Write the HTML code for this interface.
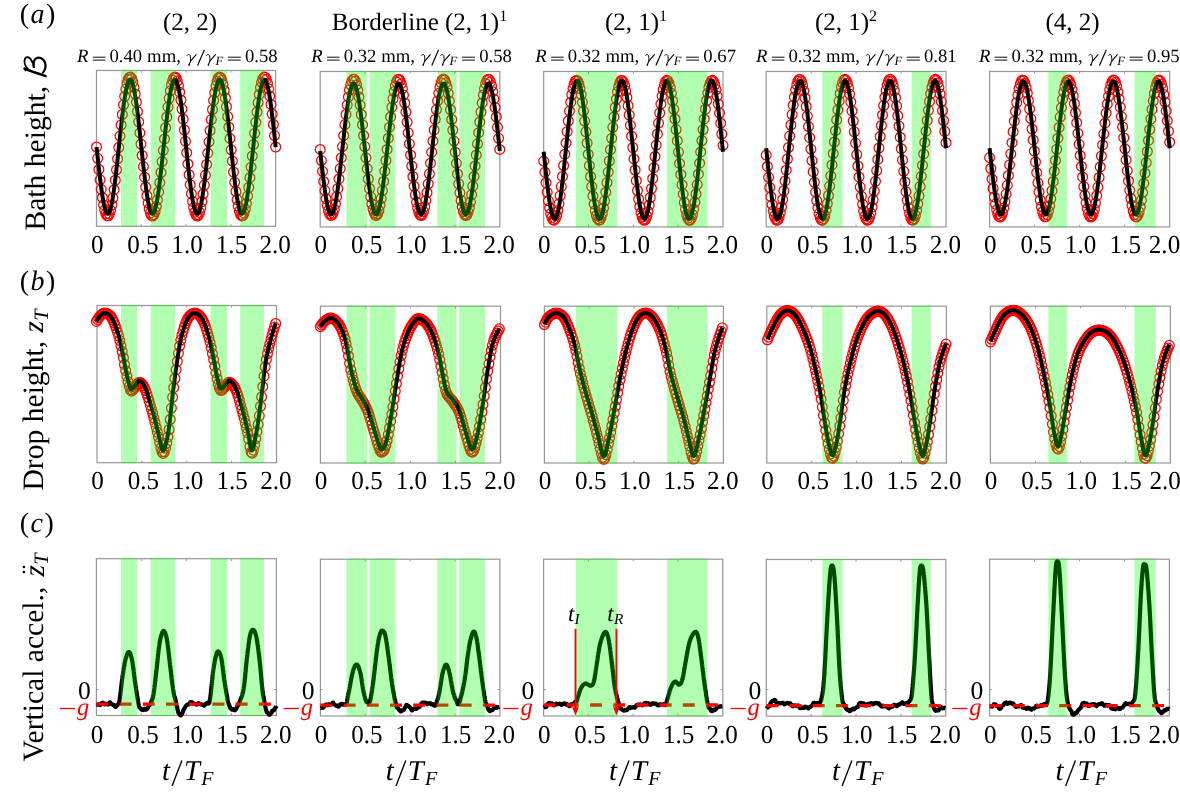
<!DOCTYPE html>
<html><head><meta charset="utf-8"><style>
html,body{margin:0;padding:0;background:#fff;width:1180px;height:793px;overflow:hidden}
svg{display:block;font-family:"Liberation Serif", serif;text-rendering:geometricPrecision;will-change:transform}
</style></head><body>
<svg width="1180" height="793" viewBox="0 0 1180 793">
<rect width="1180" height="793" fill="#fff"/>
<clipPath id="cpa0"><rect x="90.5" y="64.5" width="191.1" height="167.8"/></clipPath>
<g>
<rect x="96.5" y="70.5" width="179.1" height="155.8" fill="none" stroke="#969696" stroke-width="1.2"/>
<path d="M141.3 70.5v2.2M141.3 226.3v-2.2" stroke="#969696" stroke-width="1"/>
<path d="M186.1 70.5v2.2M186.1 226.3v-2.2" stroke="#969696" stroke-width="1"/>
<path d="M230.9 70.5v2.2M230.9 226.3v-2.2" stroke="#969696" stroke-width="1"/>
<g clip-path="url(#cpa0)">
<g fill="none" stroke="#ff0000" stroke-width="1.25"><circle cx="96.5" cy="147.0" r="4.9"/><circle cx="97.7" cy="158.3" r="4.9"/><circle cx="98.9" cy="169.4" r="4.9"/><circle cx="100.1" cy="179.8" r="4.9"/><circle cx="101.2" cy="189.3" r="4.9"/><circle cx="102.4" cy="197.7" r="4.9"/><circle cx="103.6" cy="204.7" r="4.9"/><circle cx="104.7" cy="210.1" r="4.9"/><circle cx="105.9" cy="213.8" r="4.9"/><circle cx="107.1" cy="215.7" r="4.9"/><circle cx="108.3" cy="215.8" r="4.9"/><circle cx="109.4" cy="214.0" r="4.9"/><circle cx="110.6" cy="210.3" r="4.9"/><circle cx="111.8" cy="205.0" r="4.9"/><circle cx="112.9" cy="198.0" r="4.9"/><circle cx="114.1" cy="189.7" r="4.9"/><circle cx="115.3" cy="180.2" r="4.9"/><circle cx="116.5" cy="169.8" r="4.9"/><circle cx="117.6" cy="158.8" r="4.9"/><circle cx="118.8" cy="147.5" r="4.9"/><circle cx="120.0" cy="136.1" r="4.9"/><circle cx="121.1" cy="125.0" r="4.9"/><circle cx="122.3" cy="114.5" r="4.9"/><circle cx="123.5" cy="104.8" r="4.9"/><circle cx="124.7" cy="96.3" r="4.9"/><circle cx="125.8" cy="89.1" r="4.9"/><circle cx="127.0" cy="83.5" r="4.9"/><circle cx="128.2" cy="79.5" r="4.9"/><circle cx="129.3" cy="77.4" r="4.9"/><circle cx="130.5" cy="77.1" r="4.9"/><circle cx="131.7" cy="78.7" r="4.9"/><circle cx="132.8" cy="82.1" r="4.9"/><circle cx="134.0" cy="87.3" r="4.9"/><circle cx="135.2" cy="94.0" r="4.9"/><circle cx="136.4" cy="102.2" r="4.9"/><circle cx="137.5" cy="111.5" r="4.9"/><circle cx="138.7" cy="121.8" r="4.9"/><circle cx="139.9" cy="132.8" r="4.9"/><circle cx="141.0" cy="144.1" r="4.9"/><circle cx="142.2" cy="155.5" r="4.9"/><circle cx="143.4" cy="166.6" r="4.9"/><circle cx="144.6" cy="177.2" r="4.9"/><circle cx="145.7" cy="187.0" r="4.9"/><circle cx="146.9" cy="195.7" r="4.9"/><circle cx="148.1" cy="203.1" r="4.9"/><circle cx="149.2" cy="208.9" r="4.9"/><circle cx="150.4" cy="213.1" r="4.9"/><circle cx="151.6" cy="215.4" r="4.9"/><circle cx="152.8" cy="216.0" r="4.9"/><circle cx="153.9" cy="214.6" r="4.9"/><circle cx="155.1" cy="211.4" r="4.9"/><circle cx="156.3" cy="206.5" r="4.9"/><circle cx="157.4" cy="199.9" r="4.9"/><circle cx="158.6" cy="191.9" r="4.9"/><circle cx="159.8" cy="182.7" r="4.9"/><circle cx="161.0" cy="172.5" r="4.9"/><circle cx="162.1" cy="161.6" r="4.9"/><circle cx="163.3" cy="150.3" r="4.9"/><circle cx="164.5" cy="138.9" r="4.9"/><circle cx="165.6" cy="127.7" r="4.9"/><circle cx="166.8" cy="117.0" r="4.9"/><circle cx="168.0" cy="107.1" r="4.9"/><circle cx="169.1" cy="98.3" r="4.9"/><circle cx="170.3" cy="90.8" r="4.9"/><circle cx="171.5" cy="84.7" r="4.9"/><circle cx="172.7" cy="80.3" r="4.9"/><circle cx="173.8" cy="77.8" r="4.9"/><circle cx="175.0" cy="77.0" r="4.9"/><circle cx="176.2" cy="78.1" r="4.9"/><circle cx="177.3" cy="81.1" r="4.9"/><circle cx="178.5" cy="85.8" r="4.9"/><circle cx="179.7" cy="92.2" r="4.9"/><circle cx="180.9" cy="100.0" r="4.9"/><circle cx="182.0" cy="109.1" r="4.9"/><circle cx="183.2" cy="119.2" r="4.9"/><circle cx="184.4" cy="130.0" r="4.9"/><circle cx="185.5" cy="141.3" r="4.9"/><circle cx="186.7" cy="152.7" r="4.9"/><circle cx="187.9" cy="163.9" r="4.9"/><circle cx="189.1" cy="174.7" r="4.9"/><circle cx="190.2" cy="184.7" r="4.9"/><circle cx="191.4" cy="193.7" r="4.9"/><circle cx="192.6" cy="201.4" r="4.9"/><circle cx="193.7" cy="207.6" r="4.9"/><circle cx="194.9" cy="212.2" r="4.9"/><circle cx="196.1" cy="215.0" r="4.9"/><circle cx="197.2" cy="216.0" r="4.9"/><circle cx="198.4" cy="215.1" r="4.9"/><circle cx="199.6" cy="212.4" r="4.9"/><circle cx="200.8" cy="207.9" r="4.9"/><circle cx="201.9" cy="201.7" r="4.9"/><circle cx="203.1" cy="194.0" r="4.9"/><circle cx="204.3" cy="185.1" r="4.9"/><circle cx="205.4" cy="175.1" r="4.9"/><circle cx="206.6" cy="164.4" r="4.9"/><circle cx="207.8" cy="153.2" r="4.9"/><circle cx="209.0" cy="141.8" r="4.9"/><circle cx="210.1" cy="130.5" r="4.9"/><circle cx="211.3" cy="119.6" r="4.9"/><circle cx="212.5" cy="109.5" r="4.9"/><circle cx="213.6" cy="100.4" r="4.9"/><circle cx="214.8" cy="92.5" r="4.9"/><circle cx="216.0" cy="86.1" r="4.9"/><circle cx="217.2" cy="81.3" r="4.9"/><circle cx="218.3" cy="78.2" r="4.9"/><circle cx="219.5" cy="77.0" r="4.9"/><circle cx="220.7" cy="77.7" r="4.9"/><circle cx="221.8" cy="80.2" r="4.9"/><circle cx="223.0" cy="84.5" r="4.9"/><circle cx="224.2" cy="90.5" r="4.9"/><circle cx="225.4" cy="97.9" r="4.9"/><circle cx="226.5" cy="106.7" r="4.9"/><circle cx="227.7" cy="116.6" r="4.9"/><circle cx="228.9" cy="127.2" r="4.9"/><circle cx="230.0" cy="138.4" r="4.9"/><circle cx="231.2" cy="149.8" r="4.9"/><circle cx="232.4" cy="161.1" r="4.9"/><circle cx="233.5" cy="172.0" r="4.9"/><circle cx="234.7" cy="182.3" r="4.9"/><circle cx="235.9" cy="191.5" r="4.9"/><circle cx="237.1" cy="199.6" r="4.9"/><circle cx="238.2" cy="206.2" r="4.9"/><circle cx="239.4" cy="211.2" r="4.9"/><circle cx="240.6" cy="214.5" r="4.9"/><circle cx="241.7" cy="215.9" r="4.9"/><circle cx="242.9" cy="215.5" r="4.9"/><circle cx="244.1" cy="213.2" r="4.9"/><circle cx="245.3" cy="209.1" r="4.9"/><circle cx="246.4" cy="203.4" r="4.9"/><circle cx="247.6" cy="196.1" r="4.9"/><circle cx="248.8" cy="187.4" r="4.9"/><circle cx="249.9" cy="177.7" r="4.9"/><circle cx="251.1" cy="167.1" r="4.9"/><circle cx="252.3" cy="156.0" r="4.9"/><circle cx="253.5" cy="144.6" r="4.9"/><circle cx="254.6" cy="133.3" r="4.9"/><circle cx="255.8" cy="122.3" r="4.9"/><circle cx="257.0" cy="112.0" r="4.9"/><circle cx="258.1" cy="102.6" r="4.9"/><circle cx="259.3" cy="94.4" r="4.9"/><circle cx="260.5" cy="87.5" r="4.9"/><circle cx="261.6" cy="82.3" r="4.9"/><circle cx="262.8" cy="78.8" r="4.9"/><circle cx="264.0" cy="77.1" r="4.9"/><circle cx="265.2" cy="77.3" r="4.9"/><circle cx="266.3" cy="79.4" r="4.9"/><circle cx="267.5" cy="83.3" r="4.9"/><circle cx="268.7" cy="88.8" r="4.9"/><circle cx="269.8" cy="95.9" r="4.9"/><circle cx="271.0" cy="104.4" r="4.9"/><circle cx="272.2" cy="114.0" r="4.9"/><circle cx="273.4" cy="124.5" r="4.9"/><circle cx="274.5" cy="135.6" r="4.9"/><circle cx="275.7" cy="147.0" r="4.9"/></g>
<path d="M96.5 147.1 L97.1 151.8 L97.6 156.5 L98.1 161.1 L98.6 165.7 L99.1 170.2 L99.6 174.5 L100.1 178.7 L100.6 182.8 L101.1 186.6 L101.6 190.3 L102.1 193.8 L102.6 197.0 L103.1 200.0 L103.6 202.7 L104.1 205.1 L104.6 207.3 L105.1 209.1 L105.6 210.7 L106.1 211.9 L106.6 212.8 L107.1 213.4 L107.6 213.7 L108.1 213.6 L108.6 213.2 L109.1 212.5 L109.6 211.4 L110.1 210.1 L110.6 208.4 L111.1 206.4 L111.6 204.1 L112.1 201.5 L112.6 198.7 L113.1 195.6 L113.6 192.3 L114.1 188.7 L114.6 185.0 L115.1 181.0 L115.6 176.9 L116.1 172.6 L116.6 168.2 L117.1 163.7 L117.6 159.1 L118.1 154.5 L118.6 149.8 L119.1 145.1 L119.6 140.4 L120.1 135.7 L120.6 131.1 L121.1 126.6 L121.6 122.2 L122.1 117.8 L122.6 113.7 L123.1 109.7 L123.6 105.8 L124.1 102.2 L124.6 98.8 L125.1 95.6 L125.6 92.7 L126.1 90.1 L126.6 87.7 L127.1 85.6 L127.6 83.8 L128.1 82.4 L128.6 81.2 L129.1 80.4 L129.6 79.9 L130.1 79.7 L130.6 79.9 L131.1 80.3 L131.6 81.1 L132.1 82.3 L132.6 83.7 L133.1 85.5 L133.6 87.6 L134.1 89.9 L134.6 92.5 L135.1 95.4 L135.6 98.6 L136.1 102.0 L136.6 105.6 L137.1 109.4 L137.6 113.4 L138.1 117.6 L138.6 121.9 L139.1 126.3 L139.6 130.8 L140.1 135.4 L140.6 140.1 L141.1 144.8 L141.6 149.5 L142.1 154.2 L142.6 158.8 L143.1 163.4 L143.6 167.9 L144.1 172.3 L144.6 176.6 L145.1 180.7 L145.6 184.7 L146.1 188.5 L146.6 192.1 L147.1 195.4 L147.6 198.5 L148.1 201.4 L148.6 203.9 L149.1 206.2 L149.6 208.3 L150.1 210.0 L150.6 211.4 L151.1 212.4 L151.6 213.2 L152.1 213.6 L152.6 213.7 L153.1 213.5 L153.6 212.9 L154.1 212.0 L154.6 210.8 L155.1 209.3 L155.6 207.4 L156.1 205.3 L156.6 202.9 L157.1 200.2 L157.6 197.2 L158.1 194.0 L158.6 190.5 L159.1 186.9 L159.6 183.0 L160.1 179.0 L160.6 174.8 L161.1 170.4 L161.6 166.0 L162.1 161.4 L162.6 156.8 L163.1 152.1 L163.6 147.4 L164.1 142.7 L164.6 138.1 L165.1 133.4 L165.6 128.8 L166.1 124.4 L166.6 120.0 L167.1 115.7 L167.6 111.6 L168.1 107.7 L168.6 104.0 L169.1 100.5 L169.6 97.2 L170.1 94.1 L170.6 91.4 L171.1 88.8 L171.6 86.6 L172.1 84.7 L172.6 83.1 L173.1 81.7 L173.6 80.8 L174.1 80.1 L174.6 79.7 L175.1 79.7 L175.6 80.1 L176.1 80.7 L176.6 81.7 L177.1 83.0 L177.6 84.6 L178.1 86.5 L178.6 88.7 L179.1 91.2 L179.6 94.0 L180.1 97.0 L180.6 100.3 L181.1 103.8 L181.6 107.5 L182.1 111.4 L182.6 115.5 L183.1 119.7 L183.6 124.1 L184.1 128.6 L184.6 133.1 L185.1 137.8 L185.6 142.4 L186.1 147.1 L186.6 151.8 L187.1 156.5 L187.6 161.1 L188.1 165.7 L188.6 170.2 L189.1 174.5 L189.6 178.7 L190.1 182.8 L190.6 186.6 L191.1 190.3 L191.6 193.8 L192.1 197.0 L192.6 200.0 L193.1 202.7 L193.6 205.1 L194.1 207.3 L194.6 209.1 L195.1 210.7 L195.6 211.9 L196.1 212.8 L196.6 213.4 L197.1 213.7 L197.6 213.6 L198.1 213.2 L198.6 212.5 L199.1 211.4 L199.6 210.1 L200.1 208.4 L200.6 206.4 L201.1 204.1 L201.6 201.5 L202.1 198.7 L202.6 195.6 L203.1 192.3 L203.6 188.7 L204.1 185.0 L204.6 181.0 L205.1 176.9 L205.6 172.6 L206.1 168.2 L206.6 163.7 L207.1 159.1 L207.6 154.5 L208.1 149.8 L208.6 145.1 L209.1 140.4 L209.6 135.7 L210.1 131.1 L210.6 126.6 L211.1 122.2 L211.6 117.8 L212.1 113.7 L212.6 109.7 L213.1 105.8 L213.6 102.2 L214.1 98.8 L214.6 95.6 L215.1 92.7 L215.6 90.1 L216.2 87.7 L216.7 85.6 L217.2 83.8 L217.7 82.4 L218.2 81.2 L218.7 80.4 L219.2 79.9 L219.7 79.7 L220.2 79.9 L220.7 80.3 L221.2 81.1 L221.7 82.3 L222.2 83.7 L222.7 85.5 L223.2 87.6 L223.7 89.9 L224.2 92.5 L224.7 95.4 L225.2 98.6 L225.7 102.0 L226.2 105.6 L226.7 109.4 L227.2 113.4 L227.7 117.6 L228.2 121.9 L228.7 126.3 L229.2 130.8 L229.7 135.4 L230.2 140.1 L230.7 144.8 L231.2 149.5 L231.7 154.2 L232.2 158.8 L232.7 163.4 L233.2 167.9 L233.7 172.3 L234.2 176.6 L234.7 180.7 L235.2 184.7 L235.7 188.5 L236.2 192.1 L236.7 195.4 L237.2 198.5 L237.7 201.4 L238.2 203.9 L238.7 206.2 L239.2 208.3 L239.7 210.0 L240.2 211.4 L240.7 212.4 L241.2 213.2 L241.7 213.6 L242.2 213.7 L242.7 213.5 L243.2 212.9 L243.7 212.0 L244.2 210.8 L244.7 209.3 L245.2 207.4 L245.7 205.3 L246.2 202.9 L246.7 200.2 L247.2 197.2 L247.7 194.0 L248.2 190.5 L248.7 186.9 L249.2 183.0 L249.7 179.0 L250.2 174.8 L250.7 170.4 L251.2 166.0 L251.7 161.4 L252.2 156.8 L252.7 152.1 L253.2 147.4 L253.7 142.7 L254.2 138.1 L254.7 133.4 L255.2 128.8 L255.7 124.4 L256.2 120.0 L256.7 115.7 L257.2 111.6 L257.7 107.7 L258.2 104.0 L258.7 100.5 L259.2 97.2 L259.7 94.1 L260.2 91.4 L260.7 88.8 L261.2 86.6 L261.7 84.7 L262.2 83.1 L262.7 81.7 L263.2 80.8 L263.7 80.1 L264.2 79.7 L264.7 79.7 L265.2 80.1 L265.7 80.7 L266.2 81.7 L266.7 83.0 L267.2 84.6 L267.7 86.5 L268.2 88.7 L268.7 91.2 L269.2 94.0 L269.7 97.0 L270.2 100.3 L270.7 103.8 L271.2 107.5 L271.7 111.4 L272.2 115.5 L272.7 119.7 L273.2 124.1 L273.7 128.6 L274.2 133.1 L274.7 137.8 L275.2 142.4 L275.7 147.1" fill="none" stroke="#000" stroke-width="4.0" stroke-linejoin="round" stroke-linecap="butt"/>
</g>
<rect x="121.0" y="69.9" width="16.0" height="157.0" fill="#00ff00" fill-opacity="0.3"/>
<rect x="150.6" y="69.9" width="24.6" height="157.0" fill="#00ff00" fill-opacity="0.3"/>
<rect x="210.6" y="69.9" width="16.4" height="157.0" fill="#00ff00" fill-opacity="0.3"/>
<rect x="240.2" y="69.9" width="23.8" height="157.0" fill="#00ff00" fill-opacity="0.3"/>
</g>
<clipPath id="cpa1"><rect x="314.2" y="65.5" width="191.6" height="167.4"/></clipPath>
<g>
<rect x="320.2" y="71.5" width="179.6" height="155.4" fill="none" stroke="#969696" stroke-width="1.2"/>
<path d="M365.1 71.5v2.2M365.1 226.9v-2.2" stroke="#969696" stroke-width="1"/>
<path d="M410.0 71.5v2.2M410.0 226.9v-2.2" stroke="#969696" stroke-width="1"/>
<path d="M454.9 71.5v2.2M454.9 226.9v-2.2" stroke="#969696" stroke-width="1"/>
<g clip-path="url(#cpa1)">
<g fill="none" stroke="#ff0000" stroke-width="1.25"><circle cx="320.2" cy="149.4" r="4.9"/><circle cx="321.4" cy="160.6" r="4.9"/><circle cx="322.5" cy="171.3" r="4.9"/><circle cx="323.7" cy="181.4" r="4.9"/><circle cx="324.9" cy="190.6" r="4.9"/><circle cx="326.1" cy="198.7" r="4.9"/><circle cx="327.2" cy="205.3" r="4.9"/><circle cx="328.4" cy="210.4" r="4.9"/><circle cx="329.6" cy="213.8" r="4.9"/><circle cx="330.8" cy="215.4" r="4.9"/><circle cx="331.9" cy="215.1" r="4.9"/><circle cx="333.1" cy="213.1" r="4.9"/><circle cx="334.3" cy="209.2" r="4.9"/><circle cx="335.5" cy="203.7" r="4.9"/><circle cx="336.6" cy="196.7" r="4.9"/><circle cx="337.8" cy="188.4" r="4.9"/><circle cx="339.0" cy="178.9" r="4.9"/><circle cx="340.2" cy="168.6" r="4.9"/><circle cx="341.3" cy="157.7" r="4.9"/><circle cx="342.5" cy="146.6" r="4.9"/><circle cx="343.7" cy="135.4" r="4.9"/><circle cx="344.9" cy="124.6" r="4.9"/><circle cx="346.0" cy="114.4" r="4.9"/><circle cx="347.2" cy="105.1" r="4.9"/><circle cx="348.4" cy="96.9" r="4.9"/><circle cx="349.5" cy="90.0" r="4.9"/><circle cx="350.7" cy="84.8" r="4.9"/><circle cx="351.9" cy="81.1" r="4.9"/><circle cx="353.1" cy="79.3" r="4.9"/><circle cx="354.2" cy="79.3" r="4.9"/><circle cx="355.4" cy="81.2" r="4.9"/><circle cx="356.6" cy="84.8" r="4.9"/><circle cx="357.8" cy="90.1" r="4.9"/><circle cx="358.9" cy="96.9" r="4.9"/><circle cx="360.1" cy="105.1" r="4.9"/><circle cx="361.3" cy="114.5" r="4.9"/><circle cx="362.5" cy="124.7" r="4.9"/><circle cx="363.6" cy="135.5" r="4.9"/><circle cx="364.8" cy="146.6" r="4.9"/><circle cx="366.0" cy="157.8" r="4.9"/><circle cx="367.2" cy="168.7" r="4.9"/><circle cx="368.3" cy="179.0" r="4.9"/><circle cx="369.5" cy="188.4" r="4.9"/><circle cx="370.7" cy="196.8" r="4.9"/><circle cx="371.8" cy="203.8" r="4.9"/><circle cx="373.0" cy="209.3" r="4.9"/><circle cx="374.2" cy="213.1" r="4.9"/><circle cx="375.4" cy="215.1" r="4.9"/><circle cx="376.5" cy="215.4" r="4.9"/><circle cx="377.7" cy="213.8" r="4.9"/><circle cx="378.9" cy="210.4" r="4.9"/><circle cx="380.1" cy="205.3" r="4.9"/><circle cx="381.2" cy="198.6" r="4.9"/><circle cx="382.4" cy="190.6" r="4.9"/><circle cx="383.6" cy="181.4" r="4.9"/><circle cx="384.8" cy="171.2" r="4.9"/><circle cx="385.9" cy="160.5" r="4.9"/><circle cx="387.1" cy="149.4" r="4.9"/><circle cx="388.3" cy="138.2" r="4.9"/><circle cx="389.5" cy="127.2" r="4.9"/><circle cx="390.6" cy="116.9" r="4.9"/><circle cx="391.8" cy="107.3" r="4.9"/><circle cx="393.0" cy="98.8" r="4.9"/><circle cx="394.2" cy="91.6" r="4.9"/><circle cx="395.3" cy="85.9" r="4.9"/><circle cx="396.5" cy="81.9" r="4.9"/><circle cx="397.7" cy="79.6" r="4.9"/><circle cx="398.8" cy="79.2" r="4.9"/><circle cx="400.0" cy="80.5" r="4.9"/><circle cx="401.2" cy="83.7" r="4.9"/><circle cx="402.4" cy="88.6" r="4.9"/><circle cx="403.5" cy="95.1" r="4.9"/><circle cx="404.7" cy="103.0" r="4.9"/><circle cx="405.9" cy="112.0" r="4.9"/><circle cx="407.1" cy="122.1" r="4.9"/><circle cx="408.2" cy="132.8" r="4.9"/><circle cx="409.4" cy="143.8" r="4.9"/><circle cx="410.6" cy="155.0" r="4.9"/><circle cx="411.8" cy="166.0" r="4.9"/><circle cx="412.9" cy="176.5" r="4.9"/><circle cx="414.1" cy="186.2" r="4.9"/><circle cx="415.3" cy="194.8" r="4.9"/><circle cx="416.5" cy="202.2" r="4.9"/><circle cx="417.6" cy="208.1" r="4.9"/><circle cx="418.8" cy="212.3" r="4.9"/><circle cx="420.0" cy="214.8" r="4.9"/><circle cx="421.2" cy="215.5" r="4.9"/><circle cx="422.3" cy="214.3" r="4.9"/><circle cx="423.5" cy="211.4" r="4.9"/><circle cx="424.7" cy="206.7" r="4.9"/><circle cx="425.8" cy="200.4" r="4.9"/><circle cx="427.0" cy="192.7" r="4.9"/><circle cx="428.2" cy="183.8" r="4.9"/><circle cx="429.4" cy="173.8" r="4.9"/><circle cx="430.5" cy="163.2" r="4.9"/><circle cx="431.7" cy="152.2" r="4.9"/><circle cx="432.9" cy="141.0" r="4.9"/><circle cx="434.1" cy="129.9" r="4.9"/><circle cx="435.2" cy="119.4" r="4.9"/><circle cx="436.4" cy="109.6" r="4.9"/><circle cx="437.6" cy="100.8" r="4.9"/><circle cx="438.8" cy="93.3" r="4.9"/><circle cx="439.9" cy="87.2" r="4.9"/><circle cx="441.1" cy="82.7" r="4.9"/><circle cx="442.3" cy="80.0" r="4.9"/><circle cx="443.5" cy="79.1" r="4.9"/><circle cx="444.6" cy="80.0" r="4.9"/><circle cx="445.8" cy="82.8" r="4.9"/><circle cx="447.0" cy="87.2" r="4.9"/><circle cx="448.2" cy="93.3" r="4.9"/><circle cx="449.3" cy="100.9" r="4.9"/><circle cx="450.5" cy="109.7" r="4.9"/><circle cx="451.7" cy="119.5" r="4.9"/><circle cx="452.8" cy="130.0" r="4.9"/><circle cx="454.0" cy="141.1" r="4.9"/><circle cx="455.2" cy="152.2" r="4.9"/><circle cx="456.4" cy="163.3" r="4.9"/><circle cx="457.5" cy="173.9" r="4.9"/><circle cx="458.7" cy="183.8" r="4.9"/><circle cx="459.9" cy="192.8" r="4.9"/><circle cx="461.1" cy="200.5" r="4.9"/><circle cx="462.2" cy="206.7" r="4.9"/><circle cx="463.4" cy="211.4" r="4.9"/><circle cx="464.6" cy="214.3" r="4.9"/><circle cx="465.8" cy="215.5" r="4.9"/><circle cx="466.9" cy="214.8" r="4.9"/><circle cx="468.1" cy="212.3" r="4.9"/><circle cx="469.3" cy="208.0" r="4.9"/><circle cx="470.5" cy="202.1" r="4.9"/><circle cx="471.6" cy="194.7" r="4.9"/><circle cx="472.8" cy="186.1" r="4.9"/><circle cx="474.0" cy="176.4" r="4.9"/><circle cx="475.1" cy="165.9" r="4.9"/><circle cx="476.3" cy="154.9" r="4.9"/><circle cx="477.5" cy="143.8" r="4.9"/><circle cx="478.7" cy="132.7" r="4.9"/><circle cx="479.8" cy="122.0" r="4.9"/><circle cx="481.0" cy="112.0" r="4.9"/><circle cx="482.2" cy="102.9" r="4.9"/><circle cx="483.4" cy="95.0" r="4.9"/><circle cx="484.5" cy="88.6" r="4.9"/><circle cx="485.7" cy="83.7" r="4.9"/><circle cx="486.9" cy="80.5" r="4.9"/><circle cx="488.1" cy="79.2" r="4.9"/><circle cx="489.2" cy="79.6" r="4.9"/><circle cx="490.4" cy="81.9" r="4.9"/><circle cx="491.6" cy="86.0" r="4.9"/><circle cx="492.8" cy="91.7" r="4.9"/><circle cx="493.9" cy="98.9" r="4.9"/><circle cx="495.1" cy="107.4" r="4.9"/><circle cx="496.3" cy="116.9" r="4.9"/><circle cx="497.5" cy="127.3" r="4.9"/><circle cx="498.6" cy="138.3" r="4.9"/><circle cx="499.8" cy="149.4" r="4.9"/></g>
<path d="M320.2 151.0 L320.7 155.5 L321.2 160.1 L321.7 164.6 L322.2 169.0 L322.7 173.3 L323.2 177.5 L323.7 181.5 L324.2 185.4 L324.7 189.1 L325.2 192.7 L325.7 196.0 L326.2 199.0 L326.7 201.9 L327.2 204.4 L327.7 206.7 L328.2 208.7 L328.7 210.4 L329.2 211.9 L329.7 213.0 L330.2 213.8 L330.7 214.2 L331.2 214.4 L331.7 214.2 L332.2 213.8 L332.7 212.9 L333.2 211.8 L333.7 210.4 L334.2 208.7 L334.7 206.7 L335.2 204.4 L335.7 201.8 L336.2 199.0 L336.7 195.9 L337.2 192.6 L337.7 189.1 L338.2 185.3 L338.7 181.4 L339.2 177.4 L339.7 173.2 L340.2 168.9 L340.7 164.5 L341.2 160.0 L341.7 155.4 L342.2 150.8 L342.7 146.3 L343.2 141.7 L343.7 137.2 L344.2 132.7 L344.7 128.3 L345.2 124.0 L345.7 119.8 L346.2 115.8 L346.7 111.9 L347.2 108.2 L347.7 104.7 L348.2 101.4 L348.7 98.4 L349.2 95.6 L349.7 93.1 L350.2 90.8 L350.7 88.8 L351.2 87.2 L351.7 85.8 L352.2 84.7 L352.7 84.0 L353.2 83.5 L353.7 83.4 L354.2 83.6 L354.7 84.1 L355.2 85.0 L355.7 86.1 L356.2 87.6 L356.7 89.4 L357.2 91.4 L357.7 93.7 L358.2 96.4 L358.7 99.2 L359.2 102.3 L359.7 105.7 L360.2 109.2 L360.7 112.9 L361.2 116.9 L361.7 120.9 L362.2 125.1 L362.7 129.5 L363.2 133.9 L363.7 138.4 L364.2 142.9 L364.7 147.5 L365.2 152.1 L365.7 156.7 L366.2 161.2 L366.7 165.7 L367.2 170.1 L367.7 174.3 L368.2 178.5 L368.7 182.5 L369.2 186.4 L369.7 190.0 L370.2 193.5 L370.7 196.7 L371.2 199.8 L371.7 202.5 L372.2 205.0 L372.7 207.2 L373.2 209.2 L373.7 210.8 L374.2 212.2 L374.7 213.2 L375.2 213.9 L375.7 214.3 L376.2 214.4 L376.7 214.1 L377.2 213.6 L377.7 212.7 L378.2 211.5 L378.7 210.0 L379.2 208.2 L379.7 206.1 L380.2 203.7 L380.7 201.1 L381.2 198.2 L381.7 195.1 L382.2 191.7 L382.7 188.1 L383.2 184.4 L383.7 180.4 L384.2 176.3 L384.7 172.1 L385.2 167.8 L385.7 163.3 L386.2 158.8 L386.7 154.3 L387.2 149.7 L387.7 145.1 L388.2 140.6 L388.7 136.0 L389.2 131.6 L389.7 127.2 L390.2 122.9 L390.7 118.8 L391.2 114.8 L391.7 111.0 L392.2 107.3 L392.7 103.9 L393.2 100.7 L393.7 97.7 L394.2 95.0 L394.7 92.5 L395.2 90.3 L395.7 88.4 L396.2 86.8 L396.7 85.5 L397.2 84.5 L397.7 83.8 L398.2 83.5 L398.7 83.4 L399.2 83.7 L399.7 84.3 L400.2 85.2 L400.7 86.5 L401.2 88.0 L401.7 89.8 L402.2 92.0 L402.7 94.4 L403.2 97.0 L403.7 100.0 L404.2 103.1 L404.7 106.5 L405.2 110.1 L405.7 113.9 L406.2 117.9 L406.7 122.0 L407.2 126.2 L407.7 130.6 L408.2 135.0 L408.7 139.5 L409.2 144.1 L409.7 148.7 L410.3 153.3 L410.8 157.8 L411.3 162.3 L411.8 166.8 L412.3 171.1 L412.8 175.4 L413.3 179.5 L413.8 183.5 L414.3 187.3 L414.8 190.9 L415.3 194.3 L415.8 197.5 L416.3 200.5 L416.8 203.2 L417.3 205.6 L417.8 207.8 L418.3 209.6 L418.8 211.2 L419.3 212.5 L419.8 213.4 L420.3 214.0 L420.8 214.4 L421.3 214.4 L421.8 214.0 L422.3 213.4 L422.8 212.4 L423.3 211.2 L423.8 209.6 L424.3 207.7 L424.8 205.5 L425.3 203.1 L425.8 200.4 L426.3 197.4 L426.8 194.3 L427.3 190.8 L427.8 187.2 L428.3 183.4 L428.8 179.4 L429.3 175.3 L429.8 171.0 L430.3 166.7 L430.8 162.2 L431.3 157.7 L431.8 153.1 L432.3 148.6 L432.8 144.0 L433.3 139.4 L433.8 134.9 L434.3 130.5 L434.8 126.1 L435.3 121.9 L435.8 117.8 L436.3 113.8 L436.8 110.0 L437.3 106.4 L437.8 103.1 L438.3 99.9 L438.8 97.0 L439.3 94.3 L439.8 91.9 L440.3 89.8 L440.8 88.0 L441.3 86.4 L441.8 85.2 L442.3 84.3 L442.8 83.7 L443.3 83.4 L443.8 83.5 L444.3 83.8 L444.8 84.5 L445.3 85.5 L445.8 86.8 L446.3 88.4 L446.8 90.3 L447.3 92.5 L447.8 95.0 L448.3 97.8 L448.8 100.7 L449.3 104.0 L449.8 107.4 L450.3 111.1 L450.8 114.9 L451.3 118.9 L451.8 123.0 L452.3 127.3 L452.8 131.7 L453.3 136.1 L453.8 140.7 L454.3 145.2 L454.8 149.8 L455.3 154.4 L455.8 158.9 L456.3 163.5 L456.8 167.9 L457.3 172.2 L457.8 176.4 L458.3 180.5 L458.8 184.5 L459.3 188.2 L459.8 191.8 L460.3 195.2 L460.8 198.3 L461.3 201.2 L461.8 203.8 L462.3 206.2 L462.8 208.3 L463.3 210.0 L463.8 211.5 L464.3 212.7 L464.8 213.6 L465.3 214.2 L465.8 214.4 L466.3 214.3 L466.8 213.9 L467.3 213.2 L467.8 212.1 L468.3 210.8 L468.8 209.1 L469.3 207.2 L469.8 205.0 L470.3 202.5 L470.8 199.7 L471.3 196.7 L471.8 193.4 L472.3 190.0 L472.8 186.3 L473.3 182.4 L473.8 178.4 L474.3 174.2 L474.8 170.0 L475.3 165.6 L475.8 161.1 L476.3 156.6 L476.8 152.0 L477.3 147.4 L477.8 142.8 L478.3 138.3 L478.8 133.8 L479.3 129.4 L479.8 125.0 L480.3 120.8 L480.8 116.8 L481.3 112.9 L481.8 109.1 L482.3 105.6 L482.8 102.2 L483.3 99.1 L483.8 96.3 L484.3 93.7 L484.8 91.4 L485.3 89.3 L485.8 87.6 L486.3 86.1 L486.8 84.9 L487.3 84.1 L487.8 83.6 L488.3 83.4 L488.8 83.5 L489.3 84.0 L489.8 84.7 L490.3 85.8 L490.8 87.2 L491.3 88.9 L491.8 90.9 L492.3 93.1 L492.8 95.7 L493.3 98.5 L493.8 101.5 L494.3 104.8 L494.8 108.3 L495.3 112.0 L495.8 115.9 L496.3 119.9 L496.8 124.1 L497.3 128.4 L497.8 132.8 L498.3 137.3 L498.8 141.8 L499.3 146.4 L499.8 151.0" fill="none" stroke="#000" stroke-width="4.0" stroke-linejoin="round" stroke-linecap="butt"/>
</g>
<rect x="346.5" y="70.9" width="20.3" height="156.6" fill="#00ff00" fill-opacity="0.3"/>
<rect x="369.5" y="70.9" width="25.8" height="156.6" fill="#00ff00" fill-opacity="0.3"/>
<rect x="437.4" y="70.9" width="19.2" height="156.6" fill="#00ff00" fill-opacity="0.3"/>
<rect x="459.2" y="70.9" width="25.8" height="156.6" fill="#00ff00" fill-opacity="0.3"/>
</g>
<clipPath id="cpa2"><rect x="537.7" y="65.5" width="191.3" height="167.4"/></clipPath>
<g>
<rect x="543.7" y="71.5" width="179.3" height="155.4" fill="none" stroke="#969696" stroke-width="1.2"/>
<path d="M588.5 71.5v2.2M588.5 226.9v-2.2" stroke="#969696" stroke-width="1"/>
<path d="M633.4 71.5v2.2M633.4 226.9v-2.2" stroke="#969696" stroke-width="1"/>
<path d="M678.2 71.5v2.2M678.2 226.9v-2.2" stroke="#969696" stroke-width="1"/>
<g clip-path="url(#cpa2)">
<g fill="none" stroke="#ff0000" stroke-width="1.25"><circle cx="543.7" cy="161.1" r="4.9"/><circle cx="544.9" cy="172.2" r="4.9"/><circle cx="546.0" cy="182.7" r="4.9"/><circle cx="547.2" cy="192.3" r="4.9"/><circle cx="548.4" cy="200.8" r="4.9"/><circle cx="549.6" cy="208.0" r="4.9"/><circle cx="550.7" cy="213.7" r="4.9"/><circle cx="551.9" cy="217.6" r="4.9"/><circle cx="553.1" cy="219.8" r="4.9"/><circle cx="554.2" cy="220.2" r="4.9"/><circle cx="555.4" cy="218.7" r="4.9"/><circle cx="556.6" cy="215.4" r="4.9"/><circle cx="557.8" cy="210.4" r="4.9"/><circle cx="558.9" cy="203.8" r="4.9"/><circle cx="560.1" cy="195.8" r="4.9"/><circle cx="561.3" cy="186.6" r="4.9"/><circle cx="562.5" cy="176.4" r="4.9"/><circle cx="563.6" cy="165.5" r="4.9"/><circle cx="564.8" cy="154.2" r="4.9"/><circle cx="566.0" cy="142.9" r="4.9"/><circle cx="567.1" cy="131.7" r="4.9"/><circle cx="568.3" cy="121.0" r="4.9"/><circle cx="569.5" cy="111.1" r="4.9"/><circle cx="570.7" cy="102.2" r="4.9"/><circle cx="571.8" cy="94.6" r="4.9"/><circle cx="573.0" cy="88.5" r="4.9"/><circle cx="574.2" cy="84.0" r="4.9"/><circle cx="575.3" cy="81.2" r="4.9"/><circle cx="576.5" cy="80.3" r="4.9"/><circle cx="577.7" cy="81.2" r="4.9"/><circle cx="578.9" cy="84.0" r="4.9"/><circle cx="580.0" cy="88.5" r="4.9"/><circle cx="581.2" cy="94.6" r="4.9"/><circle cx="582.4" cy="102.3" r="4.9"/><circle cx="583.5" cy="111.1" r="4.9"/><circle cx="584.7" cy="121.1" r="4.9"/><circle cx="585.9" cy="131.8" r="4.9"/><circle cx="587.1" cy="143.0" r="4.9"/><circle cx="588.2" cy="154.3" r="4.9"/><circle cx="589.4" cy="165.6" r="4.9"/><circle cx="590.6" cy="176.5" r="4.9"/><circle cx="591.7" cy="186.6" r="4.9"/><circle cx="592.9" cy="195.9" r="4.9"/><circle cx="594.1" cy="203.9" r="4.9"/><circle cx="595.3" cy="210.5" r="4.9"/><circle cx="596.4" cy="215.5" r="4.9"/><circle cx="597.6" cy="218.7" r="4.9"/><circle cx="598.8" cy="220.2" r="4.9"/><circle cx="600.0" cy="219.8" r="4.9"/><circle cx="601.1" cy="217.6" r="4.9"/><circle cx="602.3" cy="213.6" r="4.9"/><circle cx="603.5" cy="208.0" r="4.9"/><circle cx="604.6" cy="200.8" r="4.9"/><circle cx="605.8" cy="192.2" r="4.9"/><circle cx="607.0" cy="182.6" r="4.9"/><circle cx="608.2" cy="172.1" r="4.9"/><circle cx="609.3" cy="161.0" r="4.9"/><circle cx="610.5" cy="149.7" r="4.9"/><circle cx="611.7" cy="138.3" r="4.9"/><circle cx="612.8" cy="127.3" r="4.9"/><circle cx="614.0" cy="116.9" r="4.9"/><circle cx="615.2" cy="107.4" r="4.9"/><circle cx="616.4" cy="99.0" r="4.9"/><circle cx="617.5" cy="91.9" r="4.9"/><circle cx="618.7" cy="86.5" r="4.9"/><circle cx="619.9" cy="82.6" r="4.9"/><circle cx="621.0" cy="80.6" r="4.9"/><circle cx="622.2" cy="80.5" r="4.9"/><circle cx="623.4" cy="82.1" r="4.9"/><circle cx="624.6" cy="85.6" r="4.9"/><circle cx="625.7" cy="90.8" r="4.9"/><circle cx="626.9" cy="97.5" r="4.9"/><circle cx="628.1" cy="105.7" r="4.9"/><circle cx="629.2" cy="115.0" r="4.9"/><circle cx="630.4" cy="125.3" r="4.9"/><circle cx="631.6" cy="136.2" r="4.9"/><circle cx="632.8" cy="147.5" r="4.9"/><circle cx="633.9" cy="158.9" r="4.9"/><circle cx="635.1" cy="170.0" r="4.9"/><circle cx="636.3" cy="180.7" r="4.9"/><circle cx="637.5" cy="190.5" r="4.9"/><circle cx="638.6" cy="199.2" r="4.9"/><circle cx="639.8" cy="206.7" r="4.9"/><circle cx="641.0" cy="212.7" r="4.9"/><circle cx="642.1" cy="217.0" r="4.9"/><circle cx="643.3" cy="219.6" r="4.9"/><circle cx="644.5" cy="220.3" r="4.9"/><circle cx="645.7" cy="219.2" r="4.9"/><circle cx="646.8" cy="216.2" r="4.9"/><circle cx="648.0" cy="211.5" r="4.9"/><circle cx="649.2" cy="205.2" r="4.9"/><circle cx="650.3" cy="197.5" r="4.9"/><circle cx="651.5" cy="188.5" r="4.9"/><circle cx="652.7" cy="178.5" r="4.9"/><circle cx="653.9" cy="167.7" r="4.9"/><circle cx="655.0" cy="156.5" r="4.9"/><circle cx="656.2" cy="145.1" r="4.9"/><circle cx="657.4" cy="133.9" r="4.9"/><circle cx="658.5" cy="123.1" r="4.9"/><circle cx="659.7" cy="113.0" r="4.9"/><circle cx="660.9" cy="103.9" r="4.9"/><circle cx="662.1" cy="96.0" r="4.9"/><circle cx="663.2" cy="89.5" r="4.9"/><circle cx="664.4" cy="84.7" r="4.9"/><circle cx="665.6" cy="81.6" r="4.9"/><circle cx="666.7" cy="80.3" r="4.9"/><circle cx="667.9" cy="80.9" r="4.9"/><circle cx="669.1" cy="83.3" r="4.9"/><circle cx="670.3" cy="87.5" r="4.9"/><circle cx="671.4" cy="93.3" r="4.9"/><circle cx="672.6" cy="100.7" r="4.9"/><circle cx="673.8" cy="109.3" r="4.9"/><circle cx="675.0" cy="119.0" r="4.9"/><circle cx="676.1" cy="129.6" r="4.9"/><circle cx="677.3" cy="140.7" r="4.9"/><circle cx="678.5" cy="152.1" r="4.9"/><circle cx="679.6" cy="163.4" r="4.9"/><circle cx="680.8" cy="174.4" r="4.9"/><circle cx="682.0" cy="184.7" r="4.9"/><circle cx="683.2" cy="194.1" r="4.9"/><circle cx="684.3" cy="202.4" r="4.9"/><circle cx="685.5" cy="209.3" r="4.9"/><circle cx="686.7" cy="214.6" r="4.9"/><circle cx="687.8" cy="218.2" r="4.9"/><circle cx="689.0" cy="220.1" r="4.9"/><circle cx="690.2" cy="220.1" r="4.9"/><circle cx="691.4" cy="218.2" r="4.9"/><circle cx="692.5" cy="214.6" r="4.9"/><circle cx="693.7" cy="209.2" r="4.9"/><circle cx="694.9" cy="202.3" r="4.9"/><circle cx="696.0" cy="194.0" r="4.9"/><circle cx="697.2" cy="184.6" r="4.9"/><circle cx="698.4" cy="174.2" r="4.9"/><circle cx="699.6" cy="163.2" r="4.9"/><circle cx="700.7" cy="151.9" r="4.9"/><circle cx="701.9" cy="140.6" r="4.9"/><circle cx="703.1" cy="129.5" r="4.9"/><circle cx="704.2" cy="118.9" r="4.9"/><circle cx="705.4" cy="109.2" r="4.9"/><circle cx="706.6" cy="100.5" r="4.9"/><circle cx="707.8" cy="93.2" r="4.9"/><circle cx="708.9" cy="87.4" r="4.9"/><circle cx="710.1" cy="83.3" r="4.9"/><circle cx="711.3" cy="80.9" r="4.9"/><circle cx="712.5" cy="80.3" r="4.9"/><circle cx="713.6" cy="81.6" r="4.9"/><circle cx="714.8" cy="84.8" r="4.9"/><circle cx="716.0" cy="89.6" r="4.9"/><circle cx="717.1" cy="96.1" r="4.9"/><circle cx="718.3" cy="104.0" r="4.9"/><circle cx="719.5" cy="113.1" r="4.9"/><circle cx="720.7" cy="123.2" r="4.9"/><circle cx="721.8" cy="134.0" r="4.9"/><circle cx="723.0" cy="145.3" r="4.9"/></g>
<path d="M543.7 151.8 L544.2 156.6 L544.7 161.5 L545.2 166.2 L545.7 170.9 L546.2 175.5 L546.7 179.9 L547.2 184.2 L547.7 188.3 L548.2 192.3 L548.7 196.0 L549.2 199.5 L549.7 202.8 L550.2 205.7 L550.7 208.5 L551.2 210.9 L551.7 213.0 L552.2 214.8 L552.7 216.3 L553.2 217.5 L553.7 218.3 L554.2 218.8 L554.7 219.0 L555.2 218.8 L555.7 218.3 L556.2 217.4 L556.7 216.2 L557.2 214.7 L557.7 212.9 L558.2 210.7 L558.7 208.3 L559.2 205.5 L559.7 202.5 L560.2 199.2 L560.7 195.7 L561.2 192.0 L561.7 188.0 L562.2 183.9 L562.7 179.6 L563.2 175.1 L563.7 170.6 L564.2 165.9 L564.7 161.1 L565.2 156.3 L565.7 151.4 L566.2 146.6 L566.7 141.7 L567.2 136.9 L567.7 132.2 L568.2 127.6 L568.7 123.0 L569.2 118.6 L569.7 114.3 L570.2 110.3 L570.7 106.4 L571.2 102.7 L571.7 99.3 L572.2 96.1 L572.7 93.1 L573.2 90.5 L573.8 88.1 L574.3 86.1 L574.8 84.4 L575.3 82.9 L575.8 81.9 L576.3 81.1 L576.8 80.7 L577.3 80.6 L577.8 80.9 L578.3 81.5 L578.8 82.4 L579.3 83.7 L579.8 85.3 L580.3 87.2 L580.8 89.5 L581.3 92.0 L581.8 94.8 L582.3 97.9 L582.8 101.2 L583.3 104.8 L583.8 108.6 L584.3 112.6 L584.8 116.8 L585.3 121.1 L585.8 125.6 L586.3 130.2 L586.8 134.9 L587.3 139.7 L587.8 144.5 L588.3 149.4 L588.8 154.2 L589.3 159.1 L589.8 163.8 L590.3 168.6 L590.8 173.2 L591.3 177.7 L591.8 182.1 L592.3 186.3 L592.8 190.3 L593.3 194.2 L593.8 197.8 L594.3 201.2 L594.8 204.3 L595.3 207.1 L595.8 209.7 L596.3 212.0 L596.8 214.0 L597.3 215.6 L597.8 217.0 L598.3 218.0 L598.8 218.6 L599.3 219.0 L599.8 219.0 L600.3 218.6 L600.8 217.9 L601.3 216.9 L601.8 215.5 L602.3 213.8 L602.8 211.8 L603.3 209.5 L603.8 206.9 L604.3 204.1 L604.8 200.9 L605.3 197.5 L605.8 193.9 L606.3 190.0 L606.8 186.0 L607.3 181.8 L607.8 177.4 L608.3 172.9 L608.8 168.2 L609.3 163.5 L609.8 158.7 L610.3 153.9 L610.8 149.0 L611.3 144.2 L611.8 139.3 L612.3 134.6 L612.8 129.9 L613.3 125.3 L613.8 120.8 L614.3 116.5 L614.8 112.3 L615.3 108.3 L615.8 104.5 L616.3 101.0 L616.8 97.6 L617.3 94.6 L617.8 91.8 L618.3 89.3 L618.8 87.1 L619.3 85.2 L619.8 83.6 L620.3 82.4 L620.8 81.4 L621.3 80.9 L621.8 80.6 L622.3 80.7 L622.8 81.1 L623.3 81.9 L623.8 83.0 L624.3 84.5 L624.8 86.2 L625.3 88.3 L625.8 90.7 L626.3 93.4 L626.8 96.3 L627.3 99.5 L627.8 103.0 L628.3 106.7 L628.8 110.6 L629.3 114.7 L629.8 118.9 L630.3 123.3 L630.8 127.9 L631.3 132.6 L631.8 137.3 L632.3 142.1 L632.8 146.9 L633.4 151.8 L633.9 156.6 L634.4 161.5 L634.9 166.2 L635.4 170.9 L635.9 175.5 L636.4 179.9 L636.9 184.2 L637.4 188.3 L637.9 192.3 L638.4 196.0 L638.9 199.5 L639.4 202.8 L639.9 205.7 L640.4 208.5 L640.9 210.9 L641.4 213.0 L641.9 214.8 L642.4 216.3 L642.9 217.5 L643.4 218.3 L643.9 218.8 L644.4 219.0 L644.9 218.8 L645.4 218.3 L645.9 217.4 L646.4 216.2 L646.9 214.7 L647.4 212.9 L647.9 210.7 L648.4 208.3 L648.9 205.5 L649.4 202.5 L649.9 199.2 L650.4 195.7 L650.9 192.0 L651.4 188.0 L651.9 183.9 L652.4 179.6 L652.9 175.1 L653.4 170.6 L653.9 165.9 L654.4 161.1 L654.9 156.3 L655.4 151.4 L655.9 146.6 L656.4 141.7 L656.9 136.9 L657.4 132.2 L657.9 127.6 L658.4 123.0 L658.9 118.6 L659.4 114.3 L659.9 110.3 L660.4 106.4 L660.9 102.7 L661.4 99.3 L661.9 96.1 L662.4 93.1 L662.9 90.5 L663.4 88.1 L663.9 86.1 L664.4 84.4 L664.9 82.9 L665.4 81.9 L665.9 81.1 L666.4 80.7 L666.9 80.6 L667.4 80.9 L667.9 81.5 L668.4 82.4 L668.9 83.7 L669.4 85.3 L669.9 87.2 L670.4 89.5 L670.9 92.0 L671.4 94.8 L671.9 97.9 L672.4 101.2 L672.9 104.8 L673.4 108.6 L673.9 112.6 L674.4 116.8 L674.9 121.1 L675.4 125.6 L675.9 130.2 L676.4 134.9 L676.9 139.7 L677.4 144.5 L677.9 149.4 L678.4 154.2 L678.9 159.1 L679.4 163.8 L679.9 168.6 L680.4 173.2 L680.9 177.7 L681.4 182.1 L681.9 186.3 L682.4 190.3 L682.9 194.2 L683.4 197.8 L683.9 201.2 L684.4 204.3 L684.9 207.1 L685.4 209.7 L685.9 212.0 L686.4 214.0 L686.9 215.6 L687.4 217.0 L687.9 218.0 L688.4 218.6 L688.9 219.0 L689.4 219.0 L689.9 218.6 L690.4 217.9 L690.9 216.9 L691.4 215.5 L691.9 213.8 L692.4 211.8 L692.9 209.5 L693.5 206.9 L694.0 204.1 L694.5 200.9 L695.0 197.5 L695.5 193.9 L696.0 190.0 L696.5 186.0 L697.0 181.8 L697.5 177.4 L698.0 172.9 L698.5 168.2 L699.0 163.5 L699.5 158.7 L700.0 153.9 L700.5 149.0 L701.0 144.2 L701.5 139.3 L702.0 134.6 L702.5 129.9 L703.0 125.3 L703.5 120.8 L704.0 116.5 L704.5 112.3 L705.0 108.3 L705.5 104.5 L706.0 101.0 L706.5 97.6 L707.0 94.6 L707.5 91.8 L708.0 89.3 L708.5 87.1 L709.0 85.2 L709.5 83.6 L710.0 82.4 L710.5 81.4 L711.0 80.9 L711.5 80.6 L712.0 80.7 L712.5 81.1 L713.0 81.9 L713.5 83.0 L714.0 84.5 L714.5 86.2 L715.0 88.3 L715.5 90.7 L716.0 93.4 L716.5 96.3 L717.0 99.5 L717.5 103.0 L718.0 106.7 L718.5 110.6 L719.0 114.7 L719.5 118.9 L720.0 123.3 L720.5 127.9 L721.0 132.6 L721.5 137.3 L722.0 142.1 L722.5 146.9 L723.0 151.8" fill="none" stroke="#000" stroke-width="4.0" stroke-linejoin="round" stroke-linecap="butt"/>
</g>
<rect x="575.8" y="70.9" width="41.4" height="156.6" fill="#00ff00" fill-opacity="0.3"/>
<rect x="666.8" y="70.9" width="40.8" height="156.6" fill="#00ff00" fill-opacity="0.3"/>
</g>
<clipPath id="cpa3"><rect x="760.2" y="65.5" width="191.8" height="167.4"/></clipPath>
<g>
<rect x="766.2" y="71.5" width="179.8" height="155.4" fill="none" stroke="#969696" stroke-width="1.2"/>
<path d="M811.2 71.5v2.2M811.2 226.9v-2.2" stroke="#969696" stroke-width="1"/>
<path d="M856.1 71.5v2.2M856.1 226.9v-2.2" stroke="#969696" stroke-width="1"/>
<path d="M901.0 71.5v2.2M901.0 226.9v-2.2" stroke="#969696" stroke-width="1"/>
<g clip-path="url(#cpa3)">
<g fill="none" stroke="#ff0000" stroke-width="1.25"><circle cx="766.2" cy="155.1" r="4.9"/><circle cx="767.4" cy="166.4" r="4.9"/><circle cx="768.6" cy="177.3" r="4.9"/><circle cx="769.7" cy="187.5" r="4.9"/><circle cx="770.9" cy="196.7" r="4.9"/><circle cx="772.1" cy="204.6" r="4.9"/><circle cx="773.3" cy="211.1" r="4.9"/><circle cx="774.4" cy="215.9" r="4.9"/><circle cx="775.6" cy="219.0" r="4.9"/><circle cx="776.8" cy="220.3" r="4.9"/><circle cx="778.0" cy="219.7" r="4.9"/><circle cx="779.1" cy="217.2" r="4.9"/><circle cx="780.3" cy="212.9" r="4.9"/><circle cx="781.5" cy="207.0" r="4.9"/><circle cx="782.7" cy="199.5" r="4.9"/><circle cx="783.8" cy="190.7" r="4.9"/><circle cx="785.0" cy="180.9" r="4.9"/><circle cx="786.2" cy="170.2" r="4.9"/><circle cx="787.4" cy="159.0" r="4.9"/><circle cx="788.5" cy="147.5" r="4.9"/><circle cx="789.7" cy="136.1" r="4.9"/><circle cx="790.9" cy="125.0" r="4.9"/><circle cx="792.1" cy="114.6" r="4.9"/><circle cx="793.2" cy="105.2" r="4.9"/><circle cx="794.4" cy="96.9" r="4.9"/><circle cx="795.6" cy="90.0" r="4.9"/><circle cx="796.8" cy="84.8" r="4.9"/><circle cx="797.9" cy="81.2" r="4.9"/><circle cx="799.1" cy="79.5" r="4.9"/><circle cx="800.3" cy="79.6" r="4.9"/><circle cx="801.5" cy="81.6" r="4.9"/><circle cx="802.6" cy="85.4" r="4.9"/><circle cx="803.8" cy="90.9" r="4.9"/><circle cx="805.0" cy="98.0" r="4.9"/><circle cx="806.2" cy="106.5" r="4.9"/><circle cx="807.3" cy="116.1" r="4.9"/><circle cx="808.5" cy="126.6" r="4.9"/><circle cx="809.7" cy="137.7" r="4.9"/><circle cx="810.9" cy="149.1" r="4.9"/><circle cx="812.0" cy="160.6" r="4.9"/><circle cx="813.2" cy="171.7" r="4.9"/><circle cx="814.4" cy="182.3" r="4.9"/><circle cx="815.6" cy="192.1" r="4.9"/><circle cx="816.7" cy="200.7" r="4.9"/><circle cx="817.9" cy="207.9" r="4.9"/><circle cx="819.1" cy="213.6" r="4.9"/><circle cx="820.3" cy="217.6" r="4.9"/><circle cx="821.4" cy="219.9" r="4.9"/><circle cx="822.6" cy="220.2" r="4.9"/><circle cx="823.8" cy="218.7" r="4.9"/><circle cx="825.0" cy="215.4" r="4.9"/><circle cx="826.1" cy="210.3" r="4.9"/><circle cx="827.3" cy="203.6" r="4.9"/><circle cx="828.5" cy="195.5" r="4.9"/><circle cx="829.7" cy="186.1" r="4.9"/><circle cx="830.8" cy="175.8" r="4.9"/><circle cx="832.0" cy="164.9" r="4.9"/><circle cx="833.2" cy="153.5" r="4.9"/><circle cx="834.4" cy="142.0" r="4.9"/><circle cx="835.5" cy="130.7" r="4.9"/><circle cx="836.7" cy="119.9" r="4.9"/><circle cx="837.9" cy="110.0" r="4.9"/><circle cx="839.1" cy="101.1" r="4.9"/><circle cx="840.2" cy="93.4" r="4.9"/><circle cx="841.4" cy="87.3" r="4.9"/><circle cx="842.6" cy="82.8" r="4.9"/><circle cx="843.8" cy="80.1" r="4.9"/><circle cx="844.9" cy="79.3" r="4.9"/><circle cx="846.1" cy="80.3" r="4.9"/><circle cx="847.3" cy="83.2" r="4.9"/><circle cx="848.5" cy="87.9" r="4.9"/><circle cx="849.6" cy="94.1" r="4.9"/><circle cx="850.8" cy="101.9" r="4.9"/><circle cx="852.0" cy="110.9" r="4.9"/><circle cx="853.2" cy="121.0" r="4.9"/><circle cx="854.3" cy="131.8" r="4.9"/><circle cx="855.5" cy="143.1" r="4.9"/><circle cx="856.7" cy="154.6" r="4.9"/><circle cx="857.9" cy="166.0" r="4.9"/><circle cx="859.0" cy="176.9" r="4.9"/><circle cx="860.2" cy="187.1" r="4.9"/><circle cx="861.4" cy="196.3" r="4.9"/><circle cx="862.6" cy="204.3" r="4.9"/><circle cx="863.7" cy="210.9" r="4.9"/><circle cx="864.9" cy="215.8" r="4.9"/><circle cx="866.1" cy="218.9" r="4.9"/><circle cx="867.3" cy="220.3" r="4.9"/><circle cx="868.4" cy="219.7" r="4.9"/><circle cx="869.6" cy="217.3" r="4.9"/><circle cx="870.8" cy="213.1" r="4.9"/><circle cx="872.0" cy="207.2" r="4.9"/><circle cx="873.1" cy="199.8" r="4.9"/><circle cx="874.3" cy="191.1" r="4.9"/><circle cx="875.5" cy="181.3" r="4.9"/><circle cx="876.7" cy="170.6" r="4.9"/><circle cx="877.8" cy="159.4" r="4.9"/><circle cx="879.0" cy="148.0" r="4.9"/><circle cx="880.2" cy="136.5" r="4.9"/><circle cx="881.4" cy="125.5" r="4.9"/><circle cx="882.5" cy="115.0" r="4.9"/><circle cx="883.7" cy="105.5" r="4.9"/><circle cx="884.9" cy="97.2" r="4.9"/><circle cx="886.1" cy="90.3" r="4.9"/><circle cx="887.2" cy="84.9" r="4.9"/><circle cx="888.4" cy="81.3" r="4.9"/><circle cx="889.6" cy="79.5" r="4.9"/><circle cx="890.8" cy="79.6" r="4.9"/><circle cx="891.9" cy="81.5" r="4.9"/><circle cx="893.1" cy="85.2" r="4.9"/><circle cx="894.3" cy="90.7" r="4.9"/><circle cx="895.5" cy="97.7" r="4.9"/><circle cx="896.6" cy="106.1" r="4.9"/><circle cx="897.8" cy="115.7" r="4.9"/><circle cx="899.0" cy="126.1" r="4.9"/><circle cx="900.2" cy="137.2" r="4.9"/><circle cx="901.3" cy="148.7" r="4.9"/><circle cx="902.5" cy="160.1" r="4.9"/><circle cx="903.7" cy="171.3" r="4.9"/><circle cx="904.9" cy="181.9" r="4.9"/><circle cx="906.0" cy="191.7" r="4.9"/><circle cx="907.2" cy="200.3" r="4.9"/><circle cx="908.4" cy="207.7" r="4.9"/><circle cx="909.6" cy="213.4" r="4.9"/><circle cx="910.7" cy="217.5" r="4.9"/><circle cx="911.9" cy="219.8" r="4.9"/><circle cx="913.1" cy="220.2" r="4.9"/><circle cx="914.3" cy="218.8" r="4.9"/><circle cx="915.4" cy="215.5" r="4.9"/><circle cx="916.6" cy="210.5" r="4.9"/><circle cx="917.8" cy="203.9" r="4.9"/><circle cx="919.0" cy="195.8" r="4.9"/><circle cx="920.1" cy="186.5" r="4.9"/><circle cx="921.3" cy="176.3" r="4.9"/><circle cx="922.5" cy="165.3" r="4.9"/><circle cx="923.7" cy="153.9" r="4.9"/><circle cx="924.8" cy="142.4" r="4.9"/><circle cx="926.0" cy="131.2" r="4.9"/><circle cx="927.2" cy="120.4" r="4.9"/><circle cx="928.4" cy="110.3" r="4.9"/><circle cx="929.5" cy="101.4" r="4.9"/><circle cx="930.7" cy="93.7" r="4.9"/><circle cx="931.9" cy="87.5" r="4.9"/><circle cx="933.1" cy="83.0" r="4.9"/><circle cx="934.2" cy="80.2" r="4.9"/><circle cx="935.4" cy="79.3" r="4.9"/><circle cx="936.6" cy="80.3" r="4.9"/><circle cx="937.8" cy="83.1" r="4.9"/><circle cx="938.9" cy="87.6" r="4.9"/><circle cx="940.1" cy="93.9" r="4.9"/><circle cx="941.3" cy="101.6" r="4.9"/><circle cx="942.5" cy="110.6" r="4.9"/><circle cx="943.6" cy="120.6" r="4.9"/><circle cx="944.8" cy="131.4" r="4.9"/><circle cx="946.0" cy="142.7" r="4.9"/></g>
<path d="M766.2 148.2 L766.7 153.1 L767.2 157.9 L767.7 162.7 L768.2 167.4 L768.7 172.0 L769.2 176.6 L769.7 181.0 L770.2 185.2 L770.7 189.3 L771.2 193.2 L771.7 196.8 L772.2 200.3 L772.7 203.5 L773.2 206.4 L773.7 209.0 L774.2 211.4 L774.7 213.4 L775.2 215.2 L775.7 216.6 L776.2 217.7 L776.7 218.5 L777.2 218.9 L777.7 219.0 L778.2 218.7 L778.7 218.2 L779.2 217.2 L779.7 216.0 L780.2 214.4 L780.7 212.5 L781.2 210.3 L781.7 207.8 L782.2 205.0 L782.7 202.0 L783.2 198.7 L783.7 195.1 L784.2 191.3 L784.7 187.4 L785.2 183.2 L785.7 178.9 L786.2 174.4 L786.7 169.9 L787.2 165.2 L787.7 160.4 L788.2 155.6 L788.7 150.8 L789.2 145.9 L789.7 141.1 L790.2 136.3 L790.7 131.6 L791.2 127.0 L791.7 122.5 L792.2 118.1 L792.7 113.9 L793.2 109.8 L793.7 106.0 L794.2 102.3 L794.7 98.9 L795.2 95.8 L795.7 92.9 L796.3 90.3 L796.8 87.9 L797.3 85.9 L797.8 84.2 L798.3 82.8 L798.8 81.8 L799.3 81.1 L799.8 80.7 L800.3 80.6 L800.8 80.9 L801.3 81.5 L801.8 82.5 L802.3 83.8 L802.8 85.4 L803.3 87.4 L803.8 89.6 L804.3 92.1 L804.8 94.9 L805.3 98.0 L805.8 101.4 L806.3 104.9 L806.8 108.7 L807.3 112.7 L807.8 116.9 L808.3 121.3 L808.8 125.7 L809.3 130.3 L809.8 135.0 L810.3 139.8 L810.8 144.6 L811.3 149.4 L811.8 154.3 L812.3 159.1 L812.8 163.9 L813.3 168.6 L813.8 173.2 L814.3 177.7 L814.8 182.1 L815.3 186.3 L815.8 190.3 L816.3 194.1 L816.8 197.7 L817.3 201.1 L817.8 204.2 L818.3 207.1 L818.8 209.6 L819.3 211.9 L819.8 213.9 L820.3 215.6 L820.8 216.9 L821.3 217.9 L821.8 218.6 L822.3 219.0 L822.8 219.0 L823.3 218.6 L823.8 218.0 L824.3 216.9 L824.8 215.6 L825.3 214.0 L825.8 212.0 L826.3 209.7 L826.8 207.1 L827.3 204.3 L827.8 201.2 L828.3 197.8 L828.8 194.2 L829.3 190.4 L829.8 186.4 L830.3 182.2 L830.8 177.8 L831.3 173.3 L831.8 168.7 L832.3 164.0 L832.8 159.2 L833.3 154.4 L833.8 149.6 L834.3 144.7 L834.8 139.9 L835.3 135.1 L835.8 130.4 L836.3 125.8 L836.8 121.4 L837.3 117.0 L837.8 112.8 L838.3 108.8 L838.8 105.0 L839.3 101.4 L839.8 98.1 L840.3 95.0 L840.8 92.2 L841.3 89.6 L841.8 87.4 L842.3 85.5 L842.8 83.8 L843.3 82.5 L843.8 81.6 L844.3 80.9 L844.8 80.6 L845.3 80.7 L845.8 81.0 L846.3 81.8 L846.8 82.8 L847.3 84.2 L847.8 85.9 L848.3 87.9 L848.8 90.2 L849.3 92.8 L849.8 95.7 L850.3 98.8 L850.8 102.2 L851.3 105.9 L851.8 109.7 L852.3 113.8 L852.8 118.0 L853.3 122.4 L853.8 126.9 L854.3 131.5 L854.8 136.2 L855.3 141.0 L855.8 145.8 L856.4 150.7 L856.9 155.5 L857.4 160.3 L857.9 165.1 L858.4 169.7 L858.9 174.3 L859.4 178.8 L859.9 183.1 L860.4 187.3 L860.9 191.3 L861.4 195.0 L861.9 198.6 L862.4 201.9 L862.9 205.0 L863.4 207.7 L863.9 210.2 L864.4 212.5 L864.9 214.4 L865.4 215.9 L865.9 217.2 L866.4 218.1 L866.9 218.7 L867.4 219.0 L867.9 218.9 L868.4 218.5 L868.9 217.7 L869.4 216.6 L869.9 215.2 L870.4 213.5 L870.9 211.4 L871.4 209.1 L871.9 206.5 L872.4 203.5 L872.9 200.4 L873.4 196.9 L873.9 193.3 L874.4 189.4 L874.9 185.3 L875.4 181.1 L875.9 176.7 L876.4 172.2 L876.9 167.5 L877.4 162.8 L877.9 158.0 L878.4 153.2 L878.9 148.3 L879.4 143.5 L879.9 138.7 L880.4 134.0 L880.9 129.3 L881.4 124.7 L881.9 120.3 L882.4 116.0 L882.9 111.8 L883.4 107.9 L883.9 104.1 L884.4 100.6 L884.9 97.3 L885.4 94.3 L885.9 91.5 L886.4 89.1 L886.9 86.9 L887.4 85.0 L887.9 83.5 L888.4 82.3 L888.9 81.4 L889.4 80.8 L889.9 80.6 L890.4 80.7 L890.9 81.2 L891.4 82.0 L891.9 83.1 L892.4 84.6 L892.9 86.3 L893.4 88.4 L893.9 90.8 L894.4 93.5 L894.9 96.5 L895.4 99.7 L895.9 103.1 L896.4 106.8 L896.9 110.7 L897.4 114.8 L897.9 119.1 L898.4 123.5 L898.9 128.0 L899.4 132.7 L899.9 137.4 L900.4 142.2 L900.9 147.0 L901.4 151.9 L901.9 156.7 L902.4 161.5 L902.9 166.2 L903.4 170.9 L903.9 175.5 L904.4 179.9 L904.9 184.2 L905.4 188.3 L905.9 192.2 L906.4 195.9 L906.9 199.4 L907.4 202.7 L907.9 205.7 L908.4 208.4 L908.9 210.8 L909.4 213.0 L909.9 214.8 L910.4 216.3 L910.9 217.5 L911.4 218.3 L911.9 218.8 L912.4 219.0 L912.9 218.8 L913.4 218.3 L913.9 217.5 L914.4 216.3 L914.9 214.8 L915.4 213.0 L915.9 210.9 L916.5 208.5 L917.0 205.7 L917.5 202.8 L918.0 199.5 L918.5 196.0 L919.0 192.3 L919.5 188.4 L920.0 184.3 L920.5 180.0 L921.0 175.6 L921.5 171.0 L922.0 166.3 L922.5 161.6 L923.0 156.8 L923.5 152.0 L924.0 147.1 L924.5 142.3 L925.0 137.5 L925.5 132.8 L926.0 128.1 L926.5 123.6 L927.0 119.2 L927.5 114.9 L928.0 110.8 L928.5 106.9 L929.0 103.2 L929.5 99.7 L930.0 96.5 L930.5 93.6 L931.0 90.9 L931.5 88.5 L932.0 86.4 L932.5 84.6 L933.0 83.1 L933.5 82.0 L934.0 81.2 L934.5 80.7 L935.0 80.6 L935.5 80.8 L936.0 81.4 L936.5 82.2 L937.0 83.4 L937.5 85.0 L938.0 86.8 L938.5 89.0 L939.0 91.5 L939.5 94.2 L940.0 97.2 L940.5 100.5 L941.0 104.0 L941.5 107.8 L942.0 111.7 L942.5 115.9 L943.0 120.2 L943.5 124.6 L944.0 129.2 L944.5 133.8 L945.0 138.6 L945.5 143.4 L946.0 148.2" fill="none" stroke="#000" stroke-width="4.0" stroke-linejoin="round" stroke-linecap="butt"/>
</g>
<rect x="822.3" y="70.9" width="20.2" height="156.6" fill="#00ff00" fill-opacity="0.3"/>
<rect x="911.6" y="70.9" width="19.2" height="156.6" fill="#00ff00" fill-opacity="0.3"/>
</g>
<clipPath id="cpa4"><rect x="983.6" y="65.5" width="192.1" height="167.4"/></clipPath>
<g>
<rect x="989.6" y="71.5" width="180.1" height="155.4" fill="none" stroke="#969696" stroke-width="1.2"/>
<path d="M1034.6 71.5v2.2M1034.6 226.9v-2.2" stroke="#969696" stroke-width="1"/>
<path d="M1079.7 71.5v2.2M1079.7 226.9v-2.2" stroke="#969696" stroke-width="1"/>
<path d="M1124.7 71.5v2.2M1124.7 226.9v-2.2" stroke="#969696" stroke-width="1"/>
<g clip-path="url(#cpa4)">
<g fill="none" stroke="#ff0000" stroke-width="1.25"><circle cx="989.6" cy="157.6" r="4.9"/><circle cx="990.8" cy="168.5" r="4.9"/><circle cx="992.0" cy="178.9" r="4.9"/><circle cx="993.1" cy="188.4" r="4.9"/><circle cx="994.3" cy="196.9" r="4.9"/><circle cx="995.5" cy="204.1" r="4.9"/><circle cx="996.7" cy="209.9" r="4.9"/><circle cx="997.8" cy="214.0" r="4.9"/><circle cx="999.0" cy="216.4" r="4.9"/><circle cx="1000.2" cy="217.0" r="4.9"/><circle cx="1001.4" cy="215.8" r="4.9"/><circle cx="1002.5" cy="212.8" r="4.9"/><circle cx="1003.7" cy="208.1" r="4.9"/><circle cx="1004.9" cy="201.8" r="4.9"/><circle cx="1006.1" cy="194.1" r="4.9"/><circle cx="1007.3" cy="185.3" r="4.9"/><circle cx="1008.4" cy="175.4" r="4.9"/><circle cx="1009.6" cy="164.8" r="4.9"/><circle cx="1010.8" cy="153.8" r="4.9"/><circle cx="1012.0" cy="142.7" r="4.9"/><circle cx="1013.1" cy="131.7" r="4.9"/><circle cx="1014.3" cy="121.2" r="4.9"/><circle cx="1015.5" cy="111.4" r="4.9"/><circle cx="1016.7" cy="102.5" r="4.9"/><circle cx="1017.9" cy="94.9" r="4.9"/><circle cx="1019.0" cy="88.7" r="4.9"/><circle cx="1020.2" cy="84.1" r="4.9"/><circle cx="1021.4" cy="81.2" r="4.9"/><circle cx="1022.6" cy="80.0" r="4.9"/><circle cx="1023.7" cy="80.7" r="4.9"/><circle cx="1024.9" cy="83.2" r="4.9"/><circle cx="1026.1" cy="87.4" r="4.9"/><circle cx="1027.3" cy="93.2" r="4.9"/><circle cx="1028.4" cy="100.4" r="4.9"/><circle cx="1029.6" cy="109.0" r="4.9"/><circle cx="1030.8" cy="118.6" r="4.9"/><circle cx="1032.0" cy="129.0" r="4.9"/><circle cx="1033.2" cy="139.9" r="4.9"/><circle cx="1034.3" cy="151.0" r="4.9"/><circle cx="1035.5" cy="162.0" r="4.9"/><circle cx="1036.7" cy="172.7" r="4.9"/><circle cx="1037.9" cy="182.8" r="4.9"/><circle cx="1039.0" cy="192.0" r="4.9"/><circle cx="1040.2" cy="200.0" r="4.9"/><circle cx="1041.4" cy="206.6" r="4.9"/><circle cx="1042.6" cy="211.7" r="4.9"/><circle cx="1043.7" cy="215.2" r="4.9"/><circle cx="1044.9" cy="216.8" r="4.9"/><circle cx="1046.1" cy="216.7" r="4.9"/><circle cx="1047.3" cy="214.8" r="4.9"/><circle cx="1048.5" cy="211.1" r="4.9"/><circle cx="1049.6" cy="205.7" r="4.9"/><circle cx="1050.8" cy="198.9" r="4.9"/><circle cx="1052.0" cy="190.7" r="4.9"/><circle cx="1053.2" cy="181.4" r="4.9"/><circle cx="1054.3" cy="171.2" r="4.9"/><circle cx="1055.5" cy="160.4" r="4.9"/><circle cx="1056.7" cy="149.3" r="4.9"/><circle cx="1057.9" cy="138.2" r="4.9"/><circle cx="1059.1" cy="127.4" r="4.9"/><circle cx="1060.2" cy="117.1" r="4.9"/><circle cx="1061.4" cy="107.7" r="4.9"/><circle cx="1062.6" cy="99.3" r="4.9"/><circle cx="1063.8" cy="92.2" r="4.9"/><circle cx="1064.9" cy="86.6" r="4.9"/><circle cx="1066.1" cy="82.7" r="4.9"/><circle cx="1067.3" cy="80.5" r="4.9"/><circle cx="1068.5" cy="80.1" r="4.9"/><circle cx="1069.6" cy="81.5" r="4.9"/><circle cx="1070.8" cy="84.6" r="4.9"/><circle cx="1072.0" cy="89.5" r="4.9"/><circle cx="1073.2" cy="95.9" r="4.9"/><circle cx="1074.4" cy="103.7" r="4.9"/><circle cx="1075.5" cy="112.7" r="4.9"/><circle cx="1076.7" cy="122.7" r="4.9"/><circle cx="1077.9" cy="133.3" r="4.9"/><circle cx="1079.1" cy="144.3" r="4.9"/><circle cx="1080.2" cy="155.5" r="4.9"/><circle cx="1081.4" cy="166.4" r="4.9"/><circle cx="1082.6" cy="176.9" r="4.9"/><circle cx="1083.8" cy="186.6" r="4.9"/><circle cx="1084.9" cy="195.3" r="4.9"/><circle cx="1086.1" cy="202.8" r="4.9"/><circle cx="1087.3" cy="208.9" r="4.9"/><circle cx="1088.5" cy="213.3" r="4.9"/><circle cx="1089.7" cy="216.1" r="4.9"/><circle cx="1090.8" cy="217.0" r="4.9"/><circle cx="1092.0" cy="216.1" r="4.9"/><circle cx="1093.2" cy="213.5" r="4.9"/><circle cx="1094.4" cy="209.1" r="4.9"/><circle cx="1095.5" cy="203.1" r="4.9"/><circle cx="1096.7" cy="195.7" r="4.9"/><circle cx="1097.9" cy="187.1" r="4.9"/><circle cx="1099.1" cy="177.4" r="4.9"/><circle cx="1100.2" cy="166.9" r="4.9"/><circle cx="1101.4" cy="156.0" r="4.9"/><circle cx="1102.6" cy="144.9" r="4.9"/><circle cx="1103.8" cy="133.8" r="4.9"/><circle cx="1105.0" cy="123.2" r="4.9"/><circle cx="1106.1" cy="113.2" r="4.9"/><circle cx="1107.3" cy="104.1" r="4.9"/><circle cx="1108.5" cy="96.3" r="4.9"/><circle cx="1109.7" cy="89.8" r="4.9"/><circle cx="1110.8" cy="84.8" r="4.9"/><circle cx="1112.0" cy="81.6" r="4.9"/><circle cx="1113.2" cy="80.1" r="4.9"/><circle cx="1114.4" cy="80.4" r="4.9"/><circle cx="1115.6" cy="82.5" r="4.9"/><circle cx="1116.7" cy="86.4" r="4.9"/><circle cx="1117.9" cy="91.9" r="4.9"/><circle cx="1119.1" cy="98.9" r="4.9"/><circle cx="1120.3" cy="107.2" r="4.9"/><circle cx="1121.4" cy="116.6" r="4.9"/><circle cx="1122.6" cy="126.9" r="4.9"/><circle cx="1123.8" cy="137.7" r="4.9"/><circle cx="1125.0" cy="148.8" r="4.9"/><circle cx="1126.1" cy="159.9" r="4.9"/><circle cx="1127.3" cy="170.7" r="4.9"/><circle cx="1128.5" cy="180.9" r="4.9"/><circle cx="1129.7" cy="190.3" r="4.9"/><circle cx="1130.9" cy="198.5" r="4.9"/><circle cx="1132.0" cy="205.4" r="4.9"/><circle cx="1133.2" cy="210.9" r="4.9"/><circle cx="1134.4" cy="214.6" r="4.9"/><circle cx="1135.6" cy="216.7" r="4.9"/><circle cx="1136.7" cy="216.9" r="4.9"/><circle cx="1137.9" cy="215.3" r="4.9"/><circle cx="1139.1" cy="211.9" r="4.9"/><circle cx="1140.3" cy="206.9" r="4.9"/><circle cx="1141.4" cy="200.3" r="4.9"/><circle cx="1142.6" cy="192.4" r="4.9"/><circle cx="1143.8" cy="183.3" r="4.9"/><circle cx="1145.0" cy="173.2" r="4.9"/><circle cx="1146.2" cy="162.6" r="4.9"/><circle cx="1147.3" cy="151.5" r="4.9"/><circle cx="1148.5" cy="140.4" r="4.9"/><circle cx="1149.7" cy="129.5" r="4.9"/><circle cx="1150.9" cy="119.1" r="4.9"/><circle cx="1152.0" cy="109.4" r="4.9"/><circle cx="1153.2" cy="100.8" r="4.9"/><circle cx="1154.4" cy="93.5" r="4.9"/><circle cx="1155.6" cy="87.6" r="4.9"/><circle cx="1156.8" cy="83.3" r="4.9"/><circle cx="1157.9" cy="80.8" r="4.9"/><circle cx="1159.1" cy="80.0" r="4.9"/><circle cx="1160.3" cy="81.1" r="4.9"/><circle cx="1161.5" cy="83.9" r="4.9"/><circle cx="1162.6" cy="88.4" r="4.9"/><circle cx="1163.8" cy="94.6" r="4.9"/><circle cx="1165.0" cy="102.1" r="4.9"/><circle cx="1166.2" cy="110.9" r="4.9"/><circle cx="1167.3" cy="120.7" r="4.9"/><circle cx="1168.5" cy="131.2" r="4.9"/><circle cx="1169.7" cy="142.2" r="4.9"/></g>
<path d="M989.6 148.3 L990.1 153.0 L990.6 157.6 L991.1 162.2 L991.6 166.7 L992.1 171.1 L992.6 175.4 L993.1 179.5 L993.6 183.5 L994.1 187.4 L994.6 191.0 L995.1 194.4 L995.6 197.6 L996.1 200.6 L996.6 203.3 L997.1 205.7 L997.6 207.9 L998.1 209.7 L998.6 211.3 L999.1 212.5 L999.6 213.5 L1000.1 214.1 L1000.6 214.4 L1001.1 214.3 L1001.6 214.0 L1002.1 213.3 L1002.6 212.3 L1003.1 211.0 L1003.6 209.4 L1004.1 207.4 L1004.6 205.2 L1005.1 202.7 L1005.6 200.0 L1006.1 196.9 L1006.6 193.7 L1007.1 190.2 L1007.6 186.5 L1008.1 182.6 L1008.6 178.6 L1009.1 174.4 L1009.6 170.1 L1010.1 165.7 L1010.6 161.1 L1011.1 156.6 L1011.6 151.9 L1012.1 147.3 L1012.6 142.6 L1013.1 138.0 L1013.6 133.4 L1014.1 128.9 L1014.6 124.5 L1015.1 120.2 L1015.6 116.1 L1016.1 112.1 L1016.6 108.2 L1017.1 104.6 L1017.6 101.2 L1018.1 98.0 L1018.6 95.0 L1019.1 92.3 L1019.6 89.9 L1020.1 87.7 L1020.6 85.9 L1021.1 84.3 L1021.6 83.1 L1022.1 82.1 L1022.6 81.5 L1023.1 81.2 L1023.6 81.3 L1024.1 81.6 L1024.6 82.3 L1025.1 83.3 L1025.6 84.6 L1026.1 86.2 L1026.6 88.2 L1027.1 90.4 L1027.6 92.9 L1028.1 95.6 L1028.6 98.7 L1029.1 101.9 L1029.6 105.4 L1030.1 109.1 L1030.6 113.0 L1031.1 117.0 L1031.6 121.2 L1032.1 125.5 L1032.6 129.9 L1033.1 134.5 L1033.6 139.0 L1034.1 143.7 L1034.6 148.3 L1035.1 153.0 L1035.6 157.6 L1036.1 162.2 L1036.6 166.7 L1037.1 171.1 L1037.6 175.4 L1038.1 179.5 L1038.6 183.5 L1039.1 187.4 L1039.6 191.0 L1040.1 194.4 L1040.6 197.6 L1041.1 200.6 L1041.6 203.3 L1042.1 205.7 L1042.6 207.9 L1043.1 209.7 L1043.6 211.3 L1044.1 212.5 L1044.6 213.5 L1045.1 214.1 L1045.6 214.4 L1046.1 214.3 L1046.6 214.0 L1047.1 213.3 L1047.6 212.3 L1048.1 211.0 L1048.6 209.4 L1049.1 207.4 L1049.6 205.2 L1050.1 202.7 L1050.6 200.0 L1051.1 196.9 L1051.6 193.7 L1052.1 190.2 L1052.6 186.5 L1053.1 182.6 L1053.6 178.6 L1054.1 174.4 L1054.6 170.1 L1055.1 165.7 L1055.6 161.1 L1056.1 156.6 L1056.6 151.9 L1057.1 147.3 L1057.6 142.6 L1058.1 138.0 L1058.6 133.4 L1059.1 128.9 L1059.6 124.5 L1060.1 120.2 L1060.6 116.1 L1061.1 112.1 L1061.6 108.2 L1062.1 104.6 L1062.6 101.2 L1063.1 98.0 L1063.6 95.0 L1064.1 92.3 L1064.6 89.9 L1065.1 87.7 L1065.6 85.9 L1066.1 84.3 L1066.6 83.1 L1067.1 82.1 L1067.6 81.5 L1068.1 81.2 L1068.6 81.3 L1069.1 81.6 L1069.6 82.3 L1070.1 83.3 L1070.6 84.6 L1071.1 86.2 L1071.6 88.2 L1072.1 90.4 L1072.6 92.9 L1073.1 95.6 L1073.6 98.7 L1074.1 101.9 L1074.6 105.4 L1075.1 109.1 L1075.6 113.0 L1076.1 117.0 L1076.6 121.2 L1077.1 125.5 L1077.6 129.9 L1078.1 134.5 L1078.6 139.0 L1079.1 143.7 L1079.7 148.3 L1080.2 153.0 L1080.7 157.6 L1081.2 162.2 L1081.7 166.7 L1082.2 171.1 L1082.7 175.4 L1083.2 179.5 L1083.7 183.5 L1084.2 187.4 L1084.7 191.0 L1085.2 194.4 L1085.7 197.6 L1086.2 200.6 L1086.7 203.3 L1087.2 205.7 L1087.7 207.9 L1088.2 209.7 L1088.7 211.3 L1089.2 212.5 L1089.7 213.5 L1090.2 214.1 L1090.7 214.4 L1091.2 214.3 L1091.7 214.0 L1092.2 213.3 L1092.7 212.3 L1093.2 211.0 L1093.7 209.4 L1094.2 207.4 L1094.7 205.2 L1095.2 202.7 L1095.7 200.0 L1096.2 196.9 L1096.7 193.7 L1097.2 190.2 L1097.7 186.5 L1098.2 182.6 L1098.7 178.6 L1099.2 174.4 L1099.7 170.1 L1100.2 165.7 L1100.7 161.1 L1101.2 156.6 L1101.7 151.9 L1102.2 147.3 L1102.7 142.6 L1103.2 138.0 L1103.7 133.4 L1104.2 128.9 L1104.7 124.5 L1105.2 120.2 L1105.7 116.1 L1106.2 112.1 L1106.7 108.2 L1107.2 104.6 L1107.7 101.2 L1108.2 98.0 L1108.7 95.0 L1109.2 92.3 L1109.7 89.9 L1110.2 87.7 L1110.7 85.9 L1111.2 84.3 L1111.7 83.1 L1112.2 82.1 L1112.7 81.5 L1113.2 81.2 L1113.7 81.3 L1114.2 81.6 L1114.7 82.3 L1115.2 83.3 L1115.7 84.6 L1116.2 86.2 L1116.7 88.2 L1117.2 90.4 L1117.7 92.9 L1118.2 95.6 L1118.7 98.7 L1119.2 101.9 L1119.7 105.4 L1120.2 109.1 L1120.7 113.0 L1121.2 117.0 L1121.7 121.2 L1122.2 125.5 L1122.7 129.9 L1123.2 134.5 L1123.7 139.0 L1124.2 143.7 L1124.7 148.3 L1125.2 153.0 L1125.7 157.6 L1126.2 162.2 L1126.7 166.7 L1127.2 171.1 L1127.7 175.4 L1128.2 179.5 L1128.7 183.5 L1129.2 187.4 L1129.7 191.0 L1130.2 194.4 L1130.7 197.6 L1131.2 200.6 L1131.7 203.3 L1132.2 205.7 L1132.7 207.9 L1133.2 209.7 L1133.7 211.3 L1134.2 212.5 L1134.7 213.5 L1135.2 214.1 L1135.7 214.4 L1136.2 214.3 L1136.7 214.0 L1137.2 213.3 L1137.7 212.3 L1138.2 211.0 L1138.7 209.4 L1139.2 207.4 L1139.7 205.2 L1140.2 202.7 L1140.7 200.0 L1141.2 196.9 L1141.7 193.7 L1142.2 190.2 L1142.7 186.5 L1143.2 182.6 L1143.7 178.6 L1144.2 174.4 L1144.7 170.1 L1145.2 165.7 L1145.7 161.1 L1146.2 156.6 L1146.7 151.9 L1147.2 147.3 L1147.7 142.6 L1148.2 138.0 L1148.7 133.4 L1149.2 128.9 L1149.7 124.5 L1150.2 120.2 L1150.7 116.1 L1151.2 112.1 L1151.7 108.2 L1152.2 104.6 L1152.7 101.2 L1153.2 98.0 L1153.7 95.0 L1154.2 92.3 L1154.7 89.9 L1155.2 87.7 L1155.7 85.9 L1156.2 84.3 L1156.7 83.1 L1157.2 82.1 L1157.7 81.5 L1158.2 81.2 L1158.7 81.3 L1159.2 81.6 L1159.7 82.3 L1160.2 83.3 L1160.7 84.6 L1161.2 86.2 L1161.7 88.2 L1162.2 90.4 L1162.7 92.9 L1163.2 95.6 L1163.7 98.7 L1164.2 101.9 L1164.7 105.4 L1165.2 109.1 L1165.7 113.0 L1166.2 117.0 L1166.7 121.2 L1167.2 125.5 L1167.7 129.9 L1168.2 134.5 L1168.7 139.0 L1169.2 143.7 L1169.7 148.3" fill="none" stroke="#000" stroke-width="4.0" stroke-linejoin="round" stroke-linecap="butt"/>
</g>
<rect x="1048.3" y="70.9" width="18.6" height="156.6" fill="#00ff00" fill-opacity="0.3"/>
<rect x="1134.4" y="70.9" width="21.5" height="156.6" fill="#00ff00" fill-opacity="0.3"/>
</g>
<clipPath id="cpb0"><rect x="91.0" y="299.5" width="191.5" height="169.2"/></clipPath>
<g>
<rect x="97.0" y="305.5" width="179.5" height="157.2" fill="none" stroke="#969696" stroke-width="1.2"/>
<path d="M141.9 305.5v2.2M141.9 462.7v-2.2" stroke="#969696" stroke-width="1"/>
<path d="M186.8 305.5v2.2M186.8 462.7v-2.2" stroke="#969696" stroke-width="1"/>
<path d="M231.6 305.5v2.2M231.6 462.7v-2.2" stroke="#969696" stroke-width="1"/>
<g clip-path="url(#cpb0)">
<g fill="none" stroke="#ff0000" stroke-width="1.25"><circle cx="96.4" cy="321.4" r="4.9"/><circle cx="97.6" cy="319.6" r="4.9"/><circle cx="98.7" cy="317.8" r="4.9"/><circle cx="99.9" cy="316.2" r="4.9"/><circle cx="101.1" cy="315.0" r="4.9"/><circle cx="102.3" cy="313.9" r="4.9"/><circle cx="103.4" cy="313.2" r="4.9"/><circle cx="104.6" cy="313.1" r="4.9"/><circle cx="105.8" cy="313.3" r="4.9"/><circle cx="106.9" cy="313.6" r="4.9"/><circle cx="108.1" cy="314.1" r="4.9"/><circle cx="109.3" cy="314.9" r="4.9"/><circle cx="110.5" cy="316.0" r="4.9"/><circle cx="111.6" cy="317.7" r="4.9"/><circle cx="112.8" cy="319.9" r="4.9"/><circle cx="114.0" cy="322.5" r="4.9"/><circle cx="115.2" cy="325.5" r="4.9"/><circle cx="116.3" cy="328.7" r="4.9"/><circle cx="117.5" cy="332.2" r="4.9"/><circle cx="118.7" cy="336.1" r="4.9"/><circle cx="119.8" cy="340.6" r="4.9"/><circle cx="121.0" cy="345.8" r="4.9"/><circle cx="122.2" cy="351.4" r="4.9"/><circle cx="123.4" cy="357.7" r="4.9"/><circle cx="124.5" cy="364.5" r="4.9"/><circle cx="125.7" cy="370.7" r="4.9"/><circle cx="126.9" cy="376.2" r="4.9"/><circle cx="128.0" cy="381.6" r="4.9"/><circle cx="129.2" cy="386.3" r="4.9"/><circle cx="130.4" cy="389.8" r="4.9"/><circle cx="131.6" cy="391.1" r="4.9"/><circle cx="132.7" cy="390.2" r="4.9"/><circle cx="133.9" cy="388.5" r="4.9"/><circle cx="135.1" cy="387.1" r="4.9"/><circle cx="136.2" cy="385.4" r="4.9"/><circle cx="137.4" cy="383.6" r="4.9"/><circle cx="138.6" cy="382.5" r="4.9"/><circle cx="139.8" cy="382.3" r="4.9"/><circle cx="140.9" cy="382.8" r="4.9"/><circle cx="142.1" cy="384.0" r="4.9"/><circle cx="143.3" cy="385.7" r="4.9"/><circle cx="144.4" cy="387.8" r="4.9"/><circle cx="145.6" cy="390.5" r="4.9"/><circle cx="146.8" cy="393.8" r="4.9"/><circle cx="148.0" cy="397.3" r="4.9"/><circle cx="149.1" cy="401.2" r="4.9"/><circle cx="150.3" cy="405.2" r="4.9"/><circle cx="151.5" cy="409.3" r="4.9"/><circle cx="152.7" cy="413.5" r="4.9"/><circle cx="153.8" cy="417.8" r="4.9"/><circle cx="155.0" cy="422.4" r="4.9"/><circle cx="156.2" cy="427.3" r="4.9"/><circle cx="157.3" cy="432.1" r="4.9"/><circle cx="158.5" cy="437.0" r="4.9"/><circle cx="159.7" cy="442.6" r="4.9"/><circle cx="160.9" cy="447.9" r="4.9"/><circle cx="162.0" cy="451.9" r="4.9"/><circle cx="163.2" cy="453.4" r="4.9"/><circle cx="164.4" cy="451.8" r="4.9"/><circle cx="165.5" cy="448.2" r="4.9"/><circle cx="166.7" cy="443.1" r="4.9"/><circle cx="167.9" cy="436.9" r="4.9"/><circle cx="169.1" cy="429.5" r="4.9"/><circle cx="170.2" cy="419.5" r="4.9"/><circle cx="171.4" cy="408.1" r="4.9"/><circle cx="172.6" cy="397.3" r="4.9"/><circle cx="173.7" cy="387.7" r="4.9"/><circle cx="174.9" cy="378.5" r="4.9"/><circle cx="176.1" cy="369.7" r="4.9"/><circle cx="177.3" cy="361.4" r="4.9"/><circle cx="178.4" cy="353.3" r="4.9"/><circle cx="179.6" cy="346.1" r="4.9"/><circle cx="180.8" cy="340.1" r="4.9"/><circle cx="181.9" cy="335.2" r="4.9"/><circle cx="183.1" cy="330.8" r="4.9"/><circle cx="184.3" cy="327.0" r="4.9"/><circle cx="185.5" cy="323.6" r="4.9"/><circle cx="186.6" cy="320.8" r="4.9"/><circle cx="187.8" cy="318.5" r="4.9"/><circle cx="189.0" cy="316.7" r="4.9"/><circle cx="190.2" cy="315.4" r="4.9"/><circle cx="191.3" cy="314.4" r="4.9"/><circle cx="192.5" cy="313.7" r="4.9"/><circle cx="193.7" cy="313.2" r="4.9"/><circle cx="194.8" cy="313.1" r="4.9"/><circle cx="196.0" cy="313.3" r="4.9"/><circle cx="197.2" cy="313.8" r="4.9"/><circle cx="198.4" cy="314.5" r="4.9"/><circle cx="199.5" cy="315.5" r="4.9"/><circle cx="200.7" cy="316.9" r="4.9"/><circle cx="201.9" cy="318.6" r="4.9"/><circle cx="203.0" cy="320.6" r="4.9"/><circle cx="204.2" cy="323.2" r="4.9"/><circle cx="205.4" cy="326.3" r="4.9"/><circle cx="206.6" cy="329.8" r="4.9"/><circle cx="207.7" cy="333.5" r="4.9"/><circle cx="208.9" cy="337.6" r="4.9"/><circle cx="210.1" cy="342.3" r="4.9"/><circle cx="211.2" cy="347.7" r="4.9"/><circle cx="212.4" cy="353.6" r="4.9"/><circle cx="213.6" cy="359.6" r="4.9"/><circle cx="214.8" cy="366.2" r="4.9"/><circle cx="215.9" cy="372.8" r="4.9"/><circle cx="217.1" cy="378.7" r="4.9"/><circle cx="218.3" cy="384.0" r="4.9"/><circle cx="219.4" cy="388.2" r="4.9"/><circle cx="220.6" cy="390.3" r="4.9"/><circle cx="221.8" cy="390.3" r="4.9"/><circle cx="223.0" cy="389.1" r="4.9"/><circle cx="224.1" cy="387.5" r="4.9"/><circle cx="225.3" cy="386.2" r="4.9"/><circle cx="226.5" cy="384.8" r="4.9"/><circle cx="227.7" cy="383.2" r="4.9"/><circle cx="228.8" cy="382.3" r="4.9"/><circle cx="230.0" cy="382.4" r="4.9"/><circle cx="231.2" cy="383.2" r="4.9"/><circle cx="232.3" cy="384.3" r="4.9"/><circle cx="233.5" cy="385.7" r="4.9"/><circle cx="234.7" cy="387.6" r="4.9"/><circle cx="235.9" cy="389.9" r="4.9"/><circle cx="237.0" cy="392.8" r="4.9"/><circle cx="238.2" cy="396.4" r="4.9"/><circle cx="239.4" cy="400.5" r="4.9"/><circle cx="240.5" cy="404.8" r="4.9"/><circle cx="241.7" cy="409.3" r="4.9"/><circle cx="242.9" cy="413.7" r="4.9"/><circle cx="244.1" cy="418.2" r="4.9"/><circle cx="245.2" cy="423.0" r="4.9"/><circle cx="246.4" cy="427.9" r="4.9"/><circle cx="247.6" cy="432.9" r="4.9"/><circle cx="248.7" cy="439.0" r="4.9"/><circle cx="249.9" cy="446.6" r="4.9"/><circle cx="251.1" cy="452.2" r="4.9"/><circle cx="252.3" cy="453.1" r="4.9"/><circle cx="253.4" cy="450.1" r="4.9"/><circle cx="254.6" cy="444.9" r="4.9"/><circle cx="255.8" cy="438.6" r="4.9"/><circle cx="256.9" cy="431.7" r="4.9"/><circle cx="258.1" cy="424.4" r="4.9"/><circle cx="259.3" cy="415.8" r="4.9"/><circle cx="260.5" cy="406.3" r="4.9"/><circle cx="261.6" cy="396.8" r="4.9"/><circle cx="262.8" cy="386.7" r="4.9"/><circle cx="264.0" cy="376.2" r="4.9"/><circle cx="265.2" cy="366.8" r="4.9"/><circle cx="266.3" cy="359.4" r="4.9"/><circle cx="267.5" cy="353.5" r="4.9"/><circle cx="268.7" cy="348.3" r="4.9"/><circle cx="269.8" cy="343.6" r="4.9"/><circle cx="271.0" cy="339.0" r="4.9"/><circle cx="272.2" cy="334.7" r="4.9"/><circle cx="273.4" cy="330.8" r="4.9"/><circle cx="274.5" cy="327.1" r="4.9"/><circle cx="275.7" cy="323.5" r="4.9"/></g>
<path d="M96.4 321.2 L96.7 320.7 L97.1 320.1 L97.6 319.3 L98.2 318.5 L98.8 317.6 L99.4 316.8 L99.9 316.1 L100.5 315.5 L101.0 315.0 L101.5 314.5 L102.0 314.1 L102.5 313.7 L103.0 313.4 L103.6 313.2 L104.2 313.1 L104.8 313.1 L105.5 313.2 L106.3 313.4 L107.1 313.6 L107.9 313.9 L108.7 314.4 L109.6 315.0 L110.4 315.9 L111.2 316.9 L112.0 318.2 L112.8 319.8 L113.7 321.6 L114.5 323.5 L115.3 325.6 L116.1 327.7 L116.8 329.8 L117.5 331.8 L118.1 333.8 L118.7 335.8 L119.3 337.8 L119.8 339.8 L120.3 341.9 L120.8 344.1 L121.3 346.3 L121.8 348.7 L122.3 351.3 L122.8 354.0 L123.4 356.8 L123.9 359.7 L124.4 362.7 L124.9 365.5 L125.5 368.3 L126.0 370.9 L126.6 373.5 L127.1 376.1 L127.7 378.8 L128.3 381.3 L128.9 383.6 L129.5 385.7 L130.1 387.4 L130.6 388.6 L131.1 389.3 L131.6 389.4 L132.1 389.2 L132.6 388.7 L133.1 388.1 L133.6 387.3 L134.1 386.6 L134.6 386.0 L135.1 385.4 L135.7 384.7 L136.2 383.9 L136.7 383.1 L137.3 382.3 L137.8 381.6 L138.4 381.1 L138.9 380.8 L139.4 380.7 L139.9 380.8 L140.4 381.0 L141.0 381.3 L141.5 381.8 L142.0 382.3 L142.5 383.0 L143.0 383.7 L143.5 384.5 L144.0 385.3 L144.5 386.3 L145.0 387.3 L145.5 388.5 L146.0 389.8 L146.6 391.4 L147.2 393.2 L147.9 395.3 L148.7 397.8 L149.5 400.5 L150.3 403.3 L151.2 406.3 L152.0 409.1 L152.8 411.9 L153.5 414.4 L154.1 416.7 L154.7 418.9 L155.2 421.0 L155.7 423.0 L156.2 425.0 L156.7 427.0 L157.2 429.1 L157.8 431.3 L158.4 433.8 L159.1 436.8 L159.7 440.0 L160.4 443.1 L161.1 445.9 L161.8 448.3 L162.4 449.8 L163.1 450.4 L163.8 450.0 L164.5 448.7 L165.1 446.8 L165.8 444.3 L166.5 441.4 L167.2 438.2 L167.8 434.8 L168.4 431.3 L169.0 427.6 L169.5 423.4 L170.1 418.9 L170.6 414.1 L171.1 409.2 L171.6 404.4 L172.1 399.7 L172.6 395.3 L173.1 391.1 L173.6 386.9 L174.2 382.8 L174.7 378.7 L175.2 374.8 L175.7 370.9 L176.3 367.1 L176.8 363.5 L177.3 360.0 L177.8 356.6 L178.3 353.2 L178.8 350.0 L179.3 346.9 L179.9 343.9 L180.5 340.9 L181.1 338.1 L181.8 335.3 L182.5 332.6 L183.3 329.9 L184.1 327.4 L184.9 325.0 L185.7 322.8 L186.5 320.8 L187.4 319.1 L188.3 317.6 L189.2 316.4 L190.1 315.4 L191.0 314.5 L192.0 313.9 L192.9 313.5 L193.9 313.2 L194.8 313.1 L195.7 313.2 L196.7 313.5 L197.7 314.0 L198.6 314.7 L199.6 315.5 L200.5 316.6 L201.4 317.7 L202.3 319.1 L203.2 320.7 L204.0 322.5 L204.8 324.5 L205.7 326.7 L206.4 329.0 L207.2 331.4 L207.9 333.7 L208.6 336.0 L209.2 338.3 L209.8 340.5 L210.4 342.9 L210.9 345.2 L211.4 347.6 L211.9 350.1 L212.4 352.5 L212.9 355.1 L213.4 357.8 L214.0 360.7 L214.5 363.7 L215.1 366.7 L215.6 369.6 L216.1 372.4 L216.6 375.0 L217.1 377.3 L217.6 379.3 L218.0 381.3 L218.4 383.0 L218.8 384.6 L219.2 386.0 L219.6 387.1 L220.1 388.0 L220.6 388.6 L221.1 388.8 L221.7 388.6 L222.3 388.2 L222.9 387.5 L223.6 386.7 L224.2 385.9 L224.8 385.1 L225.4 384.5 L226.0 383.9 L226.5 383.3 L227.0 382.6 L227.5 381.9 L228.0 381.3 L228.6 380.9 L229.2 380.7 L229.8 380.8 L230.5 381.2 L231.3 381.7 L232.1 382.4 L232.9 383.4 L233.7 384.5 L234.6 385.8 L235.4 387.3 L236.2 389.0 L237.0 391.0 L237.8 393.4 L238.6 396.0 L239.4 398.7 L240.2 401.6 L241.0 404.5 L241.8 407.4 L242.5 410.1 L243.2 412.8 L243.9 415.4 L244.6 418.1 L245.3 420.8 L245.9 423.5 L246.6 426.1 L247.2 428.7 L247.8 431.3 L248.4 434.1 L248.9 437.2 L249.4 440.5 L249.9 443.6 L250.4 446.4 L250.9 448.7 L251.4 450.1 L252.0 450.4 L252.6 449.6 L253.3 447.8 L254.0 445.1 L254.6 441.9 L255.3 438.3 L256.0 434.5 L256.7 430.7 L257.3 427.1 L257.9 423.5 L258.4 419.8 L259.0 415.9 L259.5 411.9 L260.0 407.8 L260.6 403.6 L261.1 399.4 L261.6 395.3 L262.1 391.1 L262.6 386.7 L263.1 382.3 L263.6 377.8 L264.1 373.4 L264.7 369.2 L265.2 365.1 L265.8 361.4 L266.4 357.9 L267.1 354.6 L267.7 351.5 L268.4 348.6 L269.1 345.7 L269.8 343.1 L270.5 340.5 L271.1 338.1 L271.7 335.7 L272.4 333.5 L273.1 331.3 L273.7 329.2 L274.3 327.4 L274.9 325.8 L275.3 324.4 L275.7 323.3" fill="none" stroke="#000" stroke-width="4.0" stroke-linejoin="round" stroke-linecap="butt"/>
</g>
<rect x="121.0" y="304.9" width="16.0" height="158.4" fill="#00ff00" fill-opacity="0.3"/>
<rect x="150.6" y="304.9" width="24.6" height="158.4" fill="#00ff00" fill-opacity="0.3"/>
<rect x="210.6" y="304.9" width="16.4" height="158.4" fill="#00ff00" fill-opacity="0.3"/>
<rect x="240.2" y="304.9" width="23.8" height="158.4" fill="#00ff00" fill-opacity="0.3"/>
</g>
<clipPath id="cpb1"><rect x="314.4" y="300.2" width="192.1" height="168.8"/></clipPath>
<g>
<rect x="320.4" y="306.2" width="180.1" height="156.8" fill="none" stroke="#969696" stroke-width="1.2"/>
<path d="M365.4 306.2v2.2M365.4 463.0v-2.2" stroke="#969696" stroke-width="1"/>
<path d="M410.4 306.2v2.2M410.4 463.0v-2.2" stroke="#969696" stroke-width="1"/>
<path d="M455.5 306.2v2.2M455.5 463.0v-2.2" stroke="#969696" stroke-width="1"/>
<g clip-path="url(#cpb1)">
<g fill="none" stroke="#ff0000" stroke-width="1.25"><circle cx="320.4" cy="326.7" r="4.9"/><circle cx="321.6" cy="325.0" r="4.9"/><circle cx="322.7" cy="323.3" r="4.9"/><circle cx="323.9" cy="321.9" r="4.9"/><circle cx="325.1" cy="320.9" r="4.9"/><circle cx="326.2" cy="320.0" r="4.9"/><circle cx="327.4" cy="319.2" r="4.9"/><circle cx="328.6" cy="318.5" r="4.9"/><circle cx="329.8" cy="318.1" r="4.9"/><circle cx="330.9" cy="318.0" r="4.9"/><circle cx="332.1" cy="318.2" r="4.9"/><circle cx="333.3" cy="318.7" r="4.9"/><circle cx="334.4" cy="319.5" r="4.9"/><circle cx="335.6" cy="320.4" r="4.9"/><circle cx="336.8" cy="321.6" r="4.9"/><circle cx="337.9" cy="323.0" r="4.9"/><circle cx="339.1" cy="324.7" r="4.9"/><circle cx="340.3" cy="326.7" r="4.9"/><circle cx="341.5" cy="329.1" r="4.9"/><circle cx="342.6" cy="331.9" r="4.9"/><circle cx="343.8" cy="335.2" r="4.9"/><circle cx="345.0" cy="339.2" r="4.9"/><circle cx="346.1" cy="343.8" r="4.9"/><circle cx="347.3" cy="349.3" r="4.9"/><circle cx="348.5" cy="356.0" r="4.9"/><circle cx="349.6" cy="363.3" r="4.9"/><circle cx="350.8" cy="369.7" r="4.9"/><circle cx="352.0" cy="375.0" r="4.9"/><circle cx="353.2" cy="379.8" r="4.9"/><circle cx="354.3" cy="384.2" r="4.9"/><circle cx="355.5" cy="388.0" r="4.9"/><circle cx="356.7" cy="391.2" r="4.9"/><circle cx="357.8" cy="393.7" r="4.9"/><circle cx="359.0" cy="395.6" r="4.9"/><circle cx="360.2" cy="397.4" r="4.9"/><circle cx="361.3" cy="399.0" r="4.9"/><circle cx="362.5" cy="400.9" r="4.9"/><circle cx="363.7" cy="403.0" r="4.9"/><circle cx="364.9" cy="405.1" r="4.9"/><circle cx="366.0" cy="407.4" r="4.9"/><circle cx="367.2" cy="409.9" r="4.9"/><circle cx="368.4" cy="412.9" r="4.9"/><circle cx="369.5" cy="416.4" r="4.9"/><circle cx="370.7" cy="420.3" r="4.9"/><circle cx="371.9" cy="424.3" r="4.9"/><circle cx="373.0" cy="428.3" r="4.9"/><circle cx="374.2" cy="432.2" r="4.9"/><circle cx="375.4" cy="436.2" r="4.9"/><circle cx="376.6" cy="440.1" r="4.9"/><circle cx="377.7" cy="443.9" r="4.9"/><circle cx="378.9" cy="447.3" r="4.9"/><circle cx="380.1" cy="450.5" r="4.9"/><circle cx="381.2" cy="452.1" r="4.9"/><circle cx="382.4" cy="451.9" r="4.9"/><circle cx="383.6" cy="450.8" r="4.9"/><circle cx="384.7" cy="448.7" r="4.9"/><circle cx="385.9" cy="445.2" r="4.9"/><circle cx="387.1" cy="440.4" r="4.9"/><circle cx="388.3" cy="434.6" r="4.9"/><circle cx="389.4" cy="428.1" r="4.9"/><circle cx="390.6" cy="421.3" r="4.9"/><circle cx="391.8" cy="414.3" r="4.9"/><circle cx="392.9" cy="406.8" r="4.9"/><circle cx="394.1" cy="399.0" r="4.9"/><circle cx="395.3" cy="391.1" r="4.9"/><circle cx="396.4" cy="383.5" r="4.9"/><circle cx="397.6" cy="376.2" r="4.9"/><circle cx="398.8" cy="368.8" r="4.9"/><circle cx="400.0" cy="361.8" r="4.9"/><circle cx="401.1" cy="355.6" r="4.9"/><circle cx="402.3" cy="350.3" r="4.9"/><circle cx="403.5" cy="345.8" r="4.9"/><circle cx="404.6" cy="342.0" r="4.9"/><circle cx="405.8" cy="338.5" r="4.9"/><circle cx="407.0" cy="335.4" r="4.9"/><circle cx="408.1" cy="332.5" r="4.9"/><circle cx="409.3" cy="329.9" r="4.9"/><circle cx="410.5" cy="327.6" r="4.9"/><circle cx="411.7" cy="325.6" r="4.9"/><circle cx="412.8" cy="323.8" r="4.9"/><circle cx="414.0" cy="322.2" r="4.9"/><circle cx="415.2" cy="320.7" r="4.9"/><circle cx="416.3" cy="319.4" r="4.9"/><circle cx="417.5" cy="318.7" r="4.9"/><circle cx="418.7" cy="318.6" r="4.9"/><circle cx="419.8" cy="318.8" r="4.9"/><circle cx="421.0" cy="319.2" r="4.9"/><circle cx="422.2" cy="319.8" r="4.9"/><circle cx="423.4" cy="320.6" r="4.9"/><circle cx="424.5" cy="321.5" r="4.9"/><circle cx="425.7" cy="322.7" r="4.9"/><circle cx="426.9" cy="324.1" r="4.9"/><circle cx="428.0" cy="325.6" r="4.9"/><circle cx="429.2" cy="327.4" r="4.9"/><circle cx="430.4" cy="329.5" r="4.9"/><circle cx="431.5" cy="332.0" r="4.9"/><circle cx="432.7" cy="334.8" r="4.9"/><circle cx="433.9" cy="338.0" r="4.9"/><circle cx="435.1" cy="341.5" r="4.9"/><circle cx="436.2" cy="345.2" r="4.9"/><circle cx="437.4" cy="349.3" r="4.9"/><circle cx="438.6" cy="353.9" r="4.9"/><circle cx="439.7" cy="359.6" r="4.9"/><circle cx="440.9" cy="366.2" r="4.9"/><circle cx="442.1" cy="372.5" r="4.9"/><circle cx="443.2" cy="378.7" r="4.9"/><circle cx="444.4" cy="385.0" r="4.9"/><circle cx="445.6" cy="390.1" r="4.9"/><circle cx="446.8" cy="393.5" r="4.9"/><circle cx="447.9" cy="395.7" r="4.9"/><circle cx="449.1" cy="397.2" r="4.9"/><circle cx="450.3" cy="398.4" r="4.9"/><circle cx="451.4" cy="399.7" r="4.9"/><circle cx="452.6" cy="401.1" r="4.9"/><circle cx="453.8" cy="402.8" r="4.9"/><circle cx="454.9" cy="404.4" r="4.9"/><circle cx="456.1" cy="406.1" r="4.9"/><circle cx="457.3" cy="408.1" r="4.9"/><circle cx="458.5" cy="410.4" r="4.9"/><circle cx="459.6" cy="413.3" r="4.9"/><circle cx="460.8" cy="416.9" r="4.9"/><circle cx="462.0" cy="421.1" r="4.9"/><circle cx="463.1" cy="425.4" r="4.9"/><circle cx="464.3" cy="429.7" r="4.9"/><circle cx="465.5" cy="433.7" r="4.9"/><circle cx="466.6" cy="437.7" r="4.9"/><circle cx="467.8" cy="441.9" r="4.9"/><circle cx="469.0" cy="445.9" r="4.9"/><circle cx="470.2" cy="449.3" r="4.9"/><circle cx="471.3" cy="451.6" r="4.9"/><circle cx="472.5" cy="452.1" r="4.9"/><circle cx="473.7" cy="450.6" r="4.9"/><circle cx="474.8" cy="447.5" r="4.9"/><circle cx="476.0" cy="443.2" r="4.9"/><circle cx="477.2" cy="438.3" r="4.9"/><circle cx="478.3" cy="432.8" r="4.9"/><circle cx="479.5" cy="426.4" r="4.9"/><circle cx="480.7" cy="419.4" r="4.9"/><circle cx="481.9" cy="412.0" r="4.9"/><circle cx="483.0" cy="404.4" r="4.9"/><circle cx="484.2" cy="396.1" r="4.9"/><circle cx="485.4" cy="387.4" r="4.9"/><circle cx="486.5" cy="378.8" r="4.9"/><circle cx="487.7" cy="371.0" r="4.9"/><circle cx="488.9" cy="363.8" r="4.9"/><circle cx="490.0" cy="356.9" r="4.9"/><circle cx="491.2" cy="350.7" r="4.9"/><circle cx="492.4" cy="345.3" r="4.9"/><circle cx="493.6" cy="341.2" r="4.9"/><circle cx="494.7" cy="338.0" r="4.9"/><circle cx="495.9" cy="335.4" r="4.9"/><circle cx="497.1" cy="333.1" r="4.9"/><circle cx="498.2" cy="331.0" r="4.9"/><circle cx="499.4" cy="328.8" r="4.9"/></g>
<path d="M320.4 326.5 L320.7 326.1 L321.1 325.5 L321.6 324.8 L322.1 324.0 L322.7 323.3 L323.3 322.5 L323.9 321.8 L324.6 321.2 L325.3 320.6 L326.0 320.1 L326.8 319.5 L327.7 319.0 L328.5 318.6 L329.3 318.2 L330.2 318.0 L331.0 318.0 L331.8 318.1 L332.6 318.4 L333.4 318.8 L334.3 319.3 L335.1 319.9 L335.9 320.6 L336.7 321.4 L337.4 322.2 L338.1 323.1 L338.8 324.1 L339.5 325.2 L340.2 326.3 L340.8 327.6 L341.5 328.9 L342.1 330.3 L342.7 331.8 L343.3 333.3 L343.8 334.9 L344.4 336.6 L344.9 338.3 L345.4 340.2 L345.9 342.2 L346.4 344.3 L346.9 346.6 L347.4 349.1 L347.9 351.9 L348.4 354.9 L348.9 358.0 L349.4 361.1 L350.0 364.2 L350.5 367.1 L351.1 369.9 L351.7 372.5 L352.3 375.2 L353.0 377.7 L353.6 380.2 L354.3 382.6 L355.0 384.9 L355.7 387.0 L356.4 389.0 L357.2 390.7 L357.9 392.2 L358.8 393.6 L359.6 394.8 L360.4 396.0 L361.3 397.2 L362.0 398.3 L362.8 399.6 L363.5 400.9 L364.2 402.1 L364.9 403.3 L365.5 404.5 L366.2 405.7 L366.8 407.0 L367.4 408.5 L368.1 410.1 L368.8 411.9 L369.4 413.9 L370.1 416.0 L370.8 418.2 L371.4 420.4 L372.1 422.7 L372.7 424.9 L373.4 427.1 L374.1 429.3 L374.8 431.6 L375.5 434.0 L376.2 436.3 L376.9 438.5 L377.5 440.6 L378.1 442.4 L378.7 444.0 L379.2 445.3 L379.6 446.4 L380.0 447.4 L380.3 448.2 L380.6 448.8 L381.0 449.1 L381.4 449.3 L381.8 449.3 L382.3 449.1 L382.8 448.8 L383.3 448.3 L383.8 447.6 L384.4 446.7 L384.9 445.5 L385.5 443.9 L386.1 441.9 L386.7 439.5 L387.4 436.6 L388.0 433.3 L388.7 429.8 L389.4 426.1 L390.1 422.2 L390.7 418.3 L391.4 414.4 L392.1 410.4 L392.7 406.3 L393.4 402.0 L394.0 397.6 L394.7 393.2 L395.4 388.8 L396.0 384.6 L396.7 380.5 L397.4 376.5 L398.0 372.5 L398.6 368.6 L399.3 364.7 L399.9 361.0 L400.6 357.4 L401.3 354.0 L402.0 350.8 L402.7 347.9 L403.5 345.1 L404.3 342.5 L405.1 340.1 L405.9 337.8 L406.7 335.7 L407.5 333.7 L408.3 331.8 L409.1 330.0 L409.9 328.4 L410.8 326.9 L411.6 325.5 L412.5 324.2 L413.3 323.1 L414.0 322.1 L414.7 321.2 L415.3 320.4 L415.9 319.8 L416.3 319.4 L416.8 319.0 L417.3 318.8 L417.7 318.6 L418.3 318.6 L418.9 318.6 L419.6 318.7 L420.3 318.9 L421.1 319.2 L422.0 319.6 L422.8 320.1 L423.7 320.7 L424.5 321.4 L425.3 322.2 L426.1 323.0 L426.9 324.0 L427.7 324.9 L428.4 326.0 L429.2 327.2 L430.0 328.6 L430.8 330.1 L431.6 331.8 L432.4 333.7 L433.2 335.8 L434.1 338.1 L434.9 340.6 L435.8 343.1 L436.6 345.7 L437.3 348.3 L438.0 350.8 L438.6 353.4 L439.2 356.0 L439.7 358.7 L440.2 361.4 L440.7 364.1 L441.2 366.8 L441.7 369.4 L442.2 372.0 L442.7 374.6 L443.2 377.2 L443.7 379.8 L444.2 382.3 L444.7 384.8 L445.2 387.1 L445.8 389.2 L446.4 391.1 L447.1 392.7 L447.8 393.9 L448.6 395.0 L449.5 395.9 L450.3 396.7 L451.1 397.6 L452.0 398.5 L452.8 399.6 L453.6 400.7 L454.4 401.8 L455.2 402.9 L456.0 404.1 L456.8 405.3 L457.6 406.7 L458.4 408.3 L459.2 410.1 L460.0 412.3 L460.8 414.7 L461.6 417.4 L462.3 420.2 L463.1 423.1 L463.9 426.0 L464.7 428.7 L465.5 431.3 L466.3 433.9 L467.1 436.8 L467.9 439.7 L468.8 442.5 L469.6 445.0 L470.4 447.1 L471.2 448.6 L471.9 449.3 L472.6 449.2 L473.3 448.5 L474.0 447.2 L474.6 445.4 L475.3 443.3 L475.9 440.9 L476.5 438.3 L477.2 435.6 L477.9 432.7 L478.5 429.4 L479.2 425.9 L479.9 422.1 L480.5 418.2 L481.2 414.1 L481.8 410.0 L482.5 405.9 L483.2 401.6 L483.8 397.1 L484.5 392.5 L485.1 387.8 L485.7 383.1 L486.4 378.4 L487.0 374.0 L487.7 369.9 L488.4 366.0 L489.0 362.1 L489.6 358.4 L490.3 354.8 L490.9 351.3 L491.6 348.1 L492.3 345.1 L493.0 342.4 L493.8 339.9 L494.7 337.7 L495.6 335.6 L496.5 333.8 L497.4 332.2 L498.2 330.8 L498.9 329.6 L499.4 328.6" fill="none" stroke="#000" stroke-width="4.0" stroke-linejoin="round" stroke-linecap="butt"/>
</g>
<rect x="346.5" y="305.6" width="20.3" height="158.0" fill="#00ff00" fill-opacity="0.3"/>
<rect x="369.5" y="305.6" width="25.8" height="158.0" fill="#00ff00" fill-opacity="0.3"/>
<rect x="437.4" y="305.6" width="19.2" height="158.0" fill="#00ff00" fill-opacity="0.3"/>
<rect x="459.2" y="305.6" width="25.8" height="158.0" fill="#00ff00" fill-opacity="0.3"/>
</g>
<clipPath id="cpb2"><rect x="538.4" y="300.2" width="191.0" height="168.8"/></clipPath>
<g>
<rect x="544.4" y="306.2" width="179.0" height="156.8" fill="none" stroke="#969696" stroke-width="1.2"/>
<path d="M589.1 306.2v2.2M589.1 463.0v-2.2" stroke="#969696" stroke-width="1"/>
<path d="M633.9 306.2v2.2M633.9 463.0v-2.2" stroke="#969696" stroke-width="1"/>
<path d="M678.6 306.2v2.2M678.6 463.0v-2.2" stroke="#969696" stroke-width="1"/>
<g clip-path="url(#cpb2)">
<g fill="none" stroke="#ff0000" stroke-width="1.25"><circle cx="544.4" cy="324.6" r="4.9"/><circle cx="545.6" cy="322.2" r="4.9"/><circle cx="546.7" cy="319.8" r="4.9"/><circle cx="547.9" cy="318.0" r="4.9"/><circle cx="549.1" cy="316.7" r="4.9"/><circle cx="550.2" cy="315.7" r="4.9"/><circle cx="551.4" cy="314.8" r="4.9"/><circle cx="552.5" cy="314.2" r="4.9"/><circle cx="553.7" cy="313.6" r="4.9"/><circle cx="554.9" cy="313.3" r="4.9"/><circle cx="556.0" cy="313.1" r="4.9"/><circle cx="557.2" cy="313.2" r="4.9"/><circle cx="558.4" cy="313.4" r="4.9"/><circle cx="559.5" cy="313.8" r="4.9"/><circle cx="560.7" cy="314.4" r="4.9"/><circle cx="561.8" cy="315.3" r="4.9"/><circle cx="563.0" cy="316.4" r="4.9"/><circle cx="564.2" cy="317.9" r="4.9"/><circle cx="565.3" cy="319.8" r="4.9"/><circle cx="566.5" cy="322.1" r="4.9"/><circle cx="567.7" cy="324.7" r="4.9"/><circle cx="568.8" cy="327.5" r="4.9"/><circle cx="570.0" cy="330.6" r="4.9"/><circle cx="571.1" cy="333.8" r="4.9"/><circle cx="572.3" cy="337.3" r="4.9"/><circle cx="573.5" cy="341.2" r="4.9"/><circle cx="574.6" cy="345.5" r="4.9"/><circle cx="575.8" cy="350.4" r="4.9"/><circle cx="577.0" cy="356.3" r="4.9"/><circle cx="578.1" cy="362.6" r="4.9"/><circle cx="579.3" cy="368.4" r="4.9"/><circle cx="580.4" cy="373.6" r="4.9"/><circle cx="581.6" cy="378.5" r="4.9"/><circle cx="582.8" cy="383.2" r="4.9"/><circle cx="583.9" cy="387.8" r="4.9"/><circle cx="585.1" cy="392.1" r="4.9"/><circle cx="586.3" cy="396.2" r="4.9"/><circle cx="587.4" cy="400.1" r="4.9"/><circle cx="588.6" cy="404.0" r="4.9"/><circle cx="589.7" cy="407.9" r="4.9"/><circle cx="590.9" cy="411.9" r="4.9"/><circle cx="592.1" cy="416.1" r="4.9"/><circle cx="593.2" cy="420.4" r="4.9"/><circle cx="594.4" cy="424.8" r="4.9"/><circle cx="595.6" cy="429.2" r="4.9"/><circle cx="596.7" cy="433.5" r="4.9"/><circle cx="597.9" cy="438.0" r="4.9"/><circle cx="599.0" cy="443.1" r="4.9"/><circle cx="600.2" cy="448.5" r="4.9"/><circle cx="601.4" cy="453.6" r="4.9"/><circle cx="602.5" cy="457.4" r="4.9"/><circle cx="603.7" cy="459.3" r="4.9"/><circle cx="604.9" cy="458.2" r="4.9"/><circle cx="606.0" cy="454.7" r="4.9"/><circle cx="607.2" cy="449.4" r="4.9"/><circle cx="608.4" cy="443.5" r="4.9"/><circle cx="609.5" cy="438.1" r="4.9"/><circle cx="610.7" cy="432.3" r="4.9"/><circle cx="611.8" cy="426.0" r="4.9"/><circle cx="613.0" cy="419.5" r="4.9"/><circle cx="614.2" cy="413.0" r="4.9"/><circle cx="615.3" cy="406.4" r="4.9"/><circle cx="616.5" cy="399.6" r="4.9"/><circle cx="617.7" cy="392.7" r="4.9"/><circle cx="618.8" cy="386.2" r="4.9"/><circle cx="620.0" cy="380.0" r="4.9"/><circle cx="621.1" cy="374.1" r="4.9"/><circle cx="622.3" cy="368.4" r="4.9"/><circle cx="623.5" cy="362.8" r="4.9"/><circle cx="624.6" cy="357.5" r="4.9"/><circle cx="625.8" cy="352.5" r="4.9"/><circle cx="627.0" cy="347.8" r="4.9"/><circle cx="628.1" cy="343.4" r="4.9"/><circle cx="629.3" cy="339.3" r="4.9"/><circle cx="630.4" cy="335.5" r="4.9"/><circle cx="631.6" cy="332.0" r="4.9"/><circle cx="632.8" cy="328.8" r="4.9"/><circle cx="633.9" cy="325.9" r="4.9"/><circle cx="635.1" cy="323.2" r="4.9"/><circle cx="636.3" cy="320.9" r="4.9"/><circle cx="637.4" cy="318.9" r="4.9"/><circle cx="638.6" cy="317.1" r="4.9"/><circle cx="639.7" cy="315.8" r="4.9"/><circle cx="640.9" cy="314.8" r="4.9"/><circle cx="642.1" cy="314.0" r="4.9"/><circle cx="643.2" cy="313.5" r="4.9"/><circle cx="644.4" cy="313.2" r="4.9"/><circle cx="645.6" cy="313.1" r="4.9"/><circle cx="646.7" cy="313.2" r="4.9"/><circle cx="647.9" cy="313.5" r="4.9"/><circle cx="649.0" cy="314.1" r="4.9"/><circle cx="650.2" cy="314.9" r="4.9"/><circle cx="651.4" cy="315.9" r="4.9"/><circle cx="652.5" cy="317.2" r="4.9"/><circle cx="653.7" cy="318.6" r="4.9"/><circle cx="654.9" cy="320.3" r="4.9"/><circle cx="656.0" cy="322.2" r="4.9"/><circle cx="657.2" cy="324.2" r="4.9"/><circle cx="658.3" cy="326.5" r="4.9"/><circle cx="659.5" cy="329.1" r="4.9"/><circle cx="660.7" cy="332.1" r="4.9"/><circle cx="661.8" cy="335.6" r="4.9"/><circle cx="663.0" cy="339.4" r="4.9"/><circle cx="664.2" cy="343.6" r="4.9"/><circle cx="665.3" cy="348.1" r="4.9"/><circle cx="666.5" cy="352.9" r="4.9"/><circle cx="667.7" cy="358.7" r="4.9"/><circle cx="668.8" cy="365.3" r="4.9"/><circle cx="670.0" cy="371.4" r="4.9"/><circle cx="671.1" cy="376.4" r="4.9"/><circle cx="672.3" cy="380.9" r="4.9"/><circle cx="673.5" cy="385.2" r="4.9"/><circle cx="674.6" cy="389.4" r="4.9"/><circle cx="675.8" cy="393.5" r="4.9"/><circle cx="677.0" cy="397.6" r="4.9"/><circle cx="678.1" cy="401.6" r="4.9"/><circle cx="679.3" cy="405.5" r="4.9"/><circle cx="680.4" cy="409.3" r="4.9"/><circle cx="681.6" cy="413.2" r="4.9"/><circle cx="682.8" cy="417.2" r="4.9"/><circle cx="683.9" cy="421.6" r="4.9"/><circle cx="685.1" cy="426.3" r="4.9"/><circle cx="686.3" cy="431.2" r="4.9"/><circle cx="687.4" cy="436.1" r="4.9"/><circle cx="688.6" cy="440.8" r="4.9"/><circle cx="689.7" cy="446.0" r="4.9"/><circle cx="690.9" cy="451.5" r="4.9"/><circle cx="692.1" cy="456.2" r="4.9"/><circle cx="693.2" cy="459.0" r="4.9"/><circle cx="694.4" cy="458.8" r="4.9"/><circle cx="695.6" cy="455.8" r="4.9"/><circle cx="696.7" cy="451.2" r="4.9"/><circle cx="697.9" cy="445.7" r="4.9"/><circle cx="699.0" cy="440.2" r="4.9"/><circle cx="700.2" cy="434.7" r="4.9"/><circle cx="701.4" cy="428.6" r="4.9"/><circle cx="702.5" cy="422.1" r="4.9"/><circle cx="703.7" cy="415.6" r="4.9"/><circle cx="704.9" cy="409.1" r="4.9"/><circle cx="706.0" cy="402.6" r="4.9"/><circle cx="707.2" cy="395.9" r="4.9"/><circle cx="708.3" cy="389.2" r="4.9"/><circle cx="709.5" cy="382.5" r="4.9"/><circle cx="710.7" cy="375.5" r="4.9"/><circle cx="711.8" cy="368.2" r="4.9"/><circle cx="713.0" cy="361.2" r="4.9"/><circle cx="714.2" cy="355.0" r="4.9"/><circle cx="715.3" cy="350.0" r="4.9"/><circle cx="716.5" cy="345.7" r="4.9"/><circle cx="717.6" cy="341.8" r="4.9"/><circle cx="718.8" cy="338.2" r="4.9"/><circle cx="720.0" cy="334.7" r="4.9"/><circle cx="721.1" cy="331.3" r="4.9"/><circle cx="722.3" cy="327.8" r="4.9"/></g>
<path d="M544.4 324.4 L544.7 323.8 L545.1 323.0 L545.6 322.0 L546.1 320.9 L546.7 319.8 L547.3 318.7 L548.0 317.7 L548.7 316.9 L549.5 316.2 L550.3 315.5 L551.2 314.9 L552.2 314.3 L553.2 313.8 L554.2 313.4 L555.2 313.2 L556.1 313.1 L557.0 313.1 L558.0 313.3 L558.9 313.6 L559.9 314.0 L560.8 314.5 L561.7 315.1 L562.6 315.9 L563.5 316.9 L564.3 318.0 L565.2 319.4 L566.0 320.9 L566.8 322.5 L567.6 324.2 L568.3 326.0 L569.1 327.8 L569.8 329.7 L570.5 331.6 L571.2 333.5 L571.9 335.5 L572.6 337.6 L573.2 339.8 L573.9 342.0 L574.5 344.3 L575.1 346.6 L575.7 349.0 L576.2 351.6 L576.7 354.2 L577.2 356.9 L577.8 359.7 L578.3 362.4 L578.8 365.1 L579.4 367.8 L580.0 370.5 L580.6 373.1 L581.3 375.8 L581.9 378.4 L582.6 381.1 L583.3 383.7 L584.0 386.4 L584.7 389.0 L585.4 391.6 L586.2 394.2 L587.0 396.8 L587.8 399.4 L588.6 402.0 L589.4 404.7 L590.2 407.4 L591.0 410.1 L591.8 412.9 L592.6 415.8 L593.4 418.7 L594.2 421.6 L595.0 424.6 L595.8 427.6 L596.6 430.5 L597.4 433.4 L598.2 436.6 L599.0 440.1 L599.8 443.8 L600.6 447.4 L601.4 450.7 L602.2 453.4 L603.0 455.3 L603.7 456.2 L604.4 455.9 L605.1 454.7 L605.8 452.7 L606.4 450.1 L607.1 447.1 L607.7 443.9 L608.3 440.7 L609.0 437.7 L609.7 434.7 L610.3 431.5 L611.0 428.1 L611.6 424.6 L612.3 421.0 L613.0 417.4 L613.6 413.7 L614.3 410.1 L615.0 406.5 L615.6 402.8 L616.2 399.2 L616.9 395.4 L617.5 391.7 L618.2 388.0 L618.9 384.2 L619.6 380.5 L620.3 376.7 L621.1 372.9 L621.9 369.0 L622.7 365.1 L623.6 361.3 L624.4 357.6 L625.2 354.1 L626.0 350.8 L626.8 347.7 L627.6 344.7 L628.4 341.9 L629.1 339.2 L629.9 336.6 L630.7 334.2 L631.5 331.9 L632.3 329.7 L633.1 327.6 L633.9 325.7 L634.7 323.9 L635.5 322.2 L636.3 320.7 L637.1 319.3 L637.9 318.0 L638.7 316.9 L639.5 315.9 L640.4 315.1 L641.2 314.5 L642.1 314.0 L642.9 313.6 L643.8 313.3 L644.6 313.1 L645.5 313.1 L646.4 313.1 L647.2 313.3 L648.1 313.6 L648.9 314.0 L649.8 314.5 L650.6 315.1 L651.5 315.9 L652.4 316.9 L653.3 318.0 L654.3 319.3 L655.2 320.7 L656.2 322.2 L657.1 323.9 L658.1 325.7 L659.0 327.6 L659.9 329.7 L660.8 331.9 L661.6 334.4 L662.4 337.0 L663.3 339.7 L664.0 342.5 L664.8 345.3 L665.5 348.1 L666.2 350.8 L666.8 353.4 L667.3 356.0 L667.8 358.7 L668.3 361.3 L668.8 363.9 L669.2 366.6 L669.8 369.2 L670.4 372.0 L671.1 374.8 L671.8 377.7 L672.6 380.7 L673.5 383.7 L674.3 386.6 L675.1 389.6 L676.0 392.5 L676.8 395.3 L677.6 398.1 L678.4 400.7 L679.2 403.4 L680.1 406.0 L680.9 408.6 L681.7 411.2 L682.5 413.9 L683.2 416.5 L683.9 419.2 L684.6 421.9 L685.3 424.6 L685.9 427.3 L686.6 429.9 L687.2 432.6 L687.8 435.2 L688.5 437.7 L689.2 440.4 L689.8 443.4 L690.5 446.5 L691.1 449.4 L691.7 452.1 L692.4 454.2 L693.0 455.7 L693.7 456.2 L694.4 455.7 L695.0 454.4 L695.7 452.4 L696.3 449.8 L697.0 446.9 L697.7 443.8 L698.3 440.7 L699.0 437.7 L699.7 434.7 L700.3 431.5 L701.0 428.1 L701.6 424.6 L702.3 421.0 L703.0 417.4 L703.6 413.7 L704.3 410.1 L705.0 406.5 L705.6 402.8 L706.3 399.2 L706.9 395.4 L707.6 391.7 L708.3 388.0 L708.9 384.2 L709.6 380.5 L710.2 376.7 L710.9 372.9 L711.5 369.1 L712.1 365.3 L712.8 361.5 L713.4 357.8 L714.1 354.2 L714.9 350.8 L715.8 347.4 L716.8 344.0 L717.8 340.6 L718.9 337.3 L720.0 334.2 L720.9 331.5 L721.7 329.3 L722.3 327.5" fill="none" stroke="#000" stroke-width="4.0" stroke-linejoin="round" stroke-linecap="butt"/>
</g>
<rect x="575.8" y="305.6" width="41.4" height="158.0" fill="#00ff00" fill-opacity="0.3"/>
<rect x="666.8" y="305.6" width="40.8" height="158.0" fill="#00ff00" fill-opacity="0.3"/>
</g>
<clipPath id="cpb3"><rect x="760.8" y="300.2" width="191.6" height="168.8"/></clipPath>
<g>
<rect x="766.8" y="306.2" width="179.6" height="156.8" fill="none" stroke="#969696" stroke-width="1.2"/>
<path d="M811.7 306.2v2.2M811.7 463.0v-2.2" stroke="#969696" stroke-width="1"/>
<path d="M856.6 306.2v2.2M856.6 463.0v-2.2" stroke="#969696" stroke-width="1"/>
<path d="M901.5 306.2v2.2M901.5 463.0v-2.2" stroke="#969696" stroke-width="1"/>
<g clip-path="url(#cpb3)">
<g fill="none" stroke="#ff0000" stroke-width="1.25"><circle cx="767.4" cy="339.8" r="4.9"/><circle cx="768.6" cy="337.1" r="4.9"/><circle cx="769.7" cy="334.3" r="4.9"/><circle cx="770.9" cy="331.7" r="4.9"/><circle cx="772.1" cy="329.2" r="4.9"/><circle cx="773.2" cy="326.8" r="4.9"/><circle cx="774.4" cy="324.5" r="4.9"/><circle cx="775.6" cy="322.2" r="4.9"/><circle cx="776.7" cy="320.1" r="4.9"/><circle cx="777.9" cy="318.0" r="4.9"/><circle cx="779.1" cy="316.2" r="4.9"/><circle cx="780.2" cy="314.7" r="4.9"/><circle cx="781.4" cy="313.5" r="4.9"/><circle cx="782.6" cy="312.5" r="4.9"/><circle cx="783.7" cy="311.7" r="4.9"/><circle cx="784.9" cy="311.1" r="4.9"/><circle cx="786.1" cy="310.8" r="4.9"/><circle cx="787.2" cy="310.6" r="4.9"/><circle cx="788.4" cy="310.7" r="4.9"/><circle cx="789.6" cy="310.9" r="4.9"/><circle cx="790.7" cy="311.4" r="4.9"/><circle cx="791.9" cy="312.1" r="4.9"/><circle cx="793.1" cy="313.0" r="4.9"/><circle cx="794.2" cy="314.1" r="4.9"/><circle cx="795.4" cy="315.4" r="4.9"/><circle cx="796.6" cy="317.0" r="4.9"/><circle cx="797.8" cy="318.8" r="4.9"/><circle cx="798.9" cy="320.8" r="4.9"/><circle cx="800.1" cy="323.0" r="4.9"/><circle cx="801.3" cy="325.4" r="4.9"/><circle cx="802.4" cy="327.9" r="4.9"/><circle cx="803.6" cy="330.6" r="4.9"/><circle cx="804.8" cy="333.4" r="4.9"/><circle cx="805.9" cy="336.3" r="4.9"/><circle cx="807.1" cy="339.4" r="4.9"/><circle cx="808.3" cy="342.7" r="4.9"/><circle cx="809.4" cy="346.2" r="4.9"/><circle cx="810.6" cy="350.1" r="4.9"/><circle cx="811.8" cy="354.5" r="4.9"/><circle cx="812.9" cy="359.3" r="4.9"/><circle cx="814.1" cy="364.5" r="4.9"/><circle cx="815.3" cy="369.8" r="4.9"/><circle cx="816.4" cy="375.1" r="4.9"/><circle cx="817.6" cy="380.6" r="4.9"/><circle cx="818.8" cy="386.3" r="4.9"/><circle cx="819.9" cy="392.4" r="4.9"/><circle cx="821.1" cy="399.2" r="4.9"/><circle cx="822.3" cy="407.1" r="4.9"/><circle cx="823.4" cy="415.3" r="4.9"/><circle cx="824.6" cy="423.1" r="4.9"/><circle cx="825.8" cy="430.3" r="4.9"/><circle cx="826.9" cy="437.2" r="4.9"/><circle cx="828.1" cy="443.5" r="4.9"/><circle cx="829.3" cy="449.1" r="4.9"/><circle cx="830.4" cy="454.1" r="4.9"/><circle cx="831.6" cy="457.6" r="4.9"/><circle cx="832.8" cy="458.2" r="4.9"/><circle cx="833.9" cy="456.1" r="4.9"/><circle cx="835.1" cy="452.1" r="4.9"/><circle cx="836.3" cy="447.1" r="4.9"/><circle cx="837.4" cy="440.9" r="4.9"/><circle cx="838.6" cy="433.7" r="4.9"/><circle cx="839.8" cy="425.9" r="4.9"/><circle cx="840.9" cy="417.9" r="4.9"/><circle cx="842.1" cy="409.1" r="4.9"/><circle cx="843.3" cy="400.3" r="4.9"/><circle cx="844.4" cy="392.3" r="4.9"/><circle cx="845.6" cy="385.6" r="4.9"/><circle cx="846.8" cy="379.5" r="4.9"/><circle cx="847.9" cy="373.8" r="4.9"/><circle cx="849.1" cy="368.5" r="4.9"/><circle cx="850.3" cy="363.5" r="4.9"/><circle cx="851.4" cy="358.6" r="4.9"/><circle cx="852.6" cy="354.0" r="4.9"/><circle cx="853.8" cy="349.6" r="4.9"/><circle cx="854.9" cy="345.5" r="4.9"/><circle cx="856.1" cy="341.7" r="4.9"/><circle cx="857.3" cy="338.3" r="4.9"/><circle cx="858.5" cy="335.3" r="4.9"/><circle cx="859.6" cy="332.4" r="4.9"/><circle cx="860.8" cy="329.8" r="4.9"/><circle cx="862.0" cy="327.2" r="4.9"/><circle cx="863.1" cy="324.9" r="4.9"/><circle cx="864.3" cy="322.7" r="4.9"/><circle cx="865.5" cy="320.6" r="4.9"/><circle cx="866.6" cy="318.9" r="4.9"/><circle cx="867.8" cy="317.3" r="4.9"/><circle cx="869.0" cy="316.0" r="4.9"/><circle cx="870.1" cy="314.9" r="4.9"/><circle cx="871.3" cy="313.9" r="4.9"/><circle cx="872.5" cy="313.0" r="4.9"/><circle cx="873.6" cy="312.3" r="4.9"/><circle cx="874.8" cy="311.7" r="4.9"/><circle cx="876.0" cy="311.3" r="4.9"/><circle cx="877.1" cy="311.0" r="4.9"/><circle cx="878.3" cy="311.0" r="4.9"/><circle cx="879.5" cy="311.2" r="4.9"/><circle cx="880.6" cy="311.6" r="4.9"/><circle cx="881.8" cy="312.2" r="4.9"/><circle cx="883.0" cy="313.0" r="4.9"/><circle cx="884.1" cy="314.0" r="4.9"/><circle cx="885.3" cy="315.3" r="4.9"/><circle cx="886.5" cy="316.8" r="4.9"/><circle cx="887.6" cy="318.5" r="4.9"/><circle cx="888.8" cy="320.5" r="4.9"/><circle cx="890.0" cy="322.7" r="4.9"/><circle cx="891.1" cy="325.0" r="4.9"/><circle cx="892.3" cy="327.7" r="4.9"/><circle cx="893.5" cy="330.5" r="4.9"/><circle cx="894.6" cy="333.6" r="4.9"/><circle cx="895.8" cy="336.9" r="4.9"/><circle cx="897.0" cy="340.3" r="4.9"/><circle cx="898.1" cy="344.0" r="4.9"/><circle cx="899.3" cy="347.9" r="4.9"/><circle cx="900.5" cy="351.9" r="4.9"/><circle cx="901.6" cy="356.2" r="4.9"/><circle cx="902.8" cy="360.8" r="4.9"/><circle cx="904.0" cy="365.6" r="4.9"/><circle cx="905.1" cy="370.7" r="4.9"/><circle cx="906.3" cy="376.0" r="4.9"/><circle cx="907.5" cy="381.7" r="4.9"/><circle cx="908.6" cy="387.8" r="4.9"/><circle cx="909.8" cy="394.2" r="4.9"/><circle cx="911.0" cy="400.7" r="4.9"/><circle cx="912.1" cy="407.6" r="4.9"/><circle cx="913.3" cy="415.2" r="4.9"/><circle cx="914.5" cy="422.7" r="4.9"/><circle cx="915.6" cy="429.4" r="4.9"/><circle cx="916.8" cy="435.7" r="4.9"/><circle cx="918.0" cy="441.9" r="4.9"/><circle cx="919.2" cy="447.8" r="4.9"/><circle cx="920.3" cy="453.1" r="4.9"/><circle cx="921.5" cy="457.2" r="4.9"/><circle cx="922.7" cy="459.0" r="4.9"/><circle cx="923.8" cy="457.5" r="4.9"/><circle cx="925.0" cy="453.1" r="4.9"/><circle cx="926.2" cy="447.6" r="4.9"/><circle cx="927.3" cy="441.7" r="4.9"/><circle cx="928.5" cy="434.5" r="4.9"/><circle cx="929.7" cy="426.7" r="4.9"/><circle cx="930.8" cy="418.8" r="4.9"/><circle cx="932.0" cy="410.4" r="4.9"/><circle cx="933.2" cy="401.8" r="4.9"/><circle cx="934.3" cy="393.7" r="4.9"/><circle cx="935.5" cy="386.5" r="4.9"/><circle cx="936.7" cy="379.5" r="4.9"/><circle cx="937.8" cy="373.0" r="4.9"/><circle cx="939.0" cy="367.0" r="4.9"/><circle cx="940.2" cy="361.9" r="4.9"/><circle cx="941.3" cy="357.7" r="4.9"/><circle cx="942.5" cy="354.0" r="4.9"/><circle cx="943.7" cy="350.6" r="4.9"/><circle cx="944.8" cy="347.4" r="4.9"/><circle cx="946.0" cy="344.1" r="4.9"/></g>
<path d="M767.4 339.2 L767.8 338.3 L768.3 337.1 L768.9 335.7 L769.6 334.1 L770.3 332.5 L771.1 330.8 L771.9 329.1 L772.7 327.5 L773.5 325.9 L774.4 324.2 L775.3 322.4 L776.3 320.7 L777.2 319.0 L778.2 317.4 L779.2 316.0 L780.1 314.8 L781.0 313.8 L781.9 313.0 L782.9 312.2 L783.8 311.6 L784.7 311.2 L785.6 310.9 L786.6 310.7 L787.5 310.6 L788.4 310.7 L789.4 310.9 L790.3 311.2 L791.2 311.6 L792.2 312.2 L793.1 313.0 L794.1 313.8 L795.0 314.8 L795.9 315.9 L796.9 317.2 L797.8 318.7 L798.7 320.2 L799.6 321.9 L800.6 323.7 L801.5 325.5 L802.4 327.5 L803.3 329.6 L804.3 331.8 L805.3 334.1 L806.2 336.5 L807.2 339.0 L808.1 341.5 L809.0 344.1 L809.8 346.6 L810.6 349.1 L811.3 351.7 L811.9 354.2 L812.6 356.8 L813.2 359.5 L813.8 362.2 L814.5 364.9 L815.1 367.8 L815.8 370.8 L816.5 373.8 L817.1 376.9 L817.8 380.1 L818.5 383.3 L819.2 386.6 L819.8 389.9 L820.4 393.2 L821.0 396.6 L821.5 400.0 L822.1 403.5 L822.6 407.1 L823.1 410.6 L823.6 414.1 L824.1 417.4 L824.6 420.7 L825.1 423.9 L825.7 427.1 L826.2 430.3 L826.7 433.4 L827.3 436.3 L827.8 439.1 L828.3 441.7 L828.8 444.0 L829.3 446.1 L829.7 448.2 L830.2 450.1 L830.6 451.8 L831.1 453.2 L831.5 454.3 L831.9 455.0 L832.4 455.2 L832.9 455.0 L833.3 454.3 L833.8 453.3 L834.3 451.9 L834.8 450.2 L835.3 448.3 L835.8 446.2 L836.3 444.0 L836.8 441.5 L837.3 438.7 L837.9 435.7 L838.4 432.5 L838.9 429.1 L839.4 425.6 L840.0 422.1 L840.5 418.6 L841.0 415.1 L841.5 411.4 L842.0 407.6 L842.5 403.8 L843.0 400.0 L843.6 396.2 L844.1 392.5 L844.7 389.0 L845.3 385.6 L845.9 382.3 L846.6 379.0 L847.2 375.9 L847.9 372.7 L848.6 369.6 L849.3 366.6 L850.0 363.5 L850.7 360.4 L851.5 357.4 L852.3 354.3 L853.1 351.3 L853.9 348.4 L854.7 345.5 L855.5 342.8 L856.4 340.2 L857.3 337.7 L858.2 335.3 L859.2 333.0 L860.1 330.8 L861.1 328.7 L862.0 326.8 L862.9 325.0 L863.8 323.3 L864.6 321.8 L865.4 320.5 L866.2 319.3 L866.9 318.2 L867.7 317.3 L868.5 316.4 L869.3 315.6 L870.1 314.8 L871.0 314.0 L871.9 313.3 L872.8 312.7 L873.8 312.1 L874.7 311.7 L875.7 311.3 L876.7 311.1 L877.6 311.0 L878.5 311.1 L879.5 311.2 L880.4 311.5 L881.3 311.9 L882.2 312.4 L883.2 313.0 L884.1 313.8 L885.0 314.8 L885.9 315.9 L886.9 317.1 L887.8 318.5 L888.7 320.1 L889.6 321.7 L890.5 323.5 L891.5 325.4 L892.4 327.5 L893.3 329.7 L894.3 332.1 L895.2 334.6 L896.2 337.3 L897.1 340.1 L898.0 342.9 L898.9 345.8 L899.8 348.7 L900.7 351.7 L901.5 354.7 L902.3 357.8 L903.1 361.0 L903.9 364.2 L904.7 367.5 L905.5 370.8 L906.2 374.1 L906.9 377.5 L907.6 380.9 L908.3 384.4 L909.0 387.9 L909.6 391.4 L910.3 394.9 L910.9 398.3 L911.5 401.7 L912.1 405.0 L912.6 408.1 L913.1 411.3 L913.5 414.4 L914.0 417.5 L914.5 420.6 L915.1 423.8 L915.7 427.1 L916.4 430.8 L917.2 434.9 L918.0 439.2 L918.8 443.4 L919.7 447.4 L920.5 450.9 L921.3 453.5 L922.0 455.2 L922.6 455.8 L923.2 455.5 L923.8 454.5 L924.3 452.9 L924.8 451.0 L925.3 448.7 L925.8 446.3 L926.3 444.0 L926.8 441.5 L927.4 438.7 L927.9 435.7 L928.4 432.5 L928.9 429.1 L929.4 425.6 L930.0 422.1 L930.5 418.6 L931.0 415.1 L931.5 411.4 L932.1 407.7 L932.6 403.9 L933.1 400.1 L933.7 396.4 L934.2 392.6 L934.8 389.0 L935.4 385.4 L936.0 381.7 L936.6 378.1 L937.3 374.5 L938.0 371.0 L938.6 367.6 L939.3 364.4 L940.0 361.4 L940.8 358.6 L941.6 355.8 L942.5 353.2 L943.3 350.7 L944.2 348.4 L944.9 346.4 L945.5 344.7 L946.0 343.4" fill="none" stroke="#000" stroke-width="4.0" stroke-linejoin="round" stroke-linecap="butt"/>
</g>
<rect x="822.3" y="305.6" width="20.2" height="158.0" fill="#00ff00" fill-opacity="0.3"/>
<rect x="911.6" y="305.6" width="19.2" height="158.0" fill="#00ff00" fill-opacity="0.3"/>
</g>
<clipPath id="cpb4"><rect x="984.4" y="300.2" width="192.0" height="168.8"/></clipPath>
<g>
<rect x="990.4" y="306.2" width="180.0" height="156.8" fill="none" stroke="#969696" stroke-width="1.2"/>
<path d="M1035.4 306.2v2.2M1035.4 463.0v-2.2" stroke="#969696" stroke-width="1"/>
<path d="M1080.4 306.2v2.2M1080.4 463.0v-2.2" stroke="#969696" stroke-width="1"/>
<path d="M1125.4 306.2v2.2M1125.4 463.0v-2.2" stroke="#969696" stroke-width="1"/>
<g clip-path="url(#cpb4)">
<g fill="none" stroke="#ff0000" stroke-width="1.25"><circle cx="990.4" cy="342.0" r="4.9"/><circle cx="991.6" cy="339.3" r="4.9"/><circle cx="992.7" cy="336.6" r="4.9"/><circle cx="993.9" cy="334.0" r="4.9"/><circle cx="995.1" cy="331.4" r="4.9"/><circle cx="996.2" cy="329.0" r="4.9"/><circle cx="997.4" cy="326.4" r="4.9"/><circle cx="998.6" cy="323.9" r="4.9"/><circle cx="999.8" cy="321.5" r="4.9"/><circle cx="1000.9" cy="319.3" r="4.9"/><circle cx="1002.1" cy="317.4" r="4.9"/><circle cx="1003.3" cy="315.8" r="4.9"/><circle cx="1004.4" cy="314.6" r="4.9"/><circle cx="1005.6" cy="313.5" r="4.9"/><circle cx="1006.8" cy="312.6" r="4.9"/><circle cx="1007.9" cy="311.8" r="4.9"/><circle cx="1009.1" cy="311.2" r="4.9"/><circle cx="1010.3" cy="310.7" r="4.9"/><circle cx="1011.4" cy="310.4" r="4.9"/><circle cx="1012.6" cy="310.2" r="4.9"/><circle cx="1013.8" cy="310.2" r="4.9"/><circle cx="1015.0" cy="310.4" r="4.9"/><circle cx="1016.1" cy="310.8" r="4.9"/><circle cx="1017.3" cy="311.3" r="4.9"/><circle cx="1018.5" cy="312.0" r="4.9"/><circle cx="1019.6" cy="312.8" r="4.9"/><circle cx="1020.8" cy="313.7" r="4.9"/><circle cx="1022.0" cy="314.8" r="4.9"/><circle cx="1023.1" cy="316.0" r="4.9"/><circle cx="1024.3" cy="317.3" r="4.9"/><circle cx="1025.5" cy="318.9" r="4.9"/><circle cx="1026.6" cy="320.6" r="4.9"/><circle cx="1027.8" cy="322.5" r="4.9"/><circle cx="1029.0" cy="324.6" r="4.9"/><circle cx="1030.2" cy="327.0" r="4.9"/><circle cx="1031.3" cy="329.5" r="4.9"/><circle cx="1032.5" cy="332.4" r="4.9"/><circle cx="1033.7" cy="335.6" r="4.9"/><circle cx="1034.8" cy="339.0" r="4.9"/><circle cx="1036.0" cy="342.7" r="4.9"/><circle cx="1037.2" cy="346.6" r="4.9"/><circle cx="1038.3" cy="350.8" r="4.9"/><circle cx="1039.5" cy="355.4" r="4.9"/><circle cx="1040.7" cy="360.4" r="4.9"/><circle cx="1041.8" cy="365.6" r="4.9"/><circle cx="1043.0" cy="371.1" r="4.9"/><circle cx="1044.2" cy="376.7" r="4.9"/><circle cx="1045.4" cy="382.4" r="4.9"/><circle cx="1046.5" cy="388.3" r="4.9"/><circle cx="1047.7" cy="394.5" r="4.9"/><circle cx="1048.9" cy="401.0" r="4.9"/><circle cx="1050.0" cy="407.9" r="4.9"/><circle cx="1051.2" cy="415.8" r="4.9"/><circle cx="1052.4" cy="424.1" r="4.9"/><circle cx="1053.5" cy="431.9" r="4.9"/><circle cx="1054.7" cy="438.4" r="4.9"/><circle cx="1055.9" cy="444.2" r="4.9"/><circle cx="1057.0" cy="448.2" r="4.9"/><circle cx="1058.2" cy="449.1" r="4.9"/><circle cx="1059.4" cy="446.6" r="4.9"/><circle cx="1060.6" cy="441.8" r="4.9"/><circle cx="1061.7" cy="436.2" r="4.9"/><circle cx="1062.9" cy="429.4" r="4.9"/><circle cx="1064.1" cy="421.9" r="4.9"/><circle cx="1065.2" cy="414.5" r="4.9"/><circle cx="1066.4" cy="407.4" r="4.9"/><circle cx="1067.6" cy="400.2" r="4.9"/><circle cx="1068.7" cy="393.2" r="4.9"/><circle cx="1069.9" cy="386.6" r="4.9"/><circle cx="1071.1" cy="380.7" r="4.9"/><circle cx="1072.2" cy="375.2" r="4.9"/><circle cx="1073.4" cy="370.0" r="4.9"/><circle cx="1074.6" cy="365.2" r="4.9"/><circle cx="1075.8" cy="360.8" r="4.9"/><circle cx="1076.9" cy="357.0" r="4.9"/><circle cx="1078.1" cy="353.6" r="4.9"/><circle cx="1079.3" cy="350.7" r="4.9"/><circle cx="1080.4" cy="348.2" r="4.9"/><circle cx="1081.6" cy="345.9" r="4.9"/><circle cx="1082.8" cy="343.9" r="4.9"/><circle cx="1083.9" cy="341.9" r="4.9"/><circle cx="1085.1" cy="340.1" r="4.9"/><circle cx="1086.3" cy="338.3" r="4.9"/><circle cx="1087.5" cy="336.7" r="4.9"/><circle cx="1088.6" cy="335.3" r="4.9"/><circle cx="1089.8" cy="334.1" r="4.9"/><circle cx="1091.0" cy="333.1" r="4.9"/><circle cx="1092.1" cy="332.2" r="4.9"/><circle cx="1093.3" cy="331.5" r="4.9"/><circle cx="1094.5" cy="331.0" r="4.9"/><circle cx="1095.6" cy="330.6" r="4.9"/><circle cx="1096.8" cy="330.3" r="4.9"/><circle cx="1098.0" cy="330.1" r="4.9"/><circle cx="1099.1" cy="330.0" r="4.9"/><circle cx="1100.3" cy="330.1" r="4.9"/><circle cx="1101.5" cy="330.3" r="4.9"/><circle cx="1102.7" cy="330.6" r="4.9"/><circle cx="1103.8" cy="331.0" r="4.9"/><circle cx="1105.0" cy="331.6" r="4.9"/><circle cx="1106.2" cy="332.2" r="4.9"/><circle cx="1107.3" cy="333.0" r="4.9"/><circle cx="1108.5" cy="334.0" r="4.9"/><circle cx="1109.7" cy="335.1" r="4.9"/><circle cx="1110.8" cy="336.4" r="4.9"/><circle cx="1112.0" cy="337.9" r="4.9"/><circle cx="1113.2" cy="339.7" r="4.9"/><circle cx="1114.3" cy="341.6" r="4.9"/><circle cx="1115.5" cy="343.6" r="4.9"/><circle cx="1116.7" cy="345.8" r="4.9"/><circle cx="1117.9" cy="348.1" r="4.9"/><circle cx="1119.0" cy="350.6" r="4.9"/><circle cx="1120.2" cy="353.3" r="4.9"/><circle cx="1121.4" cy="356.1" r="4.9"/><circle cx="1122.5" cy="359.1" r="4.9"/><circle cx="1123.7" cy="362.2" r="4.9"/><circle cx="1124.9" cy="365.6" r="4.9"/><circle cx="1126.0" cy="369.3" r="4.9"/><circle cx="1127.2" cy="373.2" r="4.9"/><circle cx="1128.4" cy="377.3" r="4.9"/><circle cx="1129.5" cy="381.7" r="4.9"/><circle cx="1130.7" cy="386.2" r="4.9"/><circle cx="1131.9" cy="391.0" r="4.9"/><circle cx="1133.1" cy="396.1" r="4.9"/><circle cx="1134.2" cy="401.3" r="4.9"/><circle cx="1135.4" cy="406.8" r="4.9"/><circle cx="1136.6" cy="412.6" r="4.9"/><circle cx="1137.7" cy="419.3" r="4.9"/><circle cx="1138.9" cy="427.0" r="4.9"/><circle cx="1140.1" cy="434.7" r="4.9"/><circle cx="1141.2" cy="441.4" r="4.9"/><circle cx="1142.4" cy="448.2" r="4.9"/><circle cx="1143.6" cy="454.2" r="4.9"/><circle cx="1144.7" cy="457.9" r="4.9"/><circle cx="1145.9" cy="458.2" r="4.9"/><circle cx="1147.1" cy="455.6" r="4.9"/><circle cx="1148.3" cy="451.1" r="4.9"/><circle cx="1149.4" cy="445.9" r="4.9"/><circle cx="1150.6" cy="439.7" r="4.9"/><circle cx="1151.8" cy="432.5" r="4.9"/><circle cx="1152.9" cy="424.8" r="4.9"/><circle cx="1154.1" cy="416.8" r="4.9"/><circle cx="1155.3" cy="408.1" r="4.9"/><circle cx="1156.4" cy="399.3" r="4.9"/><circle cx="1157.6" cy="391.3" r="4.9"/><circle cx="1158.8" cy="384.2" r="4.9"/><circle cx="1159.9" cy="377.4" r="4.9"/><circle cx="1161.1" cy="371.1" r="4.9"/><circle cx="1162.3" cy="365.5" r="4.9"/><circle cx="1163.5" cy="360.9" r="4.9"/><circle cx="1164.6" cy="357.1" r="4.9"/><circle cx="1165.8" cy="353.9" r="4.9"/><circle cx="1167.0" cy="351.0" r="4.9"/><circle cx="1168.1" cy="348.1" r="4.9"/><circle cx="1169.3" cy="345.3" r="4.9"/></g>
<path d="M990.4 341.3 L990.8 340.4 L991.3 339.3 L991.9 337.9 L992.6 336.4 L993.3 334.7 L994.1 333.0 L994.9 331.3 L995.7 329.7 L996.5 328.0 L997.4 326.2 L998.2 324.3 L999.1 322.4 L1000.1 320.6 L1001.1 318.8 L1002.1 317.3 L1003.1 315.9 L1004.2 314.7 L1005.3 313.7 L1006.5 312.7 L1007.7 311.9 L1008.9 311.2 L1010.2 310.7 L1011.4 310.4 L1012.6 310.2 L1013.8 310.2 L1015.0 310.4 L1016.2 310.8 L1017.4 311.4 L1018.6 312.0 L1019.8 312.8 L1021.0 313.8 L1022.1 314.8 L1023.2 315.9 L1024.3 317.2 L1025.4 318.6 L1026.5 320.1 L1027.5 321.8 L1028.6 323.5 L1029.6 325.5 L1030.6 327.5 L1031.6 329.7 L1032.6 332.1 L1033.5 334.5 L1034.4 337.2 L1035.3 339.9 L1036.2 342.8 L1037.1 345.7 L1038.0 348.7 L1038.9 351.8 L1039.7 355.2 L1040.5 358.6 L1041.3 362.1 L1042.1 365.7 L1042.9 369.3 L1043.7 372.8 L1044.4 376.3 L1045.1 379.7 L1045.8 383.2 L1046.5 386.6 L1047.2 390.1 L1047.8 393.5 L1048.5 396.9 L1049.1 400.4 L1049.7 403.8 L1050.3 407.3 L1050.8 411.0 L1051.4 414.7 L1051.9 418.3 L1052.4 421.9 L1052.9 425.3 L1053.4 428.5 L1053.9 431.3 L1054.4 433.9 L1054.9 436.5 L1055.4 438.9 L1055.8 441.1 L1056.3 443.0 L1056.8 444.6 L1057.2 445.6 L1057.7 446.2 L1058.2 446.2 L1058.6 445.7 L1059.0 444.7 L1059.5 443.4 L1059.9 441.8 L1060.4 439.9 L1060.8 437.8 L1061.3 435.6 L1061.8 433.2 L1062.3 430.4 L1062.8 427.3 L1063.3 424.0 L1063.9 420.6 L1064.4 417.1 L1065.0 413.6 L1065.6 410.1 L1066.2 406.6 L1066.8 402.9 L1067.4 399.1 L1068.1 395.3 L1068.7 391.5 L1069.4 387.7 L1070.1 384.0 L1070.8 380.5 L1071.5 377.1 L1072.3 373.6 L1073.1 370.2 L1073.9 366.9 L1074.7 363.7 L1075.5 360.6 L1076.3 357.7 L1077.2 355.1 L1078.1 352.7 L1079.0 350.5 L1079.9 348.5 L1080.8 346.6 L1081.8 344.9 L1082.7 343.2 L1083.7 341.7 L1084.6 340.2 L1085.5 338.8 L1086.4 337.5 L1087.3 336.3 L1088.2 335.2 L1089.1 334.2 L1090.1 333.3 L1091.0 332.5 L1092.0 331.8 L1093.0 331.2 L1094.0 330.7 L1095.1 330.3 L1096.2 330.0 L1097.3 329.7 L1098.3 329.6 L1099.4 329.6 L1100.5 329.7 L1101.6 329.9 L1102.7 330.2 L1103.7 330.5 L1104.8 331.0 L1105.9 331.6 L1107.0 332.3 L1108.0 333.0 L1109.0 333.9 L1110.0 334.9 L1110.9 336.0 L1111.9 337.1 L1112.8 338.4 L1113.7 339.8 L1114.6 341.3 L1115.5 342.8 L1116.4 344.5 L1117.3 346.3 L1118.3 348.2 L1119.2 350.2 L1120.2 352.3 L1121.1 354.5 L1122.0 356.7 L1122.9 359.0 L1123.8 361.4 L1124.6 363.8 L1125.5 366.2 L1126.3 368.8 L1127.1 371.3 L1127.9 374.0 L1128.6 376.8 L1129.4 379.6 L1130.2 382.6 L1131.0 385.7 L1131.8 389.1 L1132.7 392.5 L1133.5 396.1 L1134.3 399.7 L1135.1 403.2 L1135.8 406.7 L1136.5 410.1 L1137.1 413.4 L1137.7 416.8 L1138.2 420.1 L1138.7 423.3 L1139.2 426.6 L1139.7 429.7 L1140.2 432.7 L1140.7 435.6 L1141.2 438.5 L1141.8 441.6 L1142.3 444.7 L1142.8 447.7 L1143.4 450.4 L1143.9 452.6 L1144.5 454.3 L1145.0 455.2 L1145.5 455.4 L1146.1 454.9 L1146.6 453.9 L1147.1 452.4 L1147.6 450.6 L1148.1 448.5 L1148.7 446.3 L1149.2 444.0 L1149.7 441.5 L1150.3 438.7 L1150.8 435.7 L1151.3 432.5 L1151.9 429.1 L1152.4 425.6 L1153.0 422.1 L1153.5 418.6 L1154.0 415.1 L1154.5 411.4 L1155.0 407.7 L1155.5 403.9 L1156.0 400.1 L1156.6 396.4 L1157.1 392.6 L1157.7 389.0 L1158.3 385.4 L1158.9 381.7 L1159.6 378.0 L1160.2 374.4 L1160.9 370.9 L1161.6 367.5 L1162.3 364.3 L1163.0 361.4 L1163.8 358.7 L1164.7 356.0 L1165.6 353.5 L1166.5 351.2 L1167.4 349.1 L1168.1 347.3 L1168.8 345.7 L1169.3 344.5" fill="none" stroke="#000" stroke-width="4.0" stroke-linejoin="round" stroke-linecap="butt"/>
</g>
<rect x="1048.3" y="305.6" width="18.6" height="158.0" fill="#00ff00" fill-opacity="0.3"/>
<rect x="1134.4" y="305.6" width="21.5" height="158.0" fill="#00ff00" fill-opacity="0.3"/>
</g>
<clipPath id="cpc0"><rect x="90.4" y="552.7" width="192.0" height="168.8"/></clipPath>
<g>
<rect x="96.4" y="558.7" width="180.0" height="156.8" fill="none" stroke="#969696" stroke-width="1.2"/>
<path d="M141.4 558.7v2.2M141.4 715.5v-2.2" stroke="#969696" stroke-width="1"/>
<path d="M186.4 558.7v2.2M186.4 715.5v-2.2" stroke="#969696" stroke-width="1"/>
<path d="M231.4 558.7v2.2M231.4 715.5v-2.2" stroke="#969696" stroke-width="1"/>
<g clip-path="url(#cpc0)">
<path d="M96.3 704.6 L96.8 704.6 L97.5 704.7 L98.4 704.5 L99.3 704.4 L100.2 705.0 L101.2 703.5 L102.2 702.9 L103.0 702.8 L103.8 703.5 L104.6 704.3 L105.4 703.7 L106.2 703.8 L106.9 704.3 L107.6 704.3 L108.3 704.3 L109.0 703.7 L109.6 702.7 L110.2 702.4 L110.7 703.1 L111.2 703.8 L111.7 704.1 L112.2 704.3 L112.7 704.7 L113.2 705.0 L113.7 704.9 L114.3 705.2 L114.9 706.1 L115.4 706.9 L116.0 706.7 L116.5 706.0 L117.0 705.6 L117.4 705.2 L117.8 704.7 L118.0 704.3 L118.3 703.9 L118.5 703.6 L118.7 703.2 L118.9 702.7 L119.1 702.2 L119.2 701.8 L119.3 701.2 L119.5 700.5 L119.6 699.9 L119.7 699.2 L119.8 698.4 L119.9 697.6 L120.0 696.9 L120.1 696.1 L120.2 695.4 L120.3 694.7 L120.4 694.0 L120.5 693.4 L120.5 692.7 L120.6 692.1 L120.7 691.4 L120.8 690.7 L120.9 690.0 L121.0 689.3 L121.0 688.6 L121.1 688.0 L121.2 687.4 L121.2 686.8 L121.3 686.2 L121.4 685.6 L121.5 685.0 L121.5 684.2 L121.6 683.5 L121.7 682.8 L121.8 682.1 L121.9 681.4 L122.0 680.7 L122.0 680.1 L122.1 679.4 L122.2 678.8 L122.3 678.1 L122.4 677.4 L122.5 676.6 L122.6 675.9 L122.7 675.2 L122.8 674.6 L122.9 673.9 L123.0 673.3 L123.1 672.6 L123.2 672.0 L123.3 671.4 L123.4 670.8 L123.5 670.1 L123.6 669.4 L123.7 668.6 L123.9 667.8 L124.0 667.0 L124.1 666.3 L124.3 665.6 L124.4 664.9 L124.5 664.2 L124.6 663.5 L124.8 662.9 L124.9 662.2 L125.0 661.6 L125.2 660.7 L125.4 659.8 L125.6 659.1 L125.8 658.3 L126.0 657.6 L126.2 656.9 L126.4 656.3 L126.6 655.6 L127.0 654.5 L127.4 653.6 L127.8 652.8 L128.2 652.3 L128.6 652.0 L129.0 652.0 L129.4 652.2 L129.8 652.7 L130.2 653.4 L130.6 654.4 L130.7 654.9 L130.9 655.5 L131.1 656.2 L131.3 656.9 L131.5 657.7 L131.7 658.5 L131.8 659.2 L132.0 659.8 L132.1 660.4 L132.2 661.1 L132.4 661.9 L132.5 662.6 L132.6 663.3 L132.7 663.9 L132.8 664.6 L132.9 665.3 L133.0 666.0 L133.1 666.7 L133.2 667.5 L133.3 668.2 L133.4 668.8 L133.5 669.5 L133.5 670.1 L133.6 670.7 L133.7 671.3 L133.8 672.0 L133.9 672.6 L133.9 673.3 L134.0 673.9 L134.1 674.6 L134.2 675.2 L134.3 675.8 L134.3 676.5 L134.4 677.1 L134.5 677.7 L134.6 678.4 L134.7 679.0 L134.7 679.6 L134.8 680.2 L134.9 680.8 L135.0 681.5 L135.1 682.2 L135.2 682.9 L135.3 683.6 L135.4 684.3 L135.5 684.9 L135.6 685.6 L135.7 686.3 L135.8 686.9 L135.9 687.6 L136.0 688.3 L136.1 688.9 L136.2 689.6 L136.3 690.2 L136.4 690.9 L136.5 691.5 L136.6 692.2 L136.7 692.8 L136.8 693.4 L136.9 694.0 L137.0 694.6 L137.1 695.2 L137.2 695.9 L137.3 696.5 L137.4 697.3 L137.6 698.1 L137.7 698.9 L137.8 699.6 L138.0 700.4 L138.1 701.3 L138.2 702.0 L138.4 702.8 L138.5 703.6 L138.7 704.6 L138.9 705.5 L139.1 706.3 L139.3 706.9 L139.6 707.6 L140.0 707.8 L140.4 708.1 L140.8 708.6 L141.2 709.2 L141.6 709.7 L142.1 709.8 L142.6 709.9 L143.1 710.1 L143.6 709.9 L144.2 709.1 L144.7 708.7 L145.3 709.2 L145.8 709.7 L146.3 709.6 L146.9 709.1 L147.4 708.7 L148.0 707.8 L148.5 706.5 L149.0 705.5 L149.5 705.2 L150.0 704.8 L150.4 703.9 L150.9 702.8 L151.3 701.8 L151.7 700.9 L152.0 700.1 L152.2 699.5 L152.4 699.0 L152.6 698.3 L152.8 697.6 L152.9 697.1 L153.1 696.6 L153.2 696.0 L153.3 695.4 L153.5 694.7 L153.6 693.9 L153.7 693.3 L153.8 692.5 L153.9 691.8 L154.0 691.1 L154.1 690.5 L154.2 689.9 L154.2 689.3 L154.3 688.7 L154.4 688.1 L154.5 687.4 L154.6 686.8 L154.6 686.1 L154.7 685.4 L154.8 684.8 L154.9 684.1 L155.0 683.4 L155.0 682.7 L155.1 682.0 L155.2 681.3 L155.3 680.6 L155.4 679.9 L155.4 679.2 L155.5 678.5 L155.6 677.8 L155.7 677.2 L155.8 676.5 L155.8 675.8 L155.9 675.1 L156.0 674.4 L156.1 673.7 L156.2 673.0 L156.2 672.3 L156.3 671.7 L156.4 671.0 L156.5 670.3 L156.6 669.6 L156.6 668.9 L156.7 668.3 L156.8 667.6 L156.9 667.0 L156.9 666.4 L157.0 665.8 L157.0 665.2 L157.1 664.6 L157.2 664.0 L157.2 663.3 L157.3 662.7 L157.4 662.1 L157.4 661.5 L157.5 660.9 L157.5 660.2 L157.6 659.6 L157.7 659.0 L157.7 658.4 L157.8 657.8 L157.9 657.1 L157.9 656.5 L158.0 655.9 L158.0 655.3 L158.1 654.7 L158.2 654.1 L158.2 653.5 L158.3 652.9 L158.4 652.2 L158.4 651.5 L158.5 650.8 L158.6 650.1 L158.7 649.5 L158.8 648.8 L158.8 648.2 L158.9 647.6 L159.0 647.0 L159.1 646.3 L159.2 645.6 L159.3 645.0 L159.4 644.3 L159.5 643.6 L159.6 643.0 L159.7 642.4 L159.8 641.8 L159.9 641.2 L160.1 640.4 L160.3 639.7 L160.4 638.9 L160.6 638.2 L160.7 637.6 L160.9 636.9 L161.0 636.3 L161.2 635.7 L161.4 635.1 L161.6 634.3 L161.9 633.5 L162.1 632.9 L162.3 632.3 L162.8 631.5 L163.3 631.0 L163.8 630.9 L164.2 631.2 L164.7 631.9 L165.1 632.8 L165.4 633.5 L165.6 634.1 L165.8 634.9 L166.0 635.6 L166.2 636.2 L166.3 636.8 L166.5 637.4 L166.6 638.1 L166.8 638.7 L166.9 639.4 L167.0 640.2 L167.2 641.0 L167.3 641.7 L167.4 642.4 L167.5 643.1 L167.6 643.8 L167.7 644.5 L167.8 645.1 L167.9 645.8 L167.9 646.4 L168.0 647.0 L168.1 647.6 L168.2 648.3 L168.2 648.9 L168.3 649.6 L168.4 650.3 L168.5 650.9 L168.6 651.6 L168.6 652.3 L168.7 653.0 L168.8 653.7 L168.9 654.4 L168.9 655.1 L169.0 655.8 L169.1 656.5 L169.2 657.2 L169.2 657.9 L169.3 658.6 L169.4 659.3 L169.5 660.0 L169.5 660.6 L169.6 661.3 L169.7 662.0 L169.8 662.6 L169.8 663.3 L169.9 663.9 L170.0 664.6 L170.1 665.2 L170.2 665.9 L170.2 666.5 L170.3 667.2 L170.4 667.8 L170.5 668.5 L170.6 669.2 L170.6 669.8 L170.7 670.5 L170.8 671.2 L170.9 671.8 L171.0 672.5 L171.0 673.2 L171.1 673.9 L171.2 674.5 L171.3 675.2 L171.4 675.9 L171.4 676.6 L171.5 677.2 L171.6 677.9 L171.7 678.6 L171.8 679.2 L171.8 679.9 L171.9 680.5 L172.0 681.2 L172.1 681.8 L172.2 682.4 L172.2 683.1 L172.3 683.7 L172.4 684.3 L172.5 685.0 L172.6 685.8 L172.7 686.5 L172.8 687.2 L172.9 687.9 L173.0 688.6 L173.1 689.2 L173.2 689.9 L173.3 690.5 L173.4 691.1 L173.5 691.7 L173.6 692.3 L173.7 693.1 L173.9 693.8 L174.0 694.5 L174.1 695.1 L174.3 695.7 L174.4 696.2 L174.5 696.6 L174.7 697.0 L174.8 697.4 L175.0 698.0 L175.2 698.6 L175.4 699.5 L175.6 700.5 L175.8 701.5 L176.0 702.4 L176.2 703.4 L176.4 704.3 L176.6 705.2 L176.8 706.0 L177.0 706.9 L177.2 707.9 L177.4 708.8 L177.6 709.7 L177.8 710.6 L178.0 711.4 L178.1 712.0 L178.3 712.5 L178.7 713.2 L179.1 713.6 L179.5 714.2 L179.9 715.0 L180.3 715.5 L180.7 715.5 L181.1 715.1 L181.5 714.5 L181.9 713.9 L182.3 713.3 L182.7 712.3 L183.1 711.2 L183.4 710.1 L183.8 709.3 L184.1 708.8 L184.5 708.4 L184.9 707.8 L185.3 706.9 L185.8 706.0 L186.3 705.5 L186.9 705.1 L187.5 704.4 L188.1 704.2 L188.8 704.4 L189.5 703.6 L190.3 702.2 L191.1 702.0 L192.0 702.2 L193.0 703.5 L194.0 703.5 L195.1 703.9 L196.2 704.6 L197.3 704.5 L198.4 703.1 L199.5 703.6 L200.6 704.3 L201.8 704.6 L203.0 704.5 L204.1 705.7 L205.3 704.2 L206.3 703.4 L207.2 702.9 L208.0 703.4 L208.6 703.6 L209.0 703.2 L209.2 702.8 L209.4 702.4 L209.5 701.8 L209.7 701.0 L209.7 700.4 L209.8 699.8 L210.0 699.0 L210.1 698.3 L210.2 697.7 L210.3 697.2 L210.4 696.6 L210.4 696.1 L210.5 695.5 L210.6 694.9 L210.7 694.2 L210.7 693.6 L210.8 692.9 L210.9 692.2 L211.0 691.4 L211.0 690.7 L211.1 690.0 L211.2 689.3 L211.3 688.6 L211.3 688.0 L211.4 687.4 L211.4 686.7 L211.5 686.1 L211.6 685.4 L211.6 684.8 L211.7 684.1 L211.8 683.5 L211.9 682.8 L211.9 682.1 L212.0 681.5 L212.1 680.8 L212.1 680.2 L212.2 679.6 L212.3 678.9 L212.3 678.3 L212.4 677.6 L212.5 676.9 L212.6 676.2 L212.6 675.5 L212.7 674.8 L212.8 674.1 L212.9 673.5 L213.0 672.8 L213.0 672.2 L213.1 671.6 L213.2 671.0 L213.3 670.3 L213.4 669.6 L213.5 669.0 L213.6 668.3 L213.7 667.6 L213.8 667.0 L213.9 666.3 L214.0 665.7 L214.1 665.1 L214.2 664.5 L214.3 663.9 L214.4 663.2 L214.6 662.5 L214.7 661.7 L214.8 661.0 L215.0 660.3 L215.1 659.6 L215.2 658.9 L215.4 658.3 L215.5 657.7 L215.6 657.0 L215.8 656.2 L216.0 655.4 L216.2 654.8 L216.4 654.1 L216.7 653.1 L217.1 652.3 L217.4 651.8 L217.7 651.5 L218.0 651.4 L218.3 651.4 L218.6 651.7 L218.9 652.0 L219.2 652.4 L219.6 653.0 L219.9 653.7 L220.3 654.6 L220.6 655.7 L220.8 656.4 L221.0 657.0 L221.2 657.8 L221.3 658.6 L221.5 659.2 L221.6 659.8 L221.7 660.4 L221.8 661.1 L221.9 661.9 L222.1 662.6 L222.2 663.3 L222.2 663.9 L222.3 664.6 L222.4 665.2 L222.5 665.9 L222.6 666.7 L222.7 667.4 L222.8 668.1 L222.9 668.7 L222.9 669.3 L223.0 670.0 L223.1 670.6 L223.2 671.2 L223.2 671.8 L223.3 672.5 L223.4 673.1 L223.5 673.8 L223.5 674.4 L223.6 675.0 L223.7 675.7 L223.8 676.3 L223.9 677.0 L223.9 677.6 L224.0 678.2 L224.1 678.8 L224.2 679.5 L224.3 680.1 L224.4 680.7 L224.5 681.4 L224.6 682.1 L224.7 682.9 L224.8 683.6 L224.9 684.3 L225.0 685.0 L225.2 685.7 L225.3 686.4 L225.4 687.2 L225.5 687.9 L225.7 688.7 L225.8 689.4 L225.9 690.0 L226.0 690.6 L226.1 691.2 L226.2 691.8 L226.3 692.4 L226.5 693.1 L226.6 693.9 L226.8 694.7 L226.9 695.5 L227.0 696.3 L227.2 697.2 L227.3 698.1 L227.4 698.9 L227.6 699.8 L227.7 700.6 L227.9 701.3 L228.0 701.9 L228.2 702.5 L228.3 703.0 L228.5 703.5 L228.7 703.8 L228.8 704.1 L229.0 704.5 L229.2 705.0 L229.4 705.6 L229.6 706.2 L229.8 706.9 L230.2 707.9 L230.6 708.5 L231.0 708.8 L231.4 709.1 L231.8 709.4 L232.2 709.7 L232.7 709.5 L233.2 709.1 L233.7 709.4 L234.3 710.1 L234.9 710.3 L235.4 709.8 L235.9 709.1 L236.4 708.5 L236.8 707.6 L237.2 706.7 L237.6 705.9 L238.0 705.4 L238.4 705.1 L238.8 704.7 L239.2 703.7 L239.4 702.9 L239.6 702.1 L239.8 701.2 L240.1 700.4 L240.3 699.7 L240.6 699.1 L240.9 698.6 L241.2 698.0 L241.4 697.2 L241.7 696.5 L241.9 696.0 L242.1 695.5 L242.3 694.9 L242.4 694.3 L242.6 693.6 L242.8 692.9 L243.0 692.0 L243.1 691.2 L243.3 690.4 L243.4 689.8 L243.6 689.1 L243.7 688.5 L243.8 687.8 L243.9 687.2 L244.0 686.6 L244.1 686.0 L244.2 685.4 L244.2 684.8 L244.3 684.1 L244.4 683.4 L244.5 682.7 L244.6 682.0 L244.7 681.3 L244.7 680.7 L244.8 680.1 L244.8 679.4 L244.9 678.8 L245.0 678.2 L245.0 677.5 L245.1 676.9 L245.2 676.2 L245.2 675.6 L245.3 674.9 L245.4 674.2 L245.4 673.6 L245.5 672.9 L245.5 672.2 L245.6 671.6 L245.7 670.9 L245.7 670.2 L245.8 669.5 L245.8 668.9 L245.9 668.2 L246.0 667.6 L246.0 666.9 L246.1 666.2 L246.1 665.6 L246.2 664.9 L246.3 664.3 L246.3 663.7 L246.4 663.0 L246.5 662.4 L246.5 661.8 L246.6 661.1 L246.7 660.4 L246.7 659.7 L246.8 659.0 L246.9 658.3 L247.0 657.6 L247.1 657.0 L247.1 656.3 L247.2 655.6 L247.3 655.0 L247.4 654.3 L247.5 653.7 L247.5 653.0 L247.6 652.3 L247.7 651.7 L247.8 651.0 L247.9 650.3 L247.9 649.7 L248.0 649.0 L248.1 648.4 L248.2 647.8 L248.3 647.1 L248.3 646.5 L248.4 645.9 L248.5 645.2 L248.6 644.5 L248.7 643.8 L248.8 643.0 L248.9 642.3 L249.0 641.6 L249.1 640.9 L249.2 640.2 L249.3 639.6 L249.4 639.0 L249.5 638.4 L249.6 637.8 L249.7 637.2 L249.8 636.5 L250.0 635.9 L250.1 635.2 L250.3 634.4 L250.5 633.6 L250.7 633.0 L250.9 632.3 L251.3 631.4 L251.7 630.6 L252.1 630.2 L252.5 629.9 L252.9 629.8 L253.3 629.9 L253.7 630.1 L254.1 630.5 L254.5 631.1 L254.8 631.8 L255.2 632.8 L255.4 633.4 L255.6 634.0 L255.8 634.8 L256.0 635.5 L256.1 636.1 L256.3 636.7 L256.4 637.3 L256.5 638.0 L256.7 638.7 L256.8 639.4 L256.9 640.0 L257.0 640.6 L257.1 641.2 L257.2 641.8 L257.3 642.4 L257.4 643.1 L257.5 643.8 L257.6 644.4 L257.7 645.2 L257.8 645.9 L257.9 646.6 L258.0 647.3 L258.1 648.0 L258.2 648.6 L258.2 649.2 L258.3 649.8 L258.4 650.4 L258.5 651.1 L258.6 651.7 L258.6 652.4 L258.7 653.0 L258.8 653.7 L258.9 654.3 L259.0 655.0 L259.0 655.7 L259.1 656.3 L259.2 657.0 L259.3 657.7 L259.4 658.4 L259.4 659.0 L259.5 659.7 L259.6 660.4 L259.7 661.0 L259.7 661.6 L259.8 662.2 L259.9 662.8 L259.9 663.4 L260.0 664.0 L260.1 664.7 L260.1 665.4 L260.2 666.0 L260.3 666.7 L260.3 667.4 L260.4 668.0 L260.4 668.7 L260.5 669.3 L260.5 669.9 L260.6 670.5 L260.7 671.1 L260.7 671.7 L260.8 672.3 L260.8 672.9 L260.9 673.5 L260.9 674.1 L261.0 674.7 L261.0 675.4 L261.1 676.0 L261.1 676.6 L261.2 677.2 L261.3 677.8 L261.3 678.4 L261.4 679.0 L261.4 679.6 L261.5 680.2 L261.5 680.9 L261.6 681.5 L261.7 682.2 L261.7 682.9 L261.8 683.6 L261.9 684.3 L261.9 684.9 L262.0 685.6 L262.0 686.2 L262.1 686.8 L262.2 687.4 L262.2 688.1 L262.3 688.7 L262.4 689.4 L262.5 690.0 L262.5 690.7 L262.6 691.3 L262.7 692.0 L262.8 692.7 L262.9 693.4 L263.0 694.1 L263.1 694.8 L263.2 695.3 L263.3 695.8 L263.4 696.3 L263.5 696.8 L263.6 697.2 L263.7 697.6 L263.8 698.1 L263.8 698.5 L264.0 699.2 L264.1 700.0 L264.2 700.8 L264.4 701.6 L264.5 702.4 L264.6 703.2 L264.8 704.0 L264.9 704.8 L265.0 705.5 L265.2 706.5 L265.5 707.4 L265.7 708.3 L265.9 709.2 L266.1 710.0 L266.4 710.9 L266.6 711.6 L266.9 712.2 L267.4 712.8 L267.9 713.0 L268.5 713.6 L269.0 714.6 L269.6 714.8 L270.1 714.3 L270.6 713.7 L271.2 713.0 L271.8 711.8 L272.3 710.8 L272.9 710.6 L273.4 710.6 L273.9 710.2 L274.3 709.4 L274.7 708.7 L275.0 708.2 L275.3 707.8 L275.6 707.5 L275.9 707.1 L276.1 706.6 L276.3 706.3 L276.4 706.0" fill="none" stroke="#000" stroke-width="4.2" stroke-linejoin="round" stroke-linecap="butt"/>
<path d="M96.4 704.2H276.4" stroke="#ff0000" stroke-width="3.3" stroke-dasharray="12 11.2"/>
<path d="M96.4 689.5h2.2M276.4 689.5h-2.2" stroke="#969696" stroke-width="1"/>
</g>
<rect x="121.0" y="558.1" width="16.0" height="158.0" fill="#00ff00" fill-opacity="0.3"/>
<rect x="150.6" y="558.1" width="24.6" height="158.0" fill="#00ff00" fill-opacity="0.3"/>
<rect x="210.6" y="558.1" width="16.4" height="158.0" fill="#00ff00" fill-opacity="0.3"/>
<rect x="240.2" y="558.1" width="23.8" height="158.0" fill="#00ff00" fill-opacity="0.3"/>
</g>
<clipPath id="cpc1"><rect x="314.4" y="553.2" width="191.5" height="168.8"/></clipPath>
<g>
<rect x="320.4" y="559.2" width="179.5" height="156.8" fill="none" stroke="#969696" stroke-width="1.2"/>
<path d="M365.3 559.2v2.2M365.3 716.0v-2.2" stroke="#969696" stroke-width="1"/>
<path d="M410.1 559.2v2.2M410.1 716.0v-2.2" stroke="#969696" stroke-width="1"/>
<path d="M455.0 559.2v2.2M455.0 716.0v-2.2" stroke="#969696" stroke-width="1"/>
<g clip-path="url(#cpc1)">
<path d="M320.4 708.0 L320.8 708.0 L321.3 707.7 L321.9 707.4 L322.6 707.7 L323.3 707.7 L324.1 706.2 L324.9 705.2 L325.6 704.8 L326.4 704.5 L327.2 705.2 L328.0 704.9 L328.9 704.2 L329.7 704.7 L330.5 704.7 L331.3 704.5 L332.0 703.9 L332.6 702.8 L333.2 702.7 L333.7 703.5 L334.2 704.3 L334.7 704.7 L335.2 705.0 L335.7 705.4 L336.2 705.7 L336.7 705.6 L337.2 705.6 L337.7 706.1 L338.2 706.7 L338.7 706.5 L339.3 705.6 L339.8 704.8 L340.4 704.3 L341.0 703.8 L341.7 703.8 L342.4 704.6 L343.1 704.7 L343.8 704.1 L344.5 704.4 L345.1 704.6 L345.7 704.3 L346.2 703.7 L346.6 702.9 L346.8 702.3 L347.0 701.6 L347.1 700.7 L347.3 699.7 L347.5 698.6 L347.7 697.6 L347.8 696.5 L348.0 695.6 L348.1 694.9 L348.2 694.3 L348.4 693.8 L348.5 693.2 L348.7 692.6 L348.8 692.0 L349.0 691.2 L349.1 690.5 L349.3 689.7 L349.4 689.1 L349.5 688.4 L349.7 687.7 L349.8 687.1 L349.9 686.3 L350.0 685.6 L350.2 684.9 L350.3 684.2 L350.4 683.6 L350.5 683.0 L350.6 682.4 L350.7 681.8 L350.9 681.2 L351.0 680.6 L351.1 680.0 L351.2 679.4 L351.3 678.8 L351.4 678.2 L351.5 677.5 L351.7 676.8 L351.8 676.1 L352.0 675.4 L352.1 674.8 L352.2 674.2 L352.4 673.6 L352.5 673.0 L352.7 672.3 L352.8 671.7 L353.0 671.0 L353.2 670.2 L353.5 669.4 L353.7 668.7 L354.0 668.0 L354.2 667.5 L354.5 666.9 L354.9 666.0 L355.4 665.3 L355.9 664.8 L356.3 664.6 L356.8 664.6 L357.3 664.9 L357.7 665.4 L358.2 666.2 L358.6 667.3 L358.9 667.9 L359.1 668.5 L359.3 669.2 L359.5 669.9 L359.8 670.7 L360.0 671.4 L360.2 672.3 L360.4 673.1 L360.5 673.7 L360.7 674.4 L360.8 675.0 L361.0 675.8 L361.1 676.5 L361.2 677.3 L361.3 677.9 L361.4 678.5 L361.5 679.2 L361.6 679.8 L361.7 680.4 L361.8 681.1 L361.9 681.8 L362.0 682.4 L362.1 683.1 L362.2 683.7 L362.3 684.4 L362.4 685.1 L362.5 685.7 L362.6 686.3 L362.7 687.0 L362.8 687.6 L362.9 688.4 L363.1 689.2 L363.2 690.0 L363.3 690.6 L363.5 691.3 L363.6 692.0 L363.7 692.6 L363.9 693.2 L364.0 693.8 L364.2 694.6 L364.4 695.5 L364.6 696.3 L364.8 697.0 L365.0 697.7 L365.1 698.4 L365.3 698.9 L365.5 699.5 L365.9 700.7 L366.3 701.7 L366.7 702.1 L367.1 702.1 L367.5 702.1 L367.9 702.5 L368.3 703.0 L368.7 703.4 L369.1 703.2 L369.5 702.5 L369.9 701.4 L370.1 700.8 L370.3 700.1 L370.5 699.2 L370.7 698.4 L370.8 697.4 L371.0 696.4 L371.1 695.6 L371.3 694.9 L371.4 694.2 L371.5 693.4 L371.6 692.7 L371.8 692.0 L371.9 691.4 L371.9 690.7 L372.0 690.1 L372.1 689.5 L372.2 688.8 L372.3 688.1 L372.5 687.4 L372.6 686.7 L372.6 686.1 L372.7 685.5 L372.8 684.8 L372.9 684.2 L373.0 683.6 L373.1 683.0 L373.2 682.4 L373.2 681.7 L373.3 681.1 L373.4 680.5 L373.5 679.9 L373.6 679.3 L373.6 678.6 L373.7 678.0 L373.8 677.4 L373.9 676.7 L373.9 676.1 L374.0 675.5 L374.1 674.9 L374.2 674.3 L374.2 673.7 L374.3 673.1 L374.4 672.5 L374.4 671.8 L374.5 671.2 L374.6 670.6 L374.6 670.0 L374.7 669.4 L374.8 668.7 L374.9 668.1 L374.9 667.5 L375.0 666.8 L375.1 666.2 L375.1 665.6 L375.2 664.9 L375.3 664.3 L375.4 663.7 L375.4 663.0 L375.5 662.4 L375.6 661.8 L375.7 661.1 L375.7 660.5 L375.8 659.9 L375.9 659.3 L375.9 658.7 L376.0 658.1 L376.1 657.5 L376.1 656.9 L376.2 656.3 L376.3 655.7 L376.4 655.1 L376.4 654.5 L376.5 653.9 L376.6 653.2 L376.7 652.6 L376.7 652.0 L376.8 651.4 L376.9 650.8 L377.0 650.2 L377.1 649.6 L377.1 649.0 L377.2 648.4 L377.3 647.8 L377.4 647.1 L377.5 646.3 L377.6 645.6 L377.7 644.9 L377.9 644.2 L378.0 643.6 L378.1 643.0 L378.2 642.3 L378.3 641.6 L378.4 640.9 L378.6 640.1 L378.7 639.5 L378.8 638.9 L378.9 638.3 L379.1 637.5 L379.3 636.7 L379.5 636.0 L379.7 635.3 L379.9 634.7 L380.0 634.1 L380.4 633.0 L380.8 632.1 L381.1 631.4 L381.4 630.9 L381.8 630.7 L382.1 630.6 L382.4 630.6 L382.8 630.8 L383.1 631.0 L383.4 631.3 L383.7 631.6 L384.1 632.1 L384.4 632.7 L384.7 633.5 L385.0 634.5 L385.2 635.1 L385.4 635.8 L385.5 636.5 L385.7 637.3 L385.8 637.9 L385.9 638.6 L386.1 639.2 L386.2 639.9 L386.3 640.7 L386.4 641.4 L386.5 642.0 L386.6 642.7 L386.7 643.3 L386.8 643.9 L386.9 644.6 L387.0 645.3 L387.1 645.9 L387.2 646.6 L387.3 647.3 L387.4 648.0 L387.5 648.8 L387.6 649.5 L387.7 650.2 L387.8 650.9 L387.9 651.7 L388.0 652.4 L388.1 653.1 L388.2 653.9 L388.3 654.6 L388.4 655.4 L388.5 656.1 L388.6 656.8 L388.7 657.6 L388.8 658.3 L388.9 658.9 L389.0 659.5 L389.0 660.1 L389.1 660.7 L389.2 661.3 L389.3 662.0 L389.4 662.6 L389.4 663.2 L389.5 663.9 L389.6 664.5 L389.7 665.2 L389.8 665.8 L389.8 666.5 L389.9 667.2 L390.0 667.8 L390.1 668.5 L390.2 669.2 L390.2 669.9 L390.3 670.5 L390.4 671.2 L390.5 671.9 L390.6 672.5 L390.6 673.2 L390.7 673.9 L390.8 674.5 L390.9 675.2 L391.0 675.8 L391.0 676.5 L391.1 677.1 L391.2 677.8 L391.3 678.4 L391.4 679.0 L391.4 679.6 L391.5 680.2 L391.6 680.8 L391.7 681.5 L391.8 682.2 L391.9 682.9 L392.0 683.6 L392.1 684.2 L392.2 684.9 L392.3 685.5 L392.4 686.2 L392.5 686.8 L392.6 687.4 L392.7 688.0 L392.8 688.6 L392.9 689.4 L393.1 690.1 L393.2 690.9 L393.3 691.6 L393.5 692.3 L393.6 693.1 L393.7 693.8 L393.9 694.5 L394.0 695.2 L394.1 695.9 L394.3 696.6 L394.4 697.3 L394.5 697.9 L394.7 698.6 L394.8 699.2 L395.0 700.1 L395.2 700.9 L395.4 701.6 L395.6 702.4 L395.8 703.2 L396.0 704.0 L396.1 704.8 L396.3 705.6 L396.5 706.3 L396.7 706.9 L396.9 707.4 L397.1 707.8 L397.4 708.1 L397.9 708.2 L398.3 708.6 L398.8 709.4 L399.2 710.1 L399.7 710.5 L400.3 710.9 L400.8 711.4 L401.3 711.2 L401.9 710.4 L402.5 710.0 L403.1 710.3 L403.7 709.9 L404.4 708.7 L405.1 707.5 L405.8 706.1 L406.4 704.9 L407.1 705.1 L407.8 705.9 L408.5 706.1 L409.1 706.5 L409.8 707.4 L410.5 708.1 L411.1 709.1 L411.8 710.4 L412.4 710.4 L413.1 709.4 L413.7 709.0 L414.4 708.9 L415.0 708.6 L415.6 708.7 L416.3 708.8 L416.9 707.9 L417.6 707.1 L418.3 707.4 L419.0 707.3 L419.8 706.5 L420.6 705.4 L421.4 703.5 L422.2 702.7 L423.0 703.1 L423.8 702.6 L424.6 702.5 L425.4 702.6 L426.2 702.9 L427.0 704.3 L427.9 704.0 L428.7 703.3 L429.5 703.3 L430.3 703.2 L431.0 704.0 L431.7 704.4 L432.4 704.0 L433.1 704.3 L433.8 705.3 L434.4 705.6 L435.1 705.6 L435.7 705.3 L436.2 704.0 L436.7 702.2 L437.1 700.7 L437.3 700.1 L437.5 699.6 L437.7 699.1 L437.9 698.6 L438.1 697.9 L438.3 697.2 L438.5 696.4 L438.6 695.5 L438.8 694.9 L438.9 694.3 L439.0 693.8 L439.1 693.2 L439.3 692.6 L439.4 692.0 L439.5 691.3 L439.7 690.6 L439.8 689.9 L439.9 689.3 L440.0 688.7 L440.1 688.1 L440.2 687.5 L440.3 686.9 L440.4 686.3 L440.5 685.6 L440.6 685.0 L440.7 684.3 L440.8 683.7 L440.9 683.0 L441.0 682.4 L441.1 681.7 L441.2 681.1 L441.3 680.4 L441.4 679.7 L441.5 679.1 L441.6 678.5 L441.7 677.9 L441.8 677.3 L441.9 676.5 L442.1 675.8 L442.2 675.0 L442.3 674.4 L442.5 673.7 L442.6 673.1 L442.8 672.3 L443.0 671.4 L443.2 670.6 L443.5 669.8 L443.7 669.1 L443.9 668.4 L444.1 667.8 L444.3 667.1 L444.8 666.1 L445.2 665.3 L445.7 664.8 L446.1 664.6 L446.5 664.8 L447.0 665.3 L447.4 666.1 L447.8 667.1 L448.0 667.8 L448.2 668.4 L448.4 669.1 L448.6 669.8 L448.9 670.6 L449.1 671.4 L449.3 672.3 L449.5 673.1 L449.6 673.7 L449.8 674.4 L449.9 675.0 L450.1 675.8 L450.2 676.5 L450.4 677.3 L450.5 677.9 L450.6 678.5 L450.7 679.1 L450.8 679.8 L450.9 680.4 L451.0 681.1 L451.1 681.7 L451.2 682.4 L451.4 683.1 L451.5 683.7 L451.6 684.4 L451.7 685.0 L451.8 685.7 L451.9 686.3 L452.0 686.9 L452.2 687.6 L452.3 688.2 L452.4 688.8 L452.5 689.4 L452.6 689.9 L452.8 690.6 L452.9 691.3 L453.1 692.0 L453.3 692.6 L453.4 693.2 L453.6 693.8 L453.8 694.4 L454.0 695.0 L454.1 695.5 L454.3 696.0 L454.5 696.6 L454.7 697.1 L455.0 697.9 L455.2 698.6 L455.5 699.1 L455.8 699.6 L456.0 699.9 L456.3 700.4 L456.8 701.8 L457.3 703.4 L457.7 704.2 L458.1 704.3 L458.5 704.0 L458.9 703.4 L459.3 702.6 L459.7 701.5 L459.9 700.7 L460.1 699.9 L460.3 699.0 L460.5 698.2 L460.7 697.3 L461.0 696.6 L461.1 696.1 L461.3 695.5 L461.5 695.0 L461.7 694.3 L461.8 693.6 L462.0 692.9 L462.2 692.1 L462.4 691.4 L462.5 690.6 L462.7 690.0 L462.8 689.3 L462.9 688.7 L463.1 688.1 L463.2 687.4 L463.4 686.7 L463.5 686.1 L463.6 685.4 L463.8 684.6 L463.9 683.9 L464.0 683.2 L464.2 682.5 L464.3 681.9 L464.4 681.2 L464.5 680.6 L464.6 680.0 L464.7 679.4 L464.8 678.7 L464.9 678.0 L465.0 677.3 L465.1 676.6 L465.2 675.9 L465.3 675.3 L465.4 674.6 L465.5 674.0 L465.6 673.3 L465.7 672.7 L465.8 672.0 L465.8 671.4 L465.9 670.8 L466.0 670.2 L466.1 669.6 L466.1 669.0 L466.2 668.4 L466.3 667.8 L466.3 667.2 L466.4 666.5 L466.5 665.9 L466.6 665.3 L466.6 664.7 L466.7 664.0 L466.8 663.4 L466.9 662.8 L466.9 662.2 L467.0 661.5 L467.1 660.9 L467.2 660.3 L467.2 659.7 L467.3 659.0 L467.4 658.4 L467.5 657.7 L467.6 657.0 L467.7 656.3 L467.8 655.6 L467.8 654.9 L467.9 654.3 L468.0 653.6 L468.1 653.0 L468.2 652.3 L468.3 651.7 L468.4 651.1 L468.5 650.4 L468.6 649.8 L468.7 649.1 L468.8 648.5 L468.9 647.8 L469.0 647.1 L469.2 646.4 L469.3 645.6 L469.4 644.9 L469.6 644.3 L469.7 643.6 L469.8 642.9 L470.0 642.2 L470.1 641.6 L470.2 641.0 L470.4 640.4 L470.5 639.8 L470.7 639.1 L470.9 638.3 L471.1 637.6 L471.2 637.0 L471.4 636.3 L471.6 635.7 L471.9 634.9 L472.1 634.1 L472.4 633.5 L472.6 632.9 L473.1 632.0 L473.5 631.5 L474.0 631.5 L474.4 631.8 L474.8 632.4 L475.2 633.2 L475.3 633.8 L475.5 634.4 L475.7 635.1 L475.9 635.7 L476.1 636.5 L476.3 637.3 L476.4 637.9 L476.6 638.5 L476.7 639.1 L476.8 639.9 L477.0 640.6 L477.1 641.3 L477.2 642.0 L477.3 642.6 L477.4 643.2 L477.5 643.8 L477.6 644.5 L477.7 645.2 L477.8 645.9 L477.9 646.5 L477.9 647.3 L478.0 648.0 L478.1 648.7 L478.2 649.4 L478.3 650.2 L478.4 650.9 L478.5 651.6 L478.6 652.4 L478.7 653.0 L478.8 653.6 L478.9 654.2 L478.9 654.8 L479.0 655.4 L479.1 656.1 L479.2 656.8 L479.3 657.6 L479.4 658.3 L479.5 658.9 L479.6 659.5 L479.6 660.1 L479.7 660.7 L479.8 661.3 L479.9 661.9 L480.0 662.6 L480.0 663.2 L480.1 663.8 L480.2 664.5 L480.3 665.1 L480.4 665.8 L480.4 666.4 L480.5 667.1 L480.6 667.7 L480.7 668.4 L480.8 669.1 L480.8 669.7 L480.9 670.4 L481.0 671.1 L481.1 671.7 L481.2 672.4 L481.2 673.1 L481.3 673.7 L481.4 674.4 L481.5 675.0 L481.6 675.7 L481.6 676.3 L481.7 677.0 L481.8 677.6 L481.9 678.2 L482.0 678.9 L482.0 679.5 L482.1 680.1 L482.2 680.7 L482.3 681.4 L482.4 682.2 L482.5 682.9 L482.6 683.6 L482.7 684.3 L482.8 685.0 L482.9 685.7 L483.0 686.4 L483.1 687.0 L483.2 687.7 L483.3 688.4 L483.4 689.1 L483.5 689.7 L483.6 690.4 L483.7 691.0 L483.8 691.7 L483.9 692.3 L484.0 693.0 L484.1 693.7 L484.1 694.3 L484.2 694.9 L484.3 695.6 L484.4 696.2 L484.5 696.8 L484.7 697.6 L484.8 698.3 L484.9 699.2 L485.0 699.9 L485.2 700.6 L485.3 701.3 L485.4 701.9 L485.6 702.4 L485.7 702.9 L485.9 703.4 L486.1 703.9 L486.3 704.2 L486.5 704.5 L486.8 705.2 L487.2 706.2 L487.6 707.5 L488.0 708.6 L488.5 709.4 L488.9 710.1 L489.4 710.7 L489.8 711.1 L490.3 710.8 L490.8 710.2 L491.3 709.9 L491.9 710.2 L492.5 710.1 L493.1 709.3 L493.8 708.4 L494.7 707.3 L495.6 706.8 L496.5 707.9 L497.4 707.4 L498.2 707.1 L498.9 707.1 L499.4 706.8" fill="none" stroke="#000" stroke-width="4.2" stroke-linejoin="round" stroke-linecap="butt"/>
<path d="M320.4 705.2H499.9" stroke="#ff0000" stroke-width="3.3" stroke-dasharray="12 11.2"/>
<path d="M320.4 689.5h2.2M499.9 689.5h-2.2" stroke="#969696" stroke-width="1"/>
</g>
<rect x="346.5" y="558.6" width="20.3" height="158.0" fill="#00ff00" fill-opacity="0.3"/>
<rect x="369.5" y="558.6" width="25.8" height="158.0" fill="#00ff00" fill-opacity="0.3"/>
<rect x="437.4" y="558.6" width="19.2" height="158.0" fill="#00ff00" fill-opacity="0.3"/>
<rect x="459.2" y="558.6" width="25.8" height="158.0" fill="#00ff00" fill-opacity="0.3"/>
</g>
<clipPath id="cpc2"><rect x="537.6" y="553.2" width="191.2" height="168.8"/></clipPath>
<g>
<rect x="543.6" y="559.2" width="179.2" height="156.8" fill="none" stroke="#969696" stroke-width="1.2"/>
<path d="M588.4 559.2v2.2M588.4 716.0v-2.2" stroke="#969696" stroke-width="1"/>
<path d="M633.2 559.2v2.2M633.2 716.0v-2.2" stroke="#969696" stroke-width="1"/>
<path d="M678.0 559.2v2.2M678.0 716.0v-2.2" stroke="#969696" stroke-width="1"/>
<g clip-path="url(#cpc2)">
<path d="M543.7 707.9 L544.2 707.6 L544.7 707.1 L545.5 707.0 L546.3 707.0 L547.1 705.1 L548.0 703.7 L548.8 703.1 L549.6 702.9 L550.4 703.6 L551.2 703.3 L552.0 703.4 L552.8 704.6 L553.6 705.2 L554.4 705.4 L555.2 704.8 L556.0 703.7 L556.8 704.1 L557.6 704.2 L558.4 703.9 L559.2 703.9 L559.9 703.6 L560.7 704.2 L561.5 705.1 L562.3 704.3 L563.1 703.7 L563.9 703.4 L564.7 703.3 L565.4 704.3 L566.2 704.3 L567.0 704.0 L567.8 705.0 L568.6 705.6 L569.4 706.2 L570.2 705.9 L571.1 704.4 L571.9 704.2 L572.8 704.0 L573.5 703.4 L574.3 703.1 L574.9 702.2 L575.4 701.6 L575.9 701.5 L576.3 701.6 L576.7 701.2 L577.0 700.2 L577.4 698.9 L577.7 697.7 L578.1 696.5 L578.5 695.4 L578.9 694.2 L579.2 693.0 L579.4 692.4 L579.6 691.8 L580.0 690.7 L580.3 689.6 L580.8 688.7 L581.2 687.8 L581.7 687.0 L582.2 686.3 L582.7 685.6 L583.2 685.0 L583.8 684.5 L584.3 684.1 L584.9 683.8 L585.5 683.6 L586.1 683.6 L586.8 683.8 L587.5 684.2 L588.2 684.6 L588.9 685.1 L589.5 685.5 L590.1 685.7 L590.7 685.7 L591.2 685.6 L591.6 685.4 L592.1 685.2 L592.4 684.9 L592.8 684.4 L593.2 683.7 L593.5 682.8 L593.7 682.1 L593.9 681.5 L594.1 680.7 L594.3 679.8 L594.4 679.2 L594.6 678.5 L594.7 677.8 L594.8 677.0 L594.9 676.2 L595.1 675.5 L595.2 674.8 L595.3 674.2 L595.4 673.6 L595.4 672.9 L595.5 672.3 L595.6 671.6 L595.7 670.9 L595.8 670.3 L595.9 669.6 L596.0 668.9 L596.1 668.3 L596.2 667.6 L596.3 666.9 L596.4 666.3 L596.5 665.6 L596.6 665.0 L596.7 664.4 L596.8 663.7 L596.9 663.1 L597.0 662.5 L597.1 661.9 L597.2 661.3 L597.3 660.7 L597.4 660.1 L597.5 659.5 L597.6 658.8 L597.7 658.2 L597.8 657.6 L597.8 657.0 L597.9 656.3 L598.0 655.7 L598.1 655.1 L598.2 654.5 L598.3 653.8 L598.4 653.2 L598.5 652.6 L598.6 652.0 L598.7 651.4 L598.8 650.8 L598.9 650.1 L599.0 649.4 L599.1 648.6 L599.3 647.8 L599.4 647.1 L599.6 646.3 L599.7 645.6 L599.9 644.9 L600.0 644.3 L600.2 643.6 L600.4 643.0 L600.6 642.3 L600.7 641.7 L600.9 641.0 L601.1 640.4 L601.3 639.7 L601.5 639.1 L601.7 638.5 L601.9 637.9 L602.1 637.3 L602.4 636.7 L602.6 636.2 L602.9 635.4 L603.2 634.6 L603.5 634.0 L603.8 633.4 L604.4 632.5 L605.0 632.0 L605.5 631.9 L606.0 632.1 L606.5 632.7 L606.9 633.5 L607.3 634.6 L607.5 635.3 L607.8 636.0 L608.0 636.8 L608.2 637.6 L608.3 638.2 L608.5 638.8 L608.6 639.4 L608.7 640.1 L608.9 640.8 L609.0 641.5 L609.1 642.1 L609.2 642.8 L609.3 643.4 L609.4 644.0 L609.5 644.7 L609.6 645.4 L609.7 646.1 L609.8 646.8 L609.9 647.4 L610.0 648.0 L610.1 648.6 L610.2 649.2 L610.2 649.8 L610.3 650.5 L610.4 651.1 L610.5 651.7 L610.5 652.4 L610.6 653.0 L610.7 653.6 L610.8 654.3 L610.9 654.9 L610.9 655.6 L611.0 656.2 L611.1 656.8 L611.2 657.5 L611.3 658.1 L611.3 658.8 L611.4 659.4 L611.5 660.0 L611.6 660.6 L611.6 661.3 L611.7 661.9 L611.8 662.5 L611.9 663.1 L612.0 663.8 L612.0 664.4 L612.1 665.0 L612.2 665.6 L612.3 666.3 L612.3 667.0 L612.4 667.6 L612.5 668.3 L612.6 669.0 L612.7 669.6 L612.7 670.3 L612.8 671.0 L612.9 671.7 L613.0 672.4 L613.0 673.1 L613.1 673.7 L613.2 674.4 L613.3 675.1 L613.4 675.8 L613.4 676.5 L613.5 677.1 L613.6 677.8 L613.7 678.5 L613.7 679.1 L613.8 679.8 L613.9 680.4 L614.0 681.0 L614.0 681.7 L614.1 682.3 L614.2 683.0 L614.3 683.8 L614.4 684.5 L614.5 685.2 L614.6 685.9 L614.7 686.5 L614.8 687.2 L614.9 687.8 L615.0 688.5 L615.2 689.3 L615.3 690.0 L615.4 690.7 L615.6 691.3 L615.7 691.9 L615.9 692.8 L616.1 693.7 L616.3 694.5 L616.5 695.2 L616.7 695.9 L616.9 696.6 L617.1 697.3 L617.3 698.1 L617.5 698.8 L617.7 699.6 L617.9 700.3 L618.1 701.0 L618.3 701.7 L618.5 702.4 L618.7 703.1 L618.8 703.9 L619.0 704.6 L619.2 705.4 L619.3 706.2 L619.5 706.9 L619.7 707.6 L619.9 708.1 L620.3 708.5 L620.8 708.5 L621.3 708.7 L621.9 709.5 L622.7 710.0 L623.4 710.4 L624.3 710.7 L625.1 709.8 L626.0 710.0 L626.8 710.2 L627.6 709.3 L628.4 708.5 L629.2 707.3 L630.0 707.1 L630.8 708.0 L631.5 707.6 L632.3 707.3 L633.1 707.4 L633.9 707.2 L634.7 707.7 L635.4 707.1 L636.2 705.5 L636.9 704.9 L637.7 704.6 L638.5 704.6 L639.3 705.1 L640.2 704.3 L641.1 704.7 L642.1 705.4 L643.2 704.9 L644.3 703.5 L645.4 703.0 L646.4 703.5 L647.5 703.3 L648.6 703.4 L649.7 704.5 L650.7 704.8 L651.8 703.5 L652.9 703.2 L654.0 703.7 L655.1 703.7 L656.1 703.6 L657.1 704.9 L658.1 705.5 L659.1 705.3 L660.1 704.1 L661.1 704.8 L662.1 704.6 L663.0 704.6 L663.8 704.2 L664.5 704.4 L665.1 705.1 L665.6 705.0 L666.0 704.2 L666.3 703.1 L666.6 702.0 L666.9 700.9 L667.2 699.7 L667.6 698.5 L667.8 697.8 L668.0 697.1 L668.2 696.4 L668.4 695.7 L668.6 695.0 L668.7 694.4 L668.9 693.7 L669.1 693.1 L669.3 692.4 L669.5 691.6 L669.7 690.9 L669.9 690.2 L670.1 689.6 L670.4 688.9 L670.6 688.4 L670.8 687.8 L671.3 686.7 L671.8 685.7 L672.3 684.7 L672.8 683.8 L673.4 683.0 L673.9 682.3 L674.5 681.8 L675.0 681.5 L675.5 681.5 L676.1 681.8 L676.6 682.4 L677.2 683.0 L677.7 683.7 L678.2 684.3 L678.7 684.6 L679.2 684.7 L679.6 684.5 L680.1 684.2 L680.5 683.8 L680.9 683.3 L681.3 682.6 L681.6 681.7 L682.0 680.7 L682.2 680.0 L682.4 679.4 L682.6 678.6 L682.8 677.9 L682.9 677.3 L683.0 676.7 L683.2 676.1 L683.3 675.4 L683.4 674.8 L683.5 674.1 L683.6 673.4 L683.8 672.7 L683.9 671.9 L684.0 671.2 L684.1 670.4 L684.3 669.6 L684.4 668.9 L684.5 668.1 L684.6 667.3 L684.8 666.7 L684.9 666.1 L685.0 665.5 L685.1 664.9 L685.2 664.3 L685.3 663.7 L685.4 663.1 L685.5 662.5 L685.6 661.9 L685.7 661.2 L685.8 660.6 L686.0 660.0 L686.1 659.3 L686.2 658.6 L686.3 657.9 L686.4 657.3 L686.6 656.6 L686.7 655.8 L686.8 655.1 L686.9 654.4 L687.1 653.7 L687.2 653.0 L687.3 652.3 L687.5 651.5 L687.6 650.8 L687.7 650.1 L687.9 649.4 L688.0 648.7 L688.1 648.0 L688.3 647.4 L688.4 646.7 L688.5 646.0 L688.7 645.4 L688.8 644.8 L689.0 644.2 L689.1 643.6 L689.3 642.9 L689.5 642.2 L689.7 641.5 L689.9 640.9 L690.1 640.3 L690.3 639.7 L690.5 639.1 L690.8 638.5 L691.0 638.0 L691.3 637.2 L691.7 636.4 L692.1 635.8 L692.4 635.1 L692.8 634.5 L693.1 634.0 L693.8 633.1 L694.4 632.4 L695.0 632.0 L695.5 631.8 L696.0 631.9 L696.4 632.2 L696.7 632.7 L697.1 633.5 L697.5 634.5 L697.6 635.2 L697.8 635.8 L698.0 636.5 L698.2 637.3 L698.3 637.9 L698.5 638.5 L698.6 639.1 L698.7 639.9 L698.9 640.6 L699.0 641.3 L699.1 642.0 L699.2 642.6 L699.3 643.2 L699.4 643.8 L699.5 644.5 L699.6 645.2 L699.7 645.9 L699.8 646.5 L699.8 647.3 L699.9 648.0 L700.0 648.7 L700.1 649.4 L700.2 650.2 L700.3 650.9 L700.4 651.6 L700.5 652.4 L700.6 653.0 L700.7 653.6 L700.8 654.2 L700.8 654.8 L700.9 655.4 L701.0 656.1 L701.1 656.8 L701.2 657.6 L701.3 658.3 L701.4 658.9 L701.5 659.5 L701.5 660.1 L701.6 660.7 L701.7 661.3 L701.8 661.9 L701.9 662.6 L701.9 663.2 L702.0 663.8 L702.1 664.5 L702.2 665.1 L702.3 665.8 L702.3 666.4 L702.4 667.1 L702.5 667.7 L702.6 668.4 L702.7 669.1 L702.7 669.7 L702.8 670.4 L702.9 671.1 L703.0 671.7 L703.1 672.4 L703.1 673.1 L703.2 673.7 L703.3 674.4 L703.4 675.0 L703.5 675.7 L703.5 676.3 L703.6 677.0 L703.7 677.6 L703.8 678.2 L703.9 678.9 L703.9 679.5 L704.0 680.1 L704.1 680.7 L704.2 681.4 L704.3 682.2 L704.4 682.9 L704.5 683.6 L704.6 684.3 L704.7 685.0 L704.8 685.7 L704.9 686.3 L705.0 687.0 L705.1 687.7 L705.2 688.4 L705.3 689.0 L705.4 689.7 L705.5 690.3 L705.6 691.0 L705.7 691.7 L705.8 692.3 L705.9 692.9 L706.0 693.6 L706.0 694.2 L706.1 694.9 L706.2 695.5 L706.3 696.1 L706.4 696.8 L706.6 697.6 L706.7 698.4 L706.8 699.3 L706.9 700.0 L707.1 700.7 L707.2 701.3 L707.3 701.9 L707.5 702.5 L707.6 703.1 L707.8 704.0 L708.0 704.9 L708.2 705.6 L708.4 706.4 L708.6 707.0 L708.7 707.4 L709.1 707.9 L709.5 708.1 L709.9 708.5 L710.4 709.3 L710.8 710.3 L711.3 710.9 L711.7 711.0 L712.2 711.1 L712.6 711.1 L713.1 710.7 L713.7 709.8 L714.3 709.4 L715.0 709.8 L715.8 709.4 L716.8 708.0 L717.9 706.6 L719.0 706.5 L720.0 706.9 L721.0 706.2 L721.8 706.3 L722.4 706.2" fill="none" stroke="#000" stroke-width="4.2" stroke-linejoin="round" stroke-linecap="butt"/>
<path d="M543.6 705.0H722.8" stroke="#ff0000" stroke-width="3.3" stroke-dasharray="12 11.2"/>
<path d="M543.6 689.5h2.2M722.8 689.5h-2.2" stroke="#969696" stroke-width="1"/>
</g>
<rect x="575.8" y="558.6" width="41.4" height="158.0" fill="#00ff00" fill-opacity="0.3"/>
<rect x="666.8" y="558.6" width="40.8" height="158.0" fill="#00ff00" fill-opacity="0.3"/>
</g>
<clipPath id="cpc3"><rect x="760.3" y="553.5" width="191.5" height="168.6"/></clipPath>
<g>
<rect x="766.3" y="559.5" width="179.5" height="156.6" fill="none" stroke="#969696" stroke-width="1.2"/>
<path d="M811.2 559.5v2.2M811.2 716.1v-2.2" stroke="#969696" stroke-width="1"/>
<path d="M856.0 559.5v2.2M856.0 716.1v-2.2" stroke="#969696" stroke-width="1"/>
<path d="M900.9 559.5v2.2M900.9 716.1v-2.2" stroke="#969696" stroke-width="1"/>
<g clip-path="url(#cpc3)">
<path d="M766.3 708.5 L766.6 708.2 L767.1 707.9 L767.6 707.2 L768.1 706.7 L768.7 706.7 L769.4 706.3 L769.9 704.8 L770.5 703.3 L771.0 702.5 L771.5 701.9 L772.1 701.2 L772.6 700.9 L773.1 700.9 L773.6 700.8 L774.2 700.1 L774.7 699.8 L775.2 700.3 L775.7 701.4 L776.2 702.3 L776.7 702.9 L777.2 703.5 L777.8 703.9 L778.4 703.4 L779.0 702.8 L779.7 703.2 L780.4 703.5 L781.2 703.0 L782.0 702.9 L782.8 702.7 L783.7 703.3 L784.5 704.4 L785.3 703.8 L786.1 703.2 L786.9 703.0 L787.7 702.9 L788.4 703.6 L789.2 703.5 L790.0 703.1 L790.8 704.2 L791.6 705.1 L792.4 706.0 L793.2 706.3 L794.0 705.3 L794.8 705.3 L795.5 705.8 L796.3 705.6 L797.1 705.7 L797.9 705.4 L798.7 705.9 L799.5 707.6 L800.3 708.1 L801.0 707.9 L801.8 707.9 L802.6 707.4 L803.4 707.9 L804.2 707.9 L805.0 706.7 L805.8 706.8 L806.6 707.2 L807.5 707.9 L808.3 708.4 L809.1 707.3 L809.9 706.8 L810.6 706.8 L811.3 706.1 L812.0 705.4 L812.7 704.5 L813.3 703.1 L814.0 702.7 L814.6 703.3 L815.2 703.5 L815.8 703.2 L816.4 703.2 L817.0 703.2 L817.5 702.9 L818.1 703.0 L818.6 703.7 L819.1 704.0 L819.6 703.5 L820.0 702.6 L820.4 701.7 L820.7 701.1 L820.9 700.6 L821.2 699.9 L821.4 699.1 L821.6 698.2 L821.7 697.6 L821.8 697.1 L822.0 696.4 L822.1 695.7 L822.2 695.0 L822.4 694.3 L822.5 693.6 L822.6 692.8 L822.7 692.2 L822.8 691.6 L822.9 691.0 L823.0 690.3 L823.1 689.7 L823.1 689.0 L823.2 688.3 L823.3 687.7 L823.3 687.1 L823.4 686.5 L823.5 685.9 L823.5 685.3 L823.6 684.7 L823.6 684.1 L823.7 683.5 L823.7 682.8 L823.8 682.2 L823.8 681.6 L823.9 681.0 L823.9 680.4 L824.0 679.7 L824.0 679.1 L824.1 678.4 L824.1 677.8 L824.2 677.1 L824.2 676.5 L824.3 675.8 L824.3 675.2 L824.3 674.6 L824.4 673.9 L824.4 673.3 L824.5 672.7 L824.5 672.0 L824.5 671.4 L824.6 670.8 L824.6 670.2 L824.6 669.5 L824.7 668.9 L824.7 668.3 L824.7 667.7 L824.8 667.1 L824.8 666.4 L824.9 665.8 L824.9 665.2 L824.9 664.6 L825.0 664.0 L825.0 663.3 L825.0 662.7 L825.1 662.1 L825.1 661.5 L825.1 660.8 L825.2 660.2 L825.2 659.6 L825.2 658.9 L825.3 658.3 L825.3 657.7 L825.3 657.0 L825.3 656.4 L825.4 655.7 L825.4 655.1 L825.4 654.5 L825.5 653.9 L825.5 653.2 L825.5 652.6 L825.6 652.0 L825.6 651.4 L825.6 650.8 L825.7 650.1 L825.7 649.5 L825.7 648.9 L825.8 648.3 L825.8 647.6 L825.8 647.0 L825.9 646.4 L825.9 645.7 L825.9 645.1 L825.9 644.5 L826.0 643.8 L826.0 643.2 L826.0 642.6 L826.1 641.9 L826.1 641.3 L826.1 640.7 L826.2 640.0 L826.2 639.4 L826.2 638.8 L826.3 638.1 L826.3 637.5 L826.3 636.9 L826.4 636.3 L826.4 635.6 L826.4 635.0 L826.4 634.4 L826.5 633.8 L826.5 633.1 L826.5 632.5 L826.6 631.9 L826.6 631.3 L826.6 630.7 L826.7 630.0 L826.7 629.4 L826.7 628.7 L826.8 628.1 L826.8 627.5 L826.8 626.8 L826.9 626.2 L826.9 625.6 L826.9 624.9 L827.0 624.3 L827.0 623.7 L827.0 623.0 L827.1 622.4 L827.1 621.8 L827.1 621.2 L827.2 620.5 L827.2 619.9 L827.2 619.3 L827.3 618.7 L827.3 618.1 L827.3 617.4 L827.4 616.8 L827.4 616.2 L827.4 615.6 L827.5 614.9 L827.5 614.3 L827.5 613.7 L827.6 613.0 L827.6 612.4 L827.7 611.8 L827.7 611.2 L827.7 610.5 L827.8 609.9 L827.8 609.3 L827.8 608.7 L827.9 608.0 L827.9 607.4 L827.9 606.8 L828.0 606.2 L828.0 605.6 L828.0 604.9 L828.1 604.3 L828.1 603.7 L828.2 603.1 L828.2 602.5 L828.2 601.9 L828.3 601.3 L828.3 600.7 L828.3 600.1 L828.4 599.5 L828.4 598.9 L828.4 598.3 L828.5 597.7 L828.5 597.1 L828.6 596.4 L828.6 595.8 L828.6 595.2 L828.7 594.5 L828.7 593.9 L828.7 593.3 L828.8 592.6 L828.8 592.0 L828.9 591.3 L828.9 590.7 L829.0 590.0 L829.0 589.3 L829.0 588.7 L829.1 588.0 L829.1 587.3 L829.2 586.7 L829.2 586.1 L829.2 585.5 L829.3 584.9 L829.3 584.3 L829.4 583.7 L829.4 583.1 L829.4 582.5 L829.5 581.9 L829.5 581.3 L829.6 580.7 L829.6 580.1 L829.7 579.5 L829.7 578.8 L829.8 578.2 L829.8 577.6 L829.9 576.9 L829.9 576.2 L830.0 575.5 L830.0 574.8 L830.1 574.1 L830.2 573.4 L830.2 572.7 L830.3 572.0 L830.4 571.3 L830.5 570.6 L830.5 569.9 L830.6 569.2 L830.7 568.5 L830.9 567.7 L831.1 566.7 L831.3 566.1 L831.5 565.7 L831.8 565.6 L832.0 565.6 L832.3 565.6 L832.5 565.7 L832.8 566.1 L833.0 566.7 L833.3 567.7 L833.5 568.5 L833.6 569.2 L833.7 569.9 L833.8 570.6 L833.9 571.3 L834.0 572.0 L834.0 572.7 L834.1 573.4 L834.2 574.1 L834.3 574.8 L834.3 575.5 L834.4 576.2 L834.5 577.0 L834.5 577.7 L834.6 578.3 L834.6 578.9 L834.7 579.5 L834.7 580.1 L834.7 580.7 L834.8 581.4 L834.8 582.0 L834.9 582.6 L834.9 583.2 L835.0 583.8 L835.0 584.4 L835.0 585.0 L835.1 585.6 L835.1 586.3 L835.2 586.9 L835.2 587.5 L835.3 588.2 L835.3 588.9 L835.3 589.6 L835.4 590.2 L835.4 590.9 L835.5 591.6 L835.5 592.3 L835.6 592.9 L835.6 593.5 L835.6 594.2 L835.7 594.8 L835.7 595.5 L835.7 596.1 L835.8 596.7 L835.8 597.4 L835.9 598.0 L835.9 598.7 L835.9 599.3 L836.0 600.0 L836.0 600.7 L836.1 601.3 L836.1 602.0 L836.1 602.7 L836.2 603.3 L836.2 604.0 L836.2 604.6 L836.3 605.2 L836.3 605.8 L836.4 606.4 L836.4 607.0 L836.4 607.7 L836.5 608.3 L836.5 608.9 L836.5 609.5 L836.6 610.1 L836.6 610.7 L836.6 611.3 L836.7 611.9 L836.7 612.5 L836.7 613.2 L836.8 613.8 L836.8 614.4 L836.8 615.0 L836.9 615.6 L836.9 616.2 L836.9 616.8 L837.0 617.5 L837.0 618.1 L837.0 618.8 L837.1 619.4 L837.1 620.1 L837.1 620.7 L837.2 621.3 L837.2 622.0 L837.2 622.6 L837.3 623.3 L837.3 623.9 L837.3 624.5 L837.4 625.2 L837.4 625.8 L837.4 626.5 L837.5 627.1 L837.5 627.7 L837.5 628.4 L837.5 629.0 L837.6 629.6 L837.6 630.3 L837.6 630.9 L837.7 631.5 L837.7 632.1 L837.7 632.7 L837.7 633.3 L837.8 634.0 L837.8 634.6 L837.8 635.2 L837.9 635.8 L837.9 636.4 L837.9 637.0 L837.9 637.6 L838.0 638.3 L838.0 638.9 L838.0 639.5 L838.1 640.1 L838.1 640.8 L838.1 641.4 L838.1 642.0 L838.2 642.6 L838.2 643.3 L838.2 643.9 L838.3 644.5 L838.3 645.1 L838.3 645.7 L838.3 646.4 L838.4 647.0 L838.4 647.6 L838.4 648.2 L838.5 648.8 L838.5 649.4 L838.5 650.1 L838.5 650.7 L838.6 651.3 L838.6 651.9 L838.6 652.5 L838.7 653.2 L838.7 653.8 L838.7 654.5 L838.7 655.1 L838.8 655.7 L838.8 656.4 L838.8 657.0 L838.9 657.7 L838.9 658.3 L838.9 658.9 L839.0 659.6 L839.0 660.2 L839.0 660.9 L839.1 661.5 L839.1 662.2 L839.1 662.8 L839.2 663.4 L839.2 664.1 L839.2 664.7 L839.3 665.4 L839.3 666.0 L839.3 666.6 L839.4 667.2 L839.4 667.9 L839.5 668.5 L839.5 669.1 L839.5 669.7 L839.6 670.4 L839.6 671.0 L839.6 671.6 L839.7 672.2 L839.7 672.8 L839.8 673.4 L839.8 674.0 L839.8 674.6 L839.9 675.3 L839.9 675.9 L840.0 676.5 L840.0 677.1 L840.1 677.7 L840.1 678.3 L840.2 679.0 L840.2 679.6 L840.2 680.2 L840.3 680.8 L840.4 681.5 L840.4 682.1 L840.5 682.8 L840.5 683.4 L840.6 684.1 L840.6 684.8 L840.7 685.5 L840.7 686.2 L840.8 686.8 L840.9 687.5 L840.9 688.2 L841.0 688.8 L841.1 689.4 L841.1 690.0 L841.2 690.6 L841.3 691.4 L841.4 692.1 L841.4 692.8 L841.5 693.6 L841.6 694.3 L841.7 694.9 L841.8 695.7 L841.9 696.4 L841.9 697.0 L842.0 697.7 L842.1 698.4 L842.2 699.1 L842.3 699.9 L842.4 700.8 L842.6 701.5 L842.7 702.3 L842.9 703.1 L843.1 703.5 L843.3 703.9 L843.6 704.2 L844.0 704.5 L844.4 705.2 L844.9 706.2 L845.3 707.2 L845.8 707.9 L846.2 708.6 L846.7 709.4 L847.3 709.8 L847.8 709.7 L848.3 709.6 L848.9 710.4 L849.5 711.2 L850.1 711.1 L850.7 710.5 L851.4 710.0 L852.1 709.1 L852.8 708.6 L853.4 709.2 L854.1 709.3 L854.8 708.5 L855.4 708.2 L856.1 707.8 L856.7 707.2 L857.3 707.0 L858.0 706.7 L858.6 705.2 L859.3 703.5 L860.1 703.0 L860.9 702.8 L861.8 703.2 L862.7 703.5 L863.7 703.3 L864.6 705.0 L865.6 705.5 L866.5 705.4 L867.4 704.2 L868.2 703.8 L869.1 704.3 L869.9 703.6 L870.7 703.3 L871.4 703.1 L872.2 703.3 L873.0 704.4 L873.8 704.1 L874.6 703.1 L875.4 703.0 L876.2 702.8 L877.0 703.3 L877.7 703.7 L878.5 703.1 L879.3 703.9 L880.1 705.2 L880.9 705.9 L881.7 706.5 L882.5 706.0 L883.2 705.6 L884.0 706.5 L884.8 706.5 L885.6 706.4 L886.4 706.4 L887.2 706.4 L888.0 707.7 L888.8 708.4 L889.5 707.7 L890.3 707.3 L891.1 706.7 L891.9 706.4 L892.7 706.6 L893.5 705.4 L894.3 704.7 L895.1 705.2 L895.8 705.5 L896.6 706.1 L897.4 705.7 L898.2 704.5 L899.0 704.6 L899.8 704.4 L900.6 703.7 L901.5 703.1 L902.3 702.2 L903.1 703.1 L903.9 704.0 L904.7 703.8 L905.4 703.6 L906.1 703.3 L906.7 702.9 L907.4 703.2 L908.0 703.4 L908.5 702.5 L909.1 701.5 L909.6 700.9 L910.0 700.5 L910.4 700.0 L910.7 699.5 L910.9 699.0 L911.2 698.4 L911.4 697.6 L911.5 697.0 L911.6 696.4 L911.7 695.8 L911.7 695.2 L911.8 694.6 L911.9 694.0 L912.0 693.3 L912.0 692.7 L912.1 692.0 L912.2 691.3 L912.3 690.5 L912.3 689.8 L912.4 689.1 L912.5 688.4 L912.5 687.7 L912.6 687.1 L912.7 686.4 L912.7 685.7 L912.8 685.1 L912.8 684.5 L912.9 683.8 L913.0 683.2 L913.0 682.6 L913.1 682.0 L913.1 681.3 L913.2 680.6 L913.2 679.9 L913.3 679.2 L913.3 678.5 L913.4 677.8 L913.5 677.2 L913.5 676.6 L913.6 675.9 L913.6 675.3 L913.7 674.7 L913.7 674.0 L913.8 673.4 L913.8 672.7 L913.9 672.0 L913.9 671.3 L914.0 670.7 L914.0 670.0 L914.1 669.3 L914.1 668.6 L914.1 668.0 L914.2 667.4 L914.2 666.7 L914.3 666.1 L914.3 665.5 L914.4 664.8 L914.4 664.2 L914.5 663.6 L914.5 662.9 L914.5 662.3 L914.6 661.6 L914.6 660.9 L914.7 660.3 L914.7 659.6 L914.8 659.0 L914.8 658.3 L914.8 657.7 L914.9 657.0 L914.9 656.4 L915.0 655.7 L915.0 655.1 L915.0 654.4 L915.1 653.8 L915.1 653.1 L915.1 652.5 L915.2 651.9 L915.2 651.2 L915.3 650.6 L915.3 649.9 L915.3 649.3 L915.4 648.6 L915.4 648.0 L915.4 647.3 L915.5 646.7 L915.5 646.0 L915.5 645.4 L915.6 644.8 L915.6 644.2 L915.6 643.5 L915.7 642.9 L915.7 642.3 L915.7 641.6 L915.8 641.0 L915.8 640.4 L915.8 639.8 L915.9 639.1 L915.9 638.5 L915.9 637.8 L916.0 637.2 L916.0 636.5 L916.0 635.9 L916.1 635.2 L916.1 634.6 L916.1 633.9 L916.2 633.3 L916.2 632.6 L916.2 632.0 L916.3 631.4 L916.3 630.7 L916.3 630.1 L916.4 629.4 L916.4 628.8 L916.4 628.1 L916.5 627.5 L916.5 626.8 L916.5 626.2 L916.6 625.5 L916.6 624.9 L916.6 624.2 L916.7 623.6 L916.7 623.0 L916.7 622.4 L916.8 621.7 L916.8 621.1 L916.8 620.5 L916.9 619.8 L916.9 619.2 L916.9 618.6 L916.9 618.0 L917.0 617.3 L917.0 616.7 L917.0 616.0 L917.1 615.4 L917.1 614.7 L917.1 614.1 L917.2 613.4 L917.2 612.8 L917.2 612.1 L917.3 611.5 L917.3 610.9 L917.4 610.2 L917.4 609.6 L917.4 608.9 L917.5 608.3 L917.5 607.6 L917.5 607.0 L917.6 606.3 L917.6 605.7 L917.6 605.0 L917.7 604.4 L917.7 603.7 L917.7 603.0 L917.8 602.4 L917.8 601.7 L917.9 601.1 L917.9 600.4 L917.9 599.8 L918.0 599.1 L918.0 598.5 L918.0 597.9 L918.1 597.2 L918.1 596.6 L918.1 595.9 L918.2 595.3 L918.2 594.7 L918.3 594.1 L918.3 593.5 L918.3 592.9 L918.4 592.3 L918.4 591.7 L918.4 591.1 L918.5 590.5 L918.5 589.8 L918.5 589.2 L918.6 588.5 L918.6 587.9 L918.6 587.3 L918.7 586.6 L918.7 586.0 L918.8 585.3 L918.8 584.6 L918.8 583.9 L918.9 583.2 L918.9 582.5 L919.0 581.8 L919.0 581.2 L919.1 580.6 L919.1 579.9 L919.1 579.3 L919.2 578.7 L919.2 578.1 L919.3 577.4 L919.3 576.7 L919.4 576.1 L919.4 575.4 L919.5 574.8 L919.5 574.1 L919.6 573.4 L919.6 572.7 L919.7 572.0 L919.8 571.3 L919.9 570.5 L919.9 569.8 L920.0 569.0 L920.1 568.2 L920.3 567.0 L920.6 566.3 L920.8 565.9 L921.0 565.7 L921.2 565.6 L921.4 565.6 L921.6 565.6 L921.9 565.7 L922.1 565.9 L922.4 566.3 L922.6 567.0 L922.9 568.2 L923.1 569.0 L923.2 569.8 L923.3 570.5 L923.4 571.3 L923.5 572.0 L923.6 572.7 L923.7 573.4 L923.7 574.1 L923.8 574.8 L923.9 575.4 L924.0 576.1 L924.0 576.7 L924.1 577.4 L924.2 578.1 L924.2 578.7 L924.3 579.3 L924.4 579.9 L924.4 580.6 L924.5 581.2 L924.5 581.8 L924.6 582.5 L924.7 583.2 L924.7 583.9 L924.8 584.6 L924.8 585.3 L924.9 586.0 L925.0 586.6 L925.0 587.3 L925.1 587.9 L925.1 588.5 L925.2 589.2 L925.2 589.8 L925.3 590.5 L925.3 591.1 L925.4 591.7 L925.4 592.3 L925.5 592.9 L925.5 593.5 L925.6 594.1 L925.6 594.7 L925.7 595.3 L925.7 595.9 L925.8 596.6 L925.8 597.2 L925.9 597.9 L925.9 598.5 L925.9 599.1 L926.0 599.8 L926.0 600.4 L926.1 601.1 L926.1 601.7 L926.2 602.4 L926.2 603.0 L926.3 603.7 L926.3 604.4 L926.4 605.0 L926.4 605.7 L926.4 606.3 L926.5 607.0 L926.5 607.6 L926.6 608.3 L926.6 608.9 L926.6 609.5 L926.7 610.2 L926.7 610.8 L926.8 611.5 L926.8 612.1 L926.8 612.7 L926.9 613.4 L926.9 614.0 L926.9 614.6 L927.0 615.3 L927.0 615.9 L927.0 616.5 L927.1 617.2 L927.1 617.8 L927.1 618.4 L927.2 619.0 L927.2 619.7 L927.2 620.3 L927.3 620.9 L927.3 621.5 L927.3 622.1 L927.4 622.7 L927.4 623.4 L927.4 624.0 L927.5 624.6 L927.5 625.2 L927.5 625.9 L927.6 626.5 L927.6 627.1 L927.6 627.8 L927.7 628.4 L927.7 629.1 L927.7 629.7 L927.8 630.3 L927.8 631.0 L927.8 631.6 L927.9 632.2 L927.9 632.9 L927.9 633.5 L928.0 634.2 L928.0 634.8 L928.0 635.5 L928.0 636.1 L928.1 636.7 L928.1 637.4 L928.1 638.0 L928.2 638.7 L928.2 639.3 L928.2 639.9 L928.3 640.5 L928.3 641.2 L928.3 641.8 L928.4 642.4 L928.4 643.1 L928.4 643.7 L928.5 644.3 L928.5 645.0 L928.5 645.6 L928.6 646.2 L928.6 646.8 L928.6 647.4 L928.6 648.0 L928.7 648.6 L928.7 649.2 L928.7 649.8 L928.8 650.4 L928.8 651.0 L928.8 651.6 L928.9 652.2 L928.9 652.8 L928.9 653.4 L929.0 654.0 L929.0 654.6 L929.0 655.2 L929.1 655.9 L929.1 656.5 L929.1 657.1 L929.2 657.7 L929.2 658.3 L929.2 658.9 L929.3 659.6 L929.3 660.2 L929.3 660.9 L929.4 661.5 L929.4 662.2 L929.5 662.8 L929.5 663.5 L929.5 664.1 L929.6 664.7 L929.6 665.4 L929.6 666.0 L929.7 666.7 L929.7 667.3 L929.7 667.9 L929.8 668.6 L929.8 669.2 L929.8 669.9 L929.9 670.5 L929.9 671.1 L929.9 671.7 L930.0 672.4 L930.0 673.0 L930.0 673.6 L930.1 674.3 L930.1 674.9 L930.1 675.5 L930.2 676.1 L930.2 676.7 L930.2 677.3 L930.3 677.9 L930.3 678.5 L930.3 679.1 L930.4 679.7 L930.4 680.3 L930.4 680.9 L930.5 681.5 L930.5 682.2 L930.5 682.8 L930.6 683.5 L930.6 684.1 L930.7 684.7 L930.7 685.4 L930.7 686.0 L930.8 686.7 L930.8 687.3 L930.9 688.0 L930.9 688.7 L931.0 689.3 L931.0 690.0 L931.0 690.7 L931.1 691.4 L931.1 692.1 L931.2 692.8 L931.3 693.6 L931.3 694.4 L931.4 695.1 L931.4 695.9 L931.5 696.7 L931.6 697.5 L931.6 698.2 L931.7 699.0 L931.8 699.6 L931.9 700.3 L932.0 700.9 L932.1 701.5 L932.2 702.0 L932.3 702.5 L932.4 703.0 L932.5 703.4 L932.6 703.8 L932.8 704.3 L933.0 704.8 L933.1 705.5 L933.5 706.8 L933.9 708.1 L934.4 709.0 L934.8 709.7 L935.3 710.4 L935.7 710.8 L936.2 710.7 L936.7 710.2 L937.2 709.8 L937.8 710.1 L938.4 710.4 L939.0 709.8 L939.7 708.9 L940.6 708.0 L941.5 707.3 L942.5 708.3 L943.4 707.9 L944.2 707.7 L944.9 708.1 L945.4 708.2" fill="none" stroke="#000" stroke-width="4.2" stroke-linejoin="round" stroke-linecap="butt"/>
<path d="M766.3 705.6H945.8" stroke="#ff0000" stroke-width="3.3" stroke-dasharray="12 11.2"/>
<path d="M766.3 689.5h2.2M945.8 689.5h-2.2" stroke="#969696" stroke-width="1"/>
</g>
<rect x="822.3" y="558.9" width="20.2" height="157.8" fill="#00ff00" fill-opacity="0.3"/>
<rect x="911.6" y="558.9" width="19.2" height="157.8" fill="#00ff00" fill-opacity="0.3"/>
</g>
<clipPath id="cpc4"><rect x="983.6" y="553.2" width="191.8" height="168.8"/></clipPath>
<g>
<rect x="989.6" y="559.2" width="179.8" height="156.8" fill="none" stroke="#969696" stroke-width="1.2"/>
<path d="M1034.5 559.2v2.2M1034.5 716.0v-2.2" stroke="#969696" stroke-width="1"/>
<path d="M1079.5 559.2v2.2M1079.5 716.0v-2.2" stroke="#969696" stroke-width="1"/>
<path d="M1124.5 559.2v2.2M1124.5 716.0v-2.2" stroke="#969696" stroke-width="1"/>
<g clip-path="url(#cpc4)">
<path d="M989.7 706.3 L990.1 706.3 L990.6 706.2 L991.1 706.1 L991.8 706.6 L992.5 706.6 L993.2 705.3 L993.8 704.4 L994.5 704.3 L995.1 704.3 L995.8 704.8 L996.5 705.7 L997.1 705.8 L997.8 706.0 L998.5 707.3 L999.1 708.5 L999.8 708.8 L1000.5 708.7 L1001.2 707.8 L1001.8 706.1 L1002.5 705.5 L1003.2 705.3 L1003.9 704.3 L1004.5 703.3 L1005.1 703.0 L1005.7 702.6 L1006.2 702.4 L1006.7 702.9 L1007.1 703.6 L1007.6 703.9 L1008.1 703.5 L1008.7 702.9 L1009.3 702.8 L1010.0 702.7 L1010.7 702.8 L1011.5 703.6 L1012.3 703.4 L1013.1 703.3 L1014.0 704.7 L1014.8 705.8 L1015.6 706.8 L1016.4 706.8 L1017.2 705.9 L1018.0 706.2 L1018.8 706.3 L1019.5 705.7 L1020.3 705.5 L1021.1 705.0 L1021.9 705.8 L1022.7 707.5 L1023.5 707.8 L1024.3 707.9 L1025.0 708.1 L1025.8 708.1 L1026.6 708.9 L1027.4 708.6 L1028.2 707.7 L1029.0 708.0 L1029.8 708.5 L1030.6 709.3 L1031.4 709.7 L1032.2 708.7 L1033.0 708.6 L1033.8 708.7 L1034.6 708.0 L1035.4 707.4 L1036.2 706.0 L1037.0 705.6 L1037.8 706.6 L1038.6 706.4 L1039.4 706.2 L1040.2 705.8 L1040.9 705.2 L1041.6 705.7 L1042.3 705.7 L1043.1 704.6 L1043.8 704.1 L1044.4 704.1 L1045.0 704.0 L1045.6 704.3 L1046.1 704.7 L1046.5 704.4 L1046.9 703.7 L1047.1 702.8 L1047.4 701.8 L1047.6 700.8 L1047.7 700.2 L1047.8 699.6 L1047.9 698.9 L1048.1 698.2 L1048.1 697.6 L1048.2 697.0 L1048.3 696.4 L1048.4 695.7 L1048.5 695.0 L1048.6 694.2 L1048.6 693.4 L1048.7 692.6 L1048.8 691.8 L1048.9 691.2 L1048.9 690.5 L1049.0 689.9 L1049.1 689.3 L1049.1 688.6 L1049.2 687.9 L1049.3 687.2 L1049.3 686.5 L1049.4 685.9 L1049.4 685.3 L1049.5 684.6 L1049.5 684.0 L1049.6 683.4 L1049.6 682.7 L1049.7 681.9 L1049.7 681.2 L1049.8 680.5 L1049.8 679.8 L1049.9 679.1 L1049.9 678.4 L1050.0 677.7 L1050.0 677.0 L1050.1 676.4 L1050.1 675.7 L1050.2 675.0 L1050.2 674.3 L1050.2 673.7 L1050.3 673.0 L1050.3 672.3 L1050.4 671.7 L1050.4 671.0 L1050.4 670.4 L1050.5 669.8 L1050.5 669.2 L1050.5 668.6 L1050.6 667.9 L1050.6 667.3 L1050.6 666.7 L1050.7 666.1 L1050.7 665.5 L1050.7 664.9 L1050.8 664.2 L1050.8 663.6 L1050.8 663.0 L1050.9 662.3 L1050.9 661.7 L1050.9 661.1 L1051.0 660.4 L1051.0 659.8 L1051.0 659.2 L1051.1 658.6 L1051.1 657.9 L1051.1 657.3 L1051.2 656.7 L1051.2 656.0 L1051.2 655.4 L1051.3 654.8 L1051.3 654.1 L1051.3 653.5 L1051.3 652.9 L1051.4 652.2 L1051.4 651.6 L1051.4 651.0 L1051.5 650.4 L1051.5 649.8 L1051.5 649.2 L1051.6 648.6 L1051.6 648.0 L1051.6 647.4 L1051.6 646.8 L1051.7 646.1 L1051.7 645.5 L1051.7 644.9 L1051.8 644.3 L1051.8 643.7 L1051.8 643.0 L1051.8 642.4 L1051.9 641.8 L1051.9 641.2 L1051.9 640.5 L1052.0 639.9 L1052.0 639.3 L1052.0 638.7 L1052.0 638.1 L1052.1 637.4 L1052.1 636.8 L1052.1 636.2 L1052.2 635.6 L1052.2 635.0 L1052.2 634.3 L1052.3 633.7 L1052.3 633.1 L1052.3 632.5 L1052.3 631.9 L1052.4 631.2 L1052.4 630.6 L1052.4 630.0 L1052.5 629.3 L1052.5 628.7 L1052.5 628.0 L1052.5 627.4 L1052.6 626.7 L1052.6 626.1 L1052.6 625.4 L1052.7 624.8 L1052.7 624.1 L1052.7 623.5 L1052.8 622.8 L1052.8 622.2 L1052.8 621.6 L1052.9 621.0 L1052.9 620.4 L1052.9 619.8 L1052.9 619.2 L1053.0 618.6 L1053.0 618.0 L1053.0 617.4 L1053.1 616.8 L1053.1 616.2 L1053.1 615.6 L1053.2 614.9 L1053.2 614.3 L1053.2 613.6 L1053.3 613.0 L1053.3 612.3 L1053.3 611.7 L1053.4 611.0 L1053.4 610.4 L1053.4 609.7 L1053.5 609.1 L1053.5 608.5 L1053.5 607.9 L1053.5 607.3 L1053.6 606.7 L1053.6 606.1 L1053.6 605.5 L1053.7 604.9 L1053.7 604.3 L1053.7 603.7 L1053.8 603.1 L1053.8 602.5 L1053.8 601.8 L1053.9 601.2 L1053.9 600.5 L1053.9 599.8 L1054.0 599.2 L1054.0 598.5 L1054.0 597.9 L1054.1 597.2 L1054.1 596.6 L1054.1 595.9 L1054.2 595.3 L1054.2 594.6 L1054.2 594.0 L1054.2 593.4 L1054.3 592.7 L1054.3 592.1 L1054.3 591.4 L1054.4 590.8 L1054.4 590.2 L1054.4 589.6 L1054.5 588.9 L1054.5 588.3 L1054.5 587.7 L1054.6 587.1 L1054.6 586.5 L1054.6 585.9 L1054.7 585.3 L1054.7 584.7 L1054.7 584.1 L1054.8 583.5 L1054.8 582.9 L1054.8 582.3 L1054.9 581.7 L1054.9 581.1 L1054.9 580.5 L1055.0 579.8 L1055.0 579.2 L1055.0 578.6 L1055.1 578.0 L1055.1 577.4 L1055.1 576.8 L1055.2 576.2 L1055.2 575.6 L1055.3 575.0 L1055.3 574.4 L1055.3 573.8 L1055.4 573.2 L1055.4 572.5 L1055.5 571.9 L1055.5 571.2 L1055.6 570.6 L1055.6 569.9 L1055.7 569.2 L1055.7 568.4 L1055.8 567.7 L1055.8 566.9 L1055.9 566.2 L1056.0 565.4 L1056.1 564.7 L1056.2 564.0 L1056.3 563.2 L1056.5 562.2 L1056.7 561.7 L1056.9 561.4 L1057.1 561.4 L1057.3 561.4 L1057.5 561.4 L1057.8 561.4 L1058.0 561.7 L1058.3 562.2 L1058.6 563.2 L1058.7 564.0 L1058.8 564.7 L1058.9 565.4 L1059.0 566.2 L1059.1 566.9 L1059.2 567.5 L1059.2 568.1 L1059.3 568.7 L1059.3 569.3 L1059.4 569.9 L1059.4 570.6 L1059.5 571.2 L1059.5 571.9 L1059.6 572.5 L1059.6 573.2 L1059.7 573.8 L1059.7 574.4 L1059.8 575.0 L1059.8 575.6 L1059.8 576.2 L1059.9 576.8 L1059.9 577.4 L1060.0 578.0 L1060.0 578.6 L1060.0 579.2 L1060.1 579.8 L1060.1 580.5 L1060.1 581.1 L1060.2 581.7 L1060.2 582.3 L1060.2 582.9 L1060.3 583.5 L1060.3 584.1 L1060.3 584.7 L1060.4 585.3 L1060.4 585.9 L1060.4 586.5 L1060.5 587.1 L1060.5 587.7 L1060.5 588.3 L1060.5 588.9 L1060.6 589.6 L1060.6 590.2 L1060.6 590.8 L1060.7 591.4 L1060.7 592.1 L1060.7 592.7 L1060.8 593.4 L1060.8 594.0 L1060.8 594.6 L1060.9 595.3 L1060.9 595.9 L1060.9 596.6 L1061.0 597.2 L1061.0 597.9 L1061.0 598.5 L1061.1 599.2 L1061.1 599.8 L1061.1 600.5 L1061.1 601.2 L1061.2 601.8 L1061.2 602.5 L1061.2 603.1 L1061.3 603.7 L1061.3 604.3 L1061.3 604.9 L1061.4 605.5 L1061.4 606.1 L1061.4 606.7 L1061.5 607.3 L1061.5 607.9 L1061.5 608.5 L1061.5 609.1 L1061.6 609.7 L1061.6 610.4 L1061.6 611.0 L1061.7 611.7 L1061.7 612.3 L1061.7 613.0 L1061.8 613.6 L1061.8 614.3 L1061.8 614.9 L1061.9 615.6 L1061.9 616.2 L1061.9 616.8 L1062.0 617.4 L1062.0 618.0 L1062.0 618.6 L1062.1 619.2 L1062.1 619.8 L1062.1 620.4 L1062.1 621.0 L1062.2 621.6 L1062.2 622.2 L1062.2 622.8 L1062.3 623.5 L1062.3 624.1 L1062.3 624.7 L1062.4 625.4 L1062.4 626.0 L1062.4 626.7 L1062.5 627.3 L1062.5 628.0 L1062.5 628.6 L1062.6 629.3 L1062.6 629.9 L1062.6 630.5 L1062.6 631.1 L1062.7 631.7 L1062.7 632.3 L1062.7 633.0 L1062.8 633.6 L1062.8 634.2 L1062.8 634.8 L1062.9 635.4 L1062.9 636.0 L1062.9 636.6 L1062.9 637.2 L1063.0 637.9 L1063.0 638.5 L1063.0 639.1 L1063.1 639.7 L1063.1 640.3 L1063.1 640.9 L1063.2 641.6 L1063.2 642.2 L1063.2 642.8 L1063.2 643.4 L1063.3 644.0 L1063.3 644.7 L1063.3 645.3 L1063.4 645.9 L1063.4 646.5 L1063.4 647.1 L1063.4 647.7 L1063.5 648.3 L1063.5 648.9 L1063.5 649.5 L1063.6 650.1 L1063.6 650.7 L1063.6 651.3 L1063.7 651.9 L1063.7 652.6 L1063.7 653.2 L1063.8 653.8 L1063.8 654.5 L1063.8 655.1 L1063.9 655.7 L1063.9 656.4 L1063.9 657.0 L1063.9 657.6 L1064.0 658.2 L1064.0 658.9 L1064.0 659.5 L1064.1 660.2 L1064.1 660.8 L1064.2 661.4 L1064.2 662.1 L1064.2 662.7 L1064.3 663.4 L1064.3 664.0 L1064.3 664.7 L1064.4 665.3 L1064.4 665.9 L1064.4 666.6 L1064.5 667.2 L1064.5 667.8 L1064.5 668.5 L1064.6 669.1 L1064.6 669.7 L1064.7 670.4 L1064.7 671.0 L1064.7 671.6 L1064.8 672.3 L1064.8 672.9 L1064.9 673.5 L1064.9 674.1 L1064.9 674.8 L1065.0 675.4 L1065.0 676.0 L1065.1 676.7 L1065.1 677.3 L1065.2 678.0 L1065.2 678.7 L1065.2 679.3 L1065.3 680.0 L1065.3 680.6 L1065.4 681.3 L1065.4 682.0 L1065.5 682.7 L1065.5 683.4 L1065.6 684.1 L1065.6 684.8 L1065.7 685.4 L1065.7 686.1 L1065.8 686.7 L1065.8 687.3 L1065.9 688.0 L1065.9 688.6 L1066.0 689.3 L1066.0 690.0 L1066.1 690.6 L1066.2 691.3 L1066.2 692.0 L1066.3 692.7 L1066.3 693.3 L1066.4 693.9 L1066.5 694.5 L1066.5 695.1 L1066.6 695.7 L1066.7 696.3 L1066.8 696.9 L1066.9 697.5 L1066.9 698.0 L1067.0 698.4 L1067.1 698.9 L1067.2 699.5 L1067.3 700.2 L1067.4 700.9 L1067.6 701.7 L1067.7 702.7 L1067.9 703.7 L1068.1 704.5 L1068.3 705.2 L1068.7 706.3 L1069.1 707.2 L1069.5 708.2 L1069.9 709.2 L1070.4 710.0 L1070.9 710.5 L1071.4 711.3 L1071.9 712.7 L1072.4 714.1 L1073.0 714.7 L1073.5 714.6 L1074.1 714.5 L1074.6 714.2 L1075.1 713.4 L1075.6 712.7 L1076.2 712.7 L1076.7 712.7 L1077.2 712.0 L1077.7 710.8 L1078.3 710.1 L1078.8 709.8 L1079.3 709.3 L1079.8 708.6 L1080.3 708.2 L1080.8 707.8 L1081.3 706.8 L1081.8 705.2 L1082.4 703.7 L1083.0 703.2 L1083.7 703.0 L1084.4 702.9 L1085.2 703.5 L1086.0 703.3 L1086.8 703.7 L1087.7 705.4 L1088.5 706.0 L1089.3 706.0 L1090.1 705.3 L1090.9 704.4 L1091.7 704.9 L1092.4 704.9 L1093.2 704.1 L1094.0 704.2 L1094.8 704.3 L1095.6 705.2 L1096.4 706.1 L1097.2 705.1 L1098.0 704.5 L1098.8 704.3 L1099.6 704.0 L1100.4 704.2 L1101.2 703.4 L1102.0 703.1 L1102.8 704.3 L1103.6 705.1 L1104.4 705.7 L1105.2 705.6 L1105.9 704.8 L1106.7 705.3 L1107.5 705.6 L1108.3 705.2 L1109.1 705.3 L1109.9 705.4 L1110.7 706.5 L1111.4 708.4 L1112.2 708.7 L1113.0 708.8 L1113.8 709.0 L1114.6 708.9 L1115.4 709.3 L1116.2 708.8 L1117.0 707.6 L1117.8 707.9 L1118.5 708.4 L1119.3 708.9 L1120.1 709.1 L1120.9 708.0 L1121.7 707.6 L1122.5 707.6 L1123.3 706.4 L1124.1 705.4 L1124.9 704.0 L1125.7 703.2 L1126.4 704.0 L1127.2 704.1 L1128.0 703.8 L1128.8 703.9 L1129.6 703.7 L1130.4 704.3 L1131.1 704.4 L1131.9 703.0 L1132.5 702.2 L1133.1 701.6 L1133.6 700.9 L1134.0 700.2 L1134.3 699.6 L1134.5 699.2 L1134.6 698.9 L1134.7 698.3 L1134.9 697.6 L1134.9 697.0 L1135.0 696.4 L1135.1 695.7 L1135.2 695.0 L1135.3 694.4 L1135.3 693.7 L1135.4 693.1 L1135.5 692.4 L1135.5 691.7 L1135.6 691.1 L1135.6 690.5 L1135.7 689.9 L1135.8 689.3 L1135.8 688.6 L1135.9 688.0 L1135.9 687.4 L1136.0 686.7 L1136.0 686.1 L1136.1 685.5 L1136.1 684.9 L1136.2 684.2 L1136.2 683.6 L1136.3 683.0 L1136.3 682.3 L1136.4 681.7 L1136.4 681.1 L1136.5 680.5 L1136.5 679.8 L1136.5 679.2 L1136.6 678.6 L1136.6 678.0 L1136.7 677.4 L1136.7 676.7 L1136.8 676.1 L1136.8 675.4 L1136.8 674.7 L1136.9 674.0 L1136.9 673.4 L1137.0 672.7 L1137.0 672.0 L1137.1 671.3 L1137.1 670.7 L1137.1 670.1 L1137.2 669.5 L1137.2 668.8 L1137.2 668.2 L1137.3 667.6 L1137.3 666.9 L1137.4 666.3 L1137.4 665.7 L1137.4 665.0 L1137.5 664.3 L1137.5 663.7 L1137.5 663.0 L1137.6 662.4 L1137.6 661.7 L1137.7 661.1 L1137.7 660.4 L1137.7 659.8 L1137.8 659.1 L1137.8 658.4 L1137.8 657.8 L1137.9 657.1 L1137.9 656.4 L1138.0 655.8 L1138.0 655.1 L1138.0 654.4 L1138.1 653.8 L1138.1 653.1 L1138.1 652.4 L1138.2 651.8 L1138.2 651.1 L1138.3 650.5 L1138.3 649.8 L1138.3 649.1 L1138.4 648.5 L1138.4 647.8 L1138.4 647.2 L1138.5 646.5 L1138.5 645.9 L1138.5 645.3 L1138.6 644.7 L1138.6 644.0 L1138.6 643.4 L1138.7 642.8 L1138.7 642.2 L1138.7 641.5 L1138.8 640.9 L1138.8 640.3 L1138.8 639.7 L1138.8 639.1 L1138.9 638.5 L1138.9 637.9 L1138.9 637.2 L1139.0 636.6 L1139.0 636.0 L1139.0 635.4 L1139.0 634.8 L1139.1 634.1 L1139.1 633.5 L1139.1 632.8 L1139.2 632.2 L1139.2 631.6 L1139.2 630.9 L1139.3 630.3 L1139.3 629.6 L1139.3 629.0 L1139.3 628.3 L1139.4 627.7 L1139.4 627.1 L1139.4 626.4 L1139.5 625.7 L1139.5 625.1 L1139.5 624.4 L1139.5 623.8 L1139.6 623.1 L1139.6 622.5 L1139.6 621.8 L1139.7 621.2 L1139.7 620.5 L1139.7 619.9 L1139.7 619.2 L1139.8 618.6 L1139.8 618.0 L1139.8 617.3 L1139.9 616.7 L1139.9 616.0 L1139.9 615.4 L1139.9 614.8 L1140.0 614.1 L1140.0 613.5 L1140.0 612.9 L1140.1 612.3 L1140.1 611.6 L1140.1 611.0 L1140.1 610.4 L1140.2 609.8 L1140.2 609.2 L1140.2 608.6 L1140.3 608.0 L1140.3 607.4 L1140.3 606.7 L1140.3 606.1 L1140.4 605.5 L1140.4 604.9 L1140.4 604.3 L1140.5 603.6 L1140.5 603.0 L1140.5 602.4 L1140.5 601.8 L1140.6 601.2 L1140.6 600.5 L1140.6 599.9 L1140.7 599.3 L1140.7 598.7 L1140.7 598.1 L1140.8 597.5 L1140.8 596.9 L1140.8 596.3 L1140.9 595.7 L1140.9 595.1 L1140.9 594.5 L1141.0 593.9 L1141.0 593.3 L1141.0 592.7 L1141.1 592.1 L1141.1 591.5 L1141.1 590.9 L1141.2 590.3 L1141.2 589.7 L1141.3 589.0 L1141.3 588.4 L1141.3 587.8 L1141.4 587.2 L1141.4 586.5 L1141.5 585.9 L1141.5 585.2 L1141.6 584.6 L1141.6 583.9 L1141.6 583.2 L1141.7 582.6 L1141.7 581.9 L1141.8 581.3 L1141.8 580.7 L1141.9 580.1 L1141.9 579.5 L1142.0 578.9 L1142.0 578.3 L1142.1 577.7 L1142.1 577.0 L1142.2 576.4 L1142.2 575.7 L1142.3 575.1 L1142.3 574.4 L1142.4 573.7 L1142.4 573.0 L1142.5 572.2 L1142.6 571.6 L1142.6 571.0 L1142.7 570.4 L1142.8 569.8 L1142.8 569.1 L1142.9 568.4 L1143.0 567.7 L1143.1 566.9 L1143.2 566.1 L1143.4 565.0 L1143.7 564.4 L1143.9 564.1 L1144.1 564.1 L1144.3 564.2 L1144.5 564.4 L1144.7 564.6 L1144.9 564.7 L1145.1 564.6 L1145.4 564.6 L1145.6 564.8 L1145.8 565.3 L1146.1 566.2 L1146.2 567.0 L1146.3 567.7 L1146.4 568.4 L1146.5 569.2 L1146.6 569.9 L1146.7 570.6 L1146.8 571.4 L1146.8 572.1 L1146.9 572.8 L1147.0 573.5 L1147.0 574.2 L1147.1 574.9 L1147.2 575.6 L1147.2 576.3 L1147.3 577.0 L1147.4 577.7 L1147.4 578.3 L1147.5 579.0 L1147.5 579.7 L1147.6 580.4 L1147.6 581.0 L1147.7 581.6 L1147.7 582.3 L1147.8 582.9 L1147.8 583.6 L1147.9 584.2 L1147.9 584.8 L1148.0 585.5 L1148.0 586.1 L1148.1 586.7 L1148.1 587.3 L1148.2 587.9 L1148.2 588.5 L1148.3 589.1 L1148.3 589.7 L1148.4 590.3 L1148.4 591.0 L1148.5 591.6 L1148.5 592.3 L1148.5 592.9 L1148.6 593.6 L1148.6 594.2 L1148.7 594.9 L1148.7 595.5 L1148.8 596.2 L1148.8 596.9 L1148.9 597.5 L1148.9 598.2 L1149.0 598.9 L1149.0 599.5 L1149.0 600.2 L1149.1 600.8 L1149.1 601.4 L1149.2 602.0 L1149.2 602.7 L1149.2 603.3 L1149.3 603.9 L1149.3 604.5 L1149.4 605.1 L1149.4 605.7 L1149.4 606.4 L1149.5 607.0 L1149.5 607.7 L1149.6 608.3 L1149.6 609.0 L1149.6 609.6 L1149.7 610.3 L1149.7 610.9 L1149.7 611.6 L1149.8 612.2 L1149.8 612.9 L1149.8 613.5 L1149.9 614.1 L1149.9 614.8 L1149.9 615.4 L1150.0 616.1 L1150.0 616.7 L1150.1 617.4 L1150.1 618.0 L1150.1 618.6 L1150.1 619.3 L1150.2 619.9 L1150.2 620.5 L1150.2 621.1 L1150.3 621.7 L1150.3 622.4 L1150.3 623.0 L1150.4 623.6 L1150.4 624.2 L1150.4 624.8 L1150.5 625.5 L1150.5 626.1 L1150.5 626.8 L1150.6 627.4 L1150.6 628.0 L1150.6 628.7 L1150.6 629.3 L1150.7 630.0 L1150.7 630.6 L1150.7 631.2 L1150.8 631.9 L1150.8 632.5 L1150.8 633.1 L1150.9 633.8 L1150.9 634.4 L1150.9 635.1 L1151.0 635.7 L1151.0 636.4 L1151.0 637.0 L1151.0 637.6 L1151.1 638.3 L1151.1 638.9 L1151.1 639.5 L1151.2 640.2 L1151.2 640.8 L1151.2 641.4 L1151.3 642.0 L1151.3 642.7 L1151.3 643.3 L1151.4 643.9 L1151.4 644.5 L1151.4 645.2 L1151.4 645.8 L1151.5 646.4 L1151.5 647.1 L1151.5 647.7 L1151.6 648.4 L1151.6 649.1 L1151.6 649.7 L1151.7 650.4 L1151.7 651.0 L1151.7 651.7 L1151.8 652.3 L1151.8 653.0 L1151.8 653.6 L1151.9 654.3 L1151.9 655.0 L1152.0 655.6 L1152.0 656.3 L1152.0 657.0 L1152.1 657.6 L1152.1 658.3 L1152.1 658.9 L1152.2 659.5 L1152.2 660.2 L1152.2 660.8 L1152.3 661.4 L1152.3 662.0 L1152.3 662.7 L1152.4 663.3 L1152.4 663.9 L1152.5 664.5 L1152.5 665.1 L1152.5 665.7 L1152.6 666.4 L1152.6 667.0 L1152.6 667.6 L1152.7 668.2 L1152.7 668.8 L1152.7 669.4 L1152.8 670.1 L1152.8 670.7 L1152.8 671.4 L1152.9 672.0 L1152.9 672.7 L1152.9 673.4 L1153.0 674.0 L1153.0 674.7 L1153.1 675.3 L1153.1 676.0 L1153.1 676.6 L1153.2 677.2 L1153.2 677.9 L1153.2 678.5 L1153.3 679.1 L1153.3 679.7 L1153.4 680.4 L1153.4 681.1 L1153.4 681.8 L1153.5 682.4 L1153.5 683.1 L1153.6 683.8 L1153.6 684.5 L1153.7 685.1 L1153.7 685.7 L1153.8 686.3 L1153.8 687.0 L1153.8 687.6 L1153.9 688.2 L1153.9 688.8 L1154.0 689.5 L1154.0 690.2 L1154.1 690.8 L1154.1 691.5 L1154.2 692.1 L1154.3 692.9 L1154.3 693.6 L1154.4 694.4 L1154.5 695.2 L1154.5 695.9 L1154.6 696.7 L1154.7 697.5 L1154.8 698.2 L1154.9 698.9 L1155.0 699.5 L1155.1 700.1 L1155.2 700.6 L1155.3 701.2 L1155.5 701.5 L1155.6 701.9 L1155.7 702.3 L1155.9 702.9 L1156.1 703.6 L1156.3 704.3 L1156.5 705.0 L1156.9 706.4 L1157.3 707.6 L1157.8 708.5 L1158.3 709.5 L1158.8 710.4 L1159.3 710.9 L1159.8 711.1 L1160.4 711.6 L1160.9 712.7 L1161.5 713.3 L1162.0 713.0 L1162.5 712.4 L1163.1 711.9 L1163.6 711.2 L1164.2 710.4 L1164.7 710.1 L1165.2 710.3 L1165.7 710.3 L1166.2 709.7 L1166.7 709.1 L1167.1 708.8 L1167.6 709.0 L1168.1 709.0 L1168.5 708.9 L1168.8 708.8 L1169.2 708.9 L1169.4 709.0" fill="none" stroke="#000" stroke-width="4.2" stroke-linejoin="round" stroke-linecap="butt"/>
<path d="M989.6 705.6H1169.4" stroke="#ff0000" stroke-width="3.3" stroke-dasharray="12 11.2"/>
<path d="M989.6 689.5h2.2M1169.4 689.5h-2.2" stroke="#969696" stroke-width="1"/>
</g>
<rect x="1048.3" y="558.6" width="18.6" height="158.0" fill="#00ff00" fill-opacity="0.3"/>
<rect x="1134.4" y="558.6" width="21.5" height="158.0" fill="#00ff00" fill-opacity="0.3"/>
</g>
<path d="M575.5 628.8V709" stroke="#ff0000" stroke-width="1.8"/>
<path d="M575.5 715.6l-3.3 -8.3h6.6z" fill="#ff0000"/>
<path d="M616.4 628.8V709" stroke="#ff0000" stroke-width="1.8"/>
<path d="M616.4 715.6l-3.3 -8.3h6.6z" fill="#ff0000"/>
<text transform="translate(97.15 253.40) scale(0.965 1)" font-size="26" text-anchor="middle">0</text>
<text transform="translate(142.94 253.40) scale(0.965 1)" font-size="26" text-anchor="middle">0.5</text>
<text transform="translate(187.03 253.40) scale(0.965 1)" font-size="26" text-anchor="middle">1.0</text>
<text transform="translate(231.51 253.40) scale(0.965 1)" font-size="26" text-anchor="middle">1.5</text>
<text transform="translate(275.10 253.40) scale(0.965 1)" font-size="26" text-anchor="middle">2.0</text>
<text transform="translate(320.80 253.40) scale(0.965 1)" font-size="26" text-anchor="middle">0</text>
<text transform="translate(366.70 253.40) scale(0.965 1)" font-size="26" text-anchor="middle">0.5</text>
<text transform="translate(410.90 253.40) scale(0.965 1)" font-size="26" text-anchor="middle">1.0</text>
<text transform="translate(455.50 253.40) scale(0.965 1)" font-size="26" text-anchor="middle">1.5</text>
<text transform="translate(499.20 253.40) scale(0.965 1)" font-size="26" text-anchor="middle">2.0</text>
<text transform="translate(544.30 253.40) scale(0.965 1)" font-size="26" text-anchor="middle">0</text>
<text transform="translate(590.13 253.40) scale(0.965 1)" font-size="26" text-anchor="middle">0.5</text>
<text transform="translate(634.25 253.40) scale(0.965 1)" font-size="26" text-anchor="middle">1.0</text>
<text transform="translate(678.77 253.40) scale(0.965 1)" font-size="26" text-anchor="middle">1.5</text>
<text transform="translate(722.40 253.40) scale(0.965 1)" font-size="26" text-anchor="middle">2.0</text>
<text transform="translate(766.80 253.40) scale(0.965 1)" font-size="26" text-anchor="middle">0</text>
<text transform="translate(812.75 253.40) scale(0.965 1)" font-size="26" text-anchor="middle">0.5</text>
<text transform="translate(857.00 253.40) scale(0.965 1)" font-size="26" text-anchor="middle">1.0</text>
<text transform="translate(901.65 253.40) scale(0.965 1)" font-size="26" text-anchor="middle">1.5</text>
<text transform="translate(945.40 253.40) scale(0.965 1)" font-size="26" text-anchor="middle">2.0</text>
<text transform="translate(990.20 253.40) scale(0.965 1)" font-size="26" text-anchor="middle">0</text>
<text transform="translate(1036.22 253.40) scale(0.965 1)" font-size="26" text-anchor="middle">0.5</text>
<text transform="translate(1080.55 253.40) scale(0.965 1)" font-size="26" text-anchor="middle">1.0</text>
<text transform="translate(1125.27 253.40) scale(0.965 1)" font-size="26" text-anchor="middle">1.5</text>
<text transform="translate(1164.50 253.40) scale(0.965 1)" font-size="26" text-anchor="middle">2.0</text>
<text transform="translate(97.60 488.80) scale(0.965 1)" font-size="26" text-anchor="middle">0</text>
<text transform="translate(143.47 488.80) scale(0.965 1)" font-size="26" text-anchor="middle">0.5</text>
<text transform="translate(187.65 488.80) scale(0.965 1)" font-size="26" text-anchor="middle">1.0</text>
<text transform="translate(232.22 488.80) scale(0.965 1)" font-size="26" text-anchor="middle">1.5</text>
<text transform="translate(275.90 488.80) scale(0.965 1)" font-size="26" text-anchor="middle">2.0</text>
<text transform="translate(321.00 488.80) scale(0.965 1)" font-size="26" text-anchor="middle">0</text>
<text transform="translate(367.02 488.80) scale(0.965 1)" font-size="26" text-anchor="middle">0.5</text>
<text transform="translate(411.35 488.80) scale(0.965 1)" font-size="26" text-anchor="middle">1.0</text>
<text transform="translate(456.08 488.80) scale(0.965 1)" font-size="26" text-anchor="middle">1.5</text>
<text transform="translate(499.90 488.80) scale(0.965 1)" font-size="26" text-anchor="middle">2.0</text>
<text transform="translate(545.00 488.80) scale(0.965 1)" font-size="26" text-anchor="middle">0</text>
<text transform="translate(590.75 488.80) scale(0.965 1)" font-size="26" text-anchor="middle">0.5</text>
<text transform="translate(634.80 488.80) scale(0.965 1)" font-size="26" text-anchor="middle">1.0</text>
<text transform="translate(679.25 488.80) scale(0.965 1)" font-size="26" text-anchor="middle">1.5</text>
<text transform="translate(722.80 488.80) scale(0.965 1)" font-size="26" text-anchor="middle">2.0</text>
<text transform="translate(767.40 488.80) scale(0.965 1)" font-size="26" text-anchor="middle">0</text>
<text transform="translate(813.30 488.80) scale(0.965 1)" font-size="26" text-anchor="middle">0.5</text>
<text transform="translate(857.50 488.80) scale(0.965 1)" font-size="26" text-anchor="middle">1.0</text>
<text transform="translate(902.10 488.80) scale(0.965 1)" font-size="26" text-anchor="middle">1.5</text>
<text transform="translate(945.80 488.80) scale(0.965 1)" font-size="26" text-anchor="middle">2.0</text>
<text transform="translate(991.00 488.80) scale(0.965 1)" font-size="26" text-anchor="middle">0</text>
<text transform="translate(1037.00 488.80) scale(0.965 1)" font-size="26" text-anchor="middle">0.5</text>
<text transform="translate(1081.30 488.80) scale(0.965 1)" font-size="26" text-anchor="middle">1.0</text>
<text transform="translate(1126.00 488.80) scale(0.965 1)" font-size="26" text-anchor="middle">1.5</text>
<text transform="translate(1165.20 488.80) scale(0.965 1)" font-size="26" text-anchor="middle">2.0</text>
<text transform="translate(97.00 742.50) scale(0.965 1)" font-size="26" text-anchor="middle">0</text>
<text transform="translate(143.00 742.50) scale(0.965 1)" font-size="26" text-anchor="middle">0.5</text>
<text transform="translate(187.30 742.50) scale(0.965 1)" font-size="26" text-anchor="middle">1.0</text>
<text transform="translate(232.00 742.50) scale(0.965 1)" font-size="26" text-anchor="middle">1.5</text>
<text transform="translate(275.80 742.50) scale(0.965 1)" font-size="26" text-anchor="middle">2.0</text>
<text transform="translate(321.00 742.50) scale(0.965 1)" font-size="26" text-anchor="middle">0</text>
<text transform="translate(366.88 742.50) scale(0.965 1)" font-size="26" text-anchor="middle">0.5</text>
<text transform="translate(411.05 742.50) scale(0.965 1)" font-size="26" text-anchor="middle">1.0</text>
<text transform="translate(455.62 742.50) scale(0.965 1)" font-size="26" text-anchor="middle">1.5</text>
<text transform="translate(499.30 742.50) scale(0.965 1)" font-size="26" text-anchor="middle">2.0</text>
<text transform="translate(544.20 742.50) scale(0.965 1)" font-size="26" text-anchor="middle">0</text>
<text transform="translate(590.00 742.50) scale(0.965 1)" font-size="26" text-anchor="middle">0.5</text>
<text transform="translate(634.10 742.50) scale(0.965 1)" font-size="26" text-anchor="middle">1.0</text>
<text transform="translate(678.60 742.50) scale(0.965 1)" font-size="26" text-anchor="middle">1.5</text>
<text transform="translate(722.20 742.50) scale(0.965 1)" font-size="26" text-anchor="middle">2.0</text>
<text transform="translate(766.90 742.50) scale(0.965 1)" font-size="26" text-anchor="middle">0</text>
<text transform="translate(812.77 742.50) scale(0.965 1)" font-size="26" text-anchor="middle">0.5</text>
<text transform="translate(856.95 742.50) scale(0.965 1)" font-size="26" text-anchor="middle">1.0</text>
<text transform="translate(901.52 742.50) scale(0.965 1)" font-size="26" text-anchor="middle">1.5</text>
<text transform="translate(945.20 742.50) scale(0.965 1)" font-size="26" text-anchor="middle">2.0</text>
<text transform="translate(990.20 742.50) scale(0.965 1)" font-size="26" text-anchor="middle">0</text>
<text transform="translate(1036.15 742.50) scale(0.965 1)" font-size="26" text-anchor="middle">0.5</text>
<text transform="translate(1080.40 742.50) scale(0.965 1)" font-size="26" text-anchor="middle">1.0</text>
<text transform="translate(1125.05 742.50) scale(0.965 1)" font-size="26" text-anchor="middle">1.5</text>
<text transform="translate(1164.20 742.50) scale(0.965 1)" font-size="26" text-anchor="middle">2.0</text>
<text x="90.8" y="698.7" font-size="25.6" text-anchor="end" >0</text>
<text x="76.9" y="714.5" font-size="24.5" text-anchor="start" font-style="italic" ><tspan fill="#ff0000">g</tspan></text>
<path d="M59.90 708.50L75.00 708.50" stroke="#ff0000" stroke-width="1.30"/>
<text x="314.6" y="698.7" font-size="25.6" text-anchor="end" >0</text>
<text x="300.7" y="714.5" font-size="24.5" text-anchor="start" font-style="italic" ><tspan fill="#ff0000">g</tspan></text>
<path d="M283.70 708.50L298.80 708.50" stroke="#ff0000" stroke-width="1.30"/>
<text x="534.3" y="698.7" font-size="25.6" text-anchor="end" >0</text>
<text x="520.4" y="714.5" font-size="24.5" text-anchor="start" font-style="italic" ><tspan fill="#ff0000">g</tspan></text>
<path d="M503.40 708.50L518.50 708.50" stroke="#ff0000" stroke-width="1.30"/>
<text x="761.4" y="698.7" font-size="25.6" text-anchor="end" >0</text>
<text x="747.5" y="714.5" font-size="24.5" text-anchor="start" font-style="italic" ><tspan fill="#ff0000">g</tspan></text>
<path d="M730.50 708.50L745.60 708.50" stroke="#ff0000" stroke-width="1.30"/>
<text x="983.2" y="698.7" font-size="25.6" text-anchor="end" >0</text>
<text x="969.3" y="714.5" font-size="24.5" text-anchor="start" font-style="italic" ><tspan fill="#ff0000">g</tspan></text>
<path d="M952.30 708.50L967.40 708.50" stroke="#ff0000" stroke-width="1.30"/>
<text x="161.9" y="779.8" font-size="28.7" text-anchor="start" font-style="italic" >t</text>
<path d="M172.10 785.90L181.90 760.40" stroke="#000" stroke-width="1.35"/>
<text x="183.9" y="779.8" font-size="28.7" text-anchor="start" font-style="italic" >T</text>
<text x="201.2" y="784.6" font-size="20.0" text-anchor="start" font-style="italic" >F</text>
<text x="385.8" y="779.8" font-size="28.7" text-anchor="start" font-style="italic" >t</text>
<path d="M396.00 785.90L405.80 760.40" stroke="#000" stroke-width="1.35"/>
<text x="407.8" y="779.8" font-size="28.7" text-anchor="start" font-style="italic" >T</text>
<text x="425.1" y="784.6" font-size="20.0" text-anchor="start" font-style="italic" >F</text>
<text x="609.0" y="779.8" font-size="28.7" text-anchor="start" font-style="italic" >t</text>
<path d="M619.25 785.90L629.05 760.40" stroke="#000" stroke-width="1.35"/>
<text x="631.0" y="779.8" font-size="28.7" text-anchor="start" font-style="italic" >T</text>
<text x="648.3" y="784.6" font-size="20.0" text-anchor="start" font-style="italic" >F</text>
<text x="831.9" y="779.8" font-size="28.7" text-anchor="start" font-style="italic" >t</text>
<path d="M842.10 785.90L851.90 760.40" stroke="#000" stroke-width="1.35"/>
<text x="853.9" y="779.8" font-size="28.7" text-anchor="start" font-style="italic" >T</text>
<text x="871.2" y="784.6" font-size="20.0" text-anchor="start" font-style="italic" >F</text>
<text x="1055.5" y="779.8" font-size="28.7" text-anchor="start" font-style="italic" >t</text>
<path d="M1065.65 785.90L1075.45 760.40" stroke="#000" stroke-width="1.35"/>
<text x="1077.5" y="779.8" font-size="28.7" text-anchor="start" font-style="italic" >T</text>
<text x="1094.8" y="784.6" font-size="20.0" text-anchor="start" font-style="italic" >F</text>
<text x="19.8" y="23.4" font-size="28.0" text-anchor="start" >(<tspan font-style="italic" dx="1.3">a</tspan><tspan dx="1.6">)</tspan></text>
<text x="19.8" y="290.3" font-size="28.0" text-anchor="start" >(<tspan font-style="italic" dx="1.3">b</tspan><tspan dx="1.6">)</tspan></text>
<text x="19.8" y="532.0" font-size="28.0" text-anchor="start" >(<tspan font-style="italic" dx="1.3">c</tspan><tspan dx="1.6">)</tspan></text>
<text transform="translate(44.9 230.5) rotate(-90)" font-size="29.6" >Bath height,</text>
<g fill="none" stroke="#000" stroke-linecap="round" stroke-linejoin="round"><path d="M24.6 68.6 C27 69.8 33 71.8 38 73.4 C41 74.4 43.5 75.4 45.4 76.0" stroke-width="2.6"/><path d="M24.4 68.4 l1.2 2.2" stroke-width="1.6"/><path d="M27.8 69.0 C25.0 66.0 23.8 61.5 25.0 58.6 C26.2 56.4 29.0 57.0 31.0 59.6 C32.6 61.8 33.6 64.6 33.8 67.0" stroke-width="1.9"/><path d="M33.8 67.0 C33.2 63.0 33.8 59.6 36.4 58.2 C39.6 56.8 43.2 58.6 44.8 62.0 C46.0 65.2 45.4 69.6 43.0 72.6" stroke-width="2.2"/></g>
<text transform="translate(42.6 490.5) rotate(-90)" font-size="29.6" >Drop height,</text>
<text transform="translate(43.0 332.5) rotate(-90)" font-size="29.6" font-style="italic">z</text>
<text transform="translate(47.5 320.8) rotate(-90)" font-size="20.5" font-style="italic">T</text>
<text transform="translate(43.4 761.6) rotate(-90)" font-size="29.6" >Vertical accel.,</text>
<text transform="translate(43.7 576.6) rotate(-90)" font-size="29.6" font-style="italic">z</text>
<text transform="translate(47.9 564.8) rotate(-90)" font-size="20.5" font-style="italic">T</text>
<circle cx="23.9" cy="567.0" r="1.3"/><circle cx="23.9" cy="572.0" r="1.3"/>
<text x="190.0" y="30.3" font-size="25.0" text-anchor="middle" >(2, 2)</text>
<text x="419.5" y="30.3" font-size="25.0" text-anchor="middle" >Borderline (2, 1)<tspan font-size="16" dy="-9.6">1</tspan></text>
<text x="636.0" y="30.3" font-size="25.0" text-anchor="middle" >(2, 1)<tspan font-size="16" dy="-9.6">1</tspan></text>
<text x="846.0" y="30.3" font-size="25.0" text-anchor="middle" >(2, 1)<tspan font-size="16" dy="-9.6">2</tspan></text>
<text x="1072.5" y="30.3" font-size="25.0" text-anchor="middle" >(4, 2)</text>
<text x="77.0" y="62.2" font-size="18.7" text-anchor="start" font-style="italic" >R</text>
<path d="M92.80 57.20L105.40 57.20" stroke="#000" stroke-width="0.95"/>
<path d="M92.80 60.10L105.40 60.10" stroke="#000" stroke-width="0.95"/>
<path d="M227.80 57.20L240.80 57.20" stroke="#000" stroke-width="0.95"/>
<path d="M227.80 60.10L240.80 60.10" stroke="#000" stroke-width="0.95"/>
<text x="109.5" y="62.2" font-size="18.7" text-anchor="start" >0.40</text>
<text x="147.1" y="62.2" font-size="18.7" text-anchor="start" >mm,</text>
<g transform="translate(187.00 62.20)" fill="none" stroke="#000" stroke-linecap="round"><path d="M0.2 -6.9C0.8 -8.1 2.6 -8.0 3.3 -6.6C3.7 -5.2 3.6 -3.0 3.5 -1.4" stroke-width="0.95"/><path d="M9.1 -7.6C7.5 -5.5 5.0 -3.0 3.6 -1.0C2.8 0.4 2.3 1.6 2.0 2.9" stroke-width="1.05"/><ellipse cx="2.1" cy="2.5" rx="0.75" ry="1.05" transform="rotate(20 2.1 2.5)" fill="#000" stroke="none"/></g>
<g transform="translate(206.30 62.20)" fill="none" stroke="#000" stroke-linecap="round"><path d="M0.2 -6.9C0.8 -8.1 2.6 -8.0 3.3 -6.6C3.7 -5.2 3.6 -3.0 3.5 -1.4" stroke-width="0.95"/><path d="M9.1 -7.6C7.5 -5.5 5.0 -3.0 3.6 -1.0C2.8 0.4 2.3 1.6 2.0 2.9" stroke-width="1.05"/><ellipse cx="2.1" cy="2.5" rx="0.75" ry="1.05" transform="rotate(20 2.1 2.5)" fill="#000" stroke="none"/></g>
<path d="M197.60 65.60L204.40 49.70" stroke="#000" stroke-width="1.15"/>
<text x="215.4" y="64.8" font-size="12.6" text-anchor="start" font-style="italic" >F</text>
<text x="245.0" y="62.2" font-size="18.7" text-anchor="start" >0.58</text>
<text x="311.2" y="62.2" font-size="18.7" text-anchor="start" font-style="italic" >R</text>
<path d="M327.00 57.20L339.60 57.20" stroke="#000" stroke-width="0.95"/>
<path d="M327.00 60.10L339.60 60.10" stroke="#000" stroke-width="0.95"/>
<path d="M462.00 57.20L475.00 57.20" stroke="#000" stroke-width="0.95"/>
<path d="M462.00 60.10L475.00 60.10" stroke="#000" stroke-width="0.95"/>
<text x="343.7" y="62.2" font-size="18.7" text-anchor="start" >0.32</text>
<text x="381.3" y="62.2" font-size="18.7" text-anchor="start" >mm,</text>
<g transform="translate(421.20 62.20)" fill="none" stroke="#000" stroke-linecap="round"><path d="M0.2 -6.9C0.8 -8.1 2.6 -8.0 3.3 -6.6C3.7 -5.2 3.6 -3.0 3.5 -1.4" stroke-width="0.95"/><path d="M9.1 -7.6C7.5 -5.5 5.0 -3.0 3.6 -1.0C2.8 0.4 2.3 1.6 2.0 2.9" stroke-width="1.05"/><ellipse cx="2.1" cy="2.5" rx="0.75" ry="1.05" transform="rotate(20 2.1 2.5)" fill="#000" stroke="none"/></g>
<g transform="translate(440.50 62.20)" fill="none" stroke="#000" stroke-linecap="round"><path d="M0.2 -6.9C0.8 -8.1 2.6 -8.0 3.3 -6.6C3.7 -5.2 3.6 -3.0 3.5 -1.4" stroke-width="0.95"/><path d="M9.1 -7.6C7.5 -5.5 5.0 -3.0 3.6 -1.0C2.8 0.4 2.3 1.6 2.0 2.9" stroke-width="1.05"/><ellipse cx="2.1" cy="2.5" rx="0.75" ry="1.05" transform="rotate(20 2.1 2.5)" fill="#000" stroke="none"/></g>
<path d="M431.80 65.60L438.60 49.70" stroke="#000" stroke-width="1.15"/>
<text x="449.6" y="64.8" font-size="12.6" text-anchor="start" font-style="italic" >F</text>
<text x="479.2" y="62.2" font-size="18.7" text-anchor="start" >0.58</text>
<text x="535.3" y="62.2" font-size="18.7" text-anchor="start" font-style="italic" >R</text>
<path d="M551.10 57.20L563.70 57.20" stroke="#000" stroke-width="0.95"/>
<path d="M551.10 60.10L563.70 60.10" stroke="#000" stroke-width="0.95"/>
<path d="M686.10 57.20L699.10 57.20" stroke="#000" stroke-width="0.95"/>
<path d="M686.10 60.10L699.10 60.10" stroke="#000" stroke-width="0.95"/>
<text x="567.8" y="62.2" font-size="18.7" text-anchor="start" >0.32</text>
<text x="605.4" y="62.2" font-size="18.7" text-anchor="start" >mm,</text>
<g transform="translate(645.30 62.20)" fill="none" stroke="#000" stroke-linecap="round"><path d="M0.2 -6.9C0.8 -8.1 2.6 -8.0 3.3 -6.6C3.7 -5.2 3.6 -3.0 3.5 -1.4" stroke-width="0.95"/><path d="M9.1 -7.6C7.5 -5.5 5.0 -3.0 3.6 -1.0C2.8 0.4 2.3 1.6 2.0 2.9" stroke-width="1.05"/><ellipse cx="2.1" cy="2.5" rx="0.75" ry="1.05" transform="rotate(20 2.1 2.5)" fill="#000" stroke="none"/></g>
<g transform="translate(664.60 62.20)" fill="none" stroke="#000" stroke-linecap="round"><path d="M0.2 -6.9C0.8 -8.1 2.6 -8.0 3.3 -6.6C3.7 -5.2 3.6 -3.0 3.5 -1.4" stroke-width="0.95"/><path d="M9.1 -7.6C7.5 -5.5 5.0 -3.0 3.6 -1.0C2.8 0.4 2.3 1.6 2.0 2.9" stroke-width="1.05"/><ellipse cx="2.1" cy="2.5" rx="0.75" ry="1.05" transform="rotate(20 2.1 2.5)" fill="#000" stroke="none"/></g>
<path d="M655.90 65.60L662.70 49.70" stroke="#000" stroke-width="1.15"/>
<text x="673.7" y="64.8" font-size="12.6" text-anchor="start" font-style="italic" >F</text>
<text x="703.3" y="62.2" font-size="18.7" text-anchor="start" >0.67</text>
<text x="756.0" y="62.2" font-size="18.7" text-anchor="start" font-style="italic" >R</text>
<path d="M771.80 57.20L784.40 57.20" stroke="#000" stroke-width="0.95"/>
<path d="M771.80 60.10L784.40 60.10" stroke="#000" stroke-width="0.95"/>
<path d="M906.80 57.20L919.80 57.20" stroke="#000" stroke-width="0.95"/>
<path d="M906.80 60.10L919.80 60.10" stroke="#000" stroke-width="0.95"/>
<text x="788.5" y="62.2" font-size="18.7" text-anchor="start" >0.32</text>
<text x="826.1" y="62.2" font-size="18.7" text-anchor="start" >mm,</text>
<g transform="translate(866.00 62.20)" fill="none" stroke="#000" stroke-linecap="round"><path d="M0.2 -6.9C0.8 -8.1 2.6 -8.0 3.3 -6.6C3.7 -5.2 3.6 -3.0 3.5 -1.4" stroke-width="0.95"/><path d="M9.1 -7.6C7.5 -5.5 5.0 -3.0 3.6 -1.0C2.8 0.4 2.3 1.6 2.0 2.9" stroke-width="1.05"/><ellipse cx="2.1" cy="2.5" rx="0.75" ry="1.05" transform="rotate(20 2.1 2.5)" fill="#000" stroke="none"/></g>
<g transform="translate(885.30 62.20)" fill="none" stroke="#000" stroke-linecap="round"><path d="M0.2 -6.9C0.8 -8.1 2.6 -8.0 3.3 -6.6C3.7 -5.2 3.6 -3.0 3.5 -1.4" stroke-width="0.95"/><path d="M9.1 -7.6C7.5 -5.5 5.0 -3.0 3.6 -1.0C2.8 0.4 2.3 1.6 2.0 2.9" stroke-width="1.05"/><ellipse cx="2.1" cy="2.5" rx="0.75" ry="1.05" transform="rotate(20 2.1 2.5)" fill="#000" stroke="none"/></g>
<path d="M876.60 65.60L883.40 49.70" stroke="#000" stroke-width="1.15"/>
<text x="894.4" y="64.8" font-size="12.6" text-anchor="start" font-style="italic" >F</text>
<text x="924.0" y="62.2" font-size="18.7" text-anchor="start" >0.81</text>
<text x="978.9" y="62.2" font-size="18.7" text-anchor="start" font-style="italic" >R</text>
<path d="M994.70 57.20L1007.30 57.20" stroke="#000" stroke-width="0.95"/>
<path d="M994.70 60.10L1007.30 60.10" stroke="#000" stroke-width="0.95"/>
<path d="M1129.70 57.20L1142.70 57.20" stroke="#000" stroke-width="0.95"/>
<path d="M1129.70 60.10L1142.70 60.10" stroke="#000" stroke-width="0.95"/>
<text x="1011.4" y="62.2" font-size="18.7" text-anchor="start" >0.32</text>
<text x="1049.0" y="62.2" font-size="18.7" text-anchor="start" >mm,</text>
<g transform="translate(1088.90 62.20)" fill="none" stroke="#000" stroke-linecap="round"><path d="M0.2 -6.9C0.8 -8.1 2.6 -8.0 3.3 -6.6C3.7 -5.2 3.6 -3.0 3.5 -1.4" stroke-width="0.95"/><path d="M9.1 -7.6C7.5 -5.5 5.0 -3.0 3.6 -1.0C2.8 0.4 2.3 1.6 2.0 2.9" stroke-width="1.05"/><ellipse cx="2.1" cy="2.5" rx="0.75" ry="1.05" transform="rotate(20 2.1 2.5)" fill="#000" stroke="none"/></g>
<g transform="translate(1108.20 62.20)" fill="none" stroke="#000" stroke-linecap="round"><path d="M0.2 -6.9C0.8 -8.1 2.6 -8.0 3.3 -6.6C3.7 -5.2 3.6 -3.0 3.5 -1.4" stroke-width="0.95"/><path d="M9.1 -7.6C7.5 -5.5 5.0 -3.0 3.6 -1.0C2.8 0.4 2.3 1.6 2.0 2.9" stroke-width="1.05"/><ellipse cx="2.1" cy="2.5" rx="0.75" ry="1.05" transform="rotate(20 2.1 2.5)" fill="#000" stroke="none"/></g>
<path d="M1099.50 65.60L1106.30 49.70" stroke="#000" stroke-width="1.15"/>
<text x="1117.3" y="64.8" font-size="12.6" text-anchor="start" font-style="italic" >F</text>
<text x="1146.9" y="62.2" font-size="18.7" text-anchor="start" >0.95</text>
<text x="567.9" y="620.8" font-size="23.0" text-anchor="start" font-style="italic" >t</text>
<text x="574.4" y="624.3" font-size="15.3" text-anchor="start" font-style="italic" >I</text>
<text x="607.3" y="620.8" font-size="23.0" text-anchor="start" font-style="italic" >t</text>
<text x="613.9" y="624.3" font-size="15.3" text-anchor="start" font-style="italic" >R</text>
</svg></body></html>
